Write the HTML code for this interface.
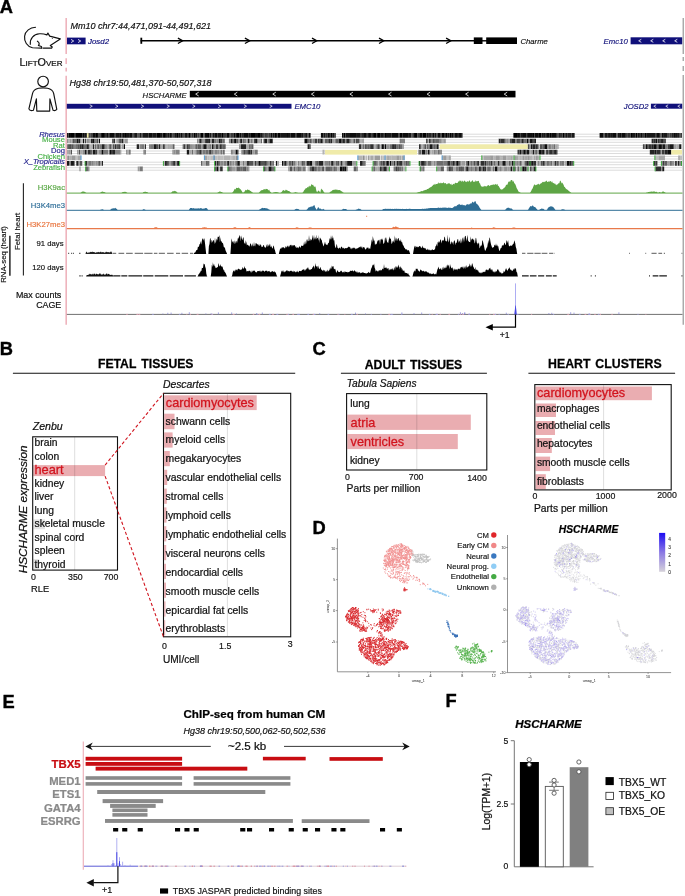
<!DOCTYPE html>
<html><head><meta charset="utf-8"><style>
html,body{margin:0;padding:0;background:#fff;width:685px;height:896px;overflow:hidden}
svg{display:block;will-change:transform}
text{font-family:"Liberation Sans",sans-serif}
</style></head><body>
<svg width="685" height="896" viewBox="0 0 685 896">
<text x="-0.2" y="12.9" font-size="18.3" fill="#000" stroke="#000" stroke-width="0.38" font-weight="bold">A</text>
<g fill="none" stroke="#111" stroke-width="1.15" stroke-linecap="round" stroke-linejoin="round"><path d="M35.5 27.3 C30 27.4 25.2 31 24.6 36.3 C24 41.5 27 46.5 32.5 47.8 L41.6 48.1"/><path d="M30.3 44.3 C29.8 38.5 33.5 34.2 39.5 33.8 C42.5 33.6 45 34.2 46.9 34.9 L47.9 33.1 L49.7 36.1 L60.3 38.9 L50.3 45.5 L52.3 47 L51.6 48.1 L43.3 48.1"/><path d="M37.4 41.2 C39.5 42.5 39.6 44.3 38.4 45.5 L41.4 46.5 L41.9 48.1"/></g>
<circle cx="52.3" cy="38.5" r="0.5" fill="#222"/>
<text x="19.6" y="65.6" fill="#111" font-size="10.8" stroke="#111" stroke-width="0.23">L<tspan font-size="8.0">IFT</tspan>O<tspan font-size="8.0">VER</tspan></text>
<g fill="none" stroke="#111" stroke-width="1.15" stroke-linejoin="round"><circle cx="43.1" cy="81.5" r="5.3"/><path d="M36.4 98.9 L36.8 111.1 L49.7 111.1 L49.9 98.9 L53.1 110.3 Q55.3 111.1 56.8 109.4 L53.7 93.6 Q52.8 89.4 47.5 88.3 Q43 87.5 38.6 88.3 Q33.4 89.4 32.5 93.6 L28.9 108.8 Q29.6 111.2 33.4 110.3 Z"/></g>
<path d="M66.2 18 V54 M66.2 58.2 V64 M66.2 67.7 V71.4 M66.2 75.8 V324.7" stroke="#eeb4bd" stroke-width="1.6" fill="none"/>
<path d="M683.2 18 V54 M683.2 57 V61 M683.2 66 V71 M683.2 75 V324.7" stroke="#8e8e8e" stroke-width="1.1" fill="none"/>
<text x="70.4" y="28.7" font-size="9.0" fill="#111" stroke="#111" stroke-width="0.19" font-style="italic">Mm10 chr7:44,471,091-44,491,621</text>
<rect x="67.00" y="37.60" width="18.60" height="6.70" fill="#10107a" />
<path d="M71.0 39.4 L73.7 41 L71.0 42.6" stroke="#fff" stroke-width="0.8" fill="none"/>
<path d="M78.0 39.4 L80.7 41 L78.0 42.6" stroke="#fff" stroke-width="0.8" fill="none"/>
<text x="88.0" y="43.6" font-size="7.9" fill="#10107a" stroke="#10107a" stroke-width="0.17" font-style="italic">Josd2</text>
<line x1="140.60" y1="40.80" x2="474.00" y2="40.80" stroke="#000" stroke-width="1.4" />
<line x1="141.30" y1="37.70" x2="141.30" y2="43.80" stroke="#000" stroke-width="1.8" />
<path d="M177.9 38.1 L182.7 40.8 L177.9 43.5" stroke="#000" stroke-width="1.3" fill="none"/>
<path d="M244.9 38.1 L249.8 40.8 L244.9 43.5" stroke="#000" stroke-width="1.3" fill="none"/>
<path d="M312.0 38.1 L316.8 40.8 L312.0 43.5" stroke="#000" stroke-width="1.3" fill="none"/>
<path d="M379.0 38.1 L383.8 40.8 L379.0 43.5" stroke="#000" stroke-width="1.3" fill="none"/>
<path d="M446.1 38.1 L450.9 40.8 L446.1 43.5" stroke="#000" stroke-width="1.3" fill="none"/>
<rect x="473.80" y="37.40" width="8.70" height="6.60" fill="#000" />
<line x1="482.00" y1="40.80" x2="487.00" y2="40.80" stroke="#000" stroke-width="1.4" />
<rect x="486.20" y="37.40" width="30.80" height="6.60" fill="#000" />
<text x="520.5" y="43.7" font-size="7.7" fill="#111" stroke="#111" stroke-width="0.16" font-style="italic">Charme</text>
<text x="603.6" y="43.8" font-size="7.8" fill="#10107a" stroke="#10107a" stroke-width="0.16" font-style="italic">Emc10</text>
<rect x="630.60" y="37.30" width="51.60" height="7.00" fill="#10107a" />
<path d="M641.3 39.3 L638.7 40.8 L641.3 42.3" stroke="#fff" stroke-width="0.8" fill="none"/>
<path d="M653.3 39.3 L650.7 40.8 L653.3 42.3" stroke="#fff" stroke-width="0.8" fill="none"/>
<path d="M665.3 39.3 L662.7 40.8 L665.3 42.3" stroke="#fff" stroke-width="0.8" fill="none"/>
<path d="M677.3 39.3 L674.7 40.8 L677.3 42.3" stroke="#fff" stroke-width="0.8" fill="none"/>
<text x="69.4" y="86.1" font-size="9.0" fill="#111" stroke="#111" stroke-width="0.19" font-style="italic">Hg38 chr19:50,481,370-50,507,318</text>
<text x="142.6" y="98.0" font-size="7.7" fill="#111" stroke="#111" stroke-width="0.16" font-style="italic">HSCHARME</text>
<rect x="189.80" y="90.80" width="325.70" height="6.60" fill="#000" />
<path d="M198.7 92.2 L195.7 94.1 L198.7 96" stroke="#fff" stroke-width="0.8" fill="none"/>
<path d="M237.3 92.2 L234.3 94.1 L237.3 96" stroke="#fff" stroke-width="0.8" fill="none"/>
<path d="M275.8 92.2 L272.8 94.1 L275.8 96" stroke="#fff" stroke-width="0.8" fill="none"/>
<path d="M314.4 92.2 L311.4 94.1 L314.4 96" stroke="#fff" stroke-width="0.8" fill="none"/>
<path d="M352.9 92.2 L349.9 94.1 L352.9 96" stroke="#fff" stroke-width="0.8" fill="none"/>
<path d="M391.5 92.2 L388.5 94.1 L391.5 96" stroke="#fff" stroke-width="0.8" fill="none"/>
<path d="M430.1 92.2 L427.1 94.1 L430.1 96" stroke="#fff" stroke-width="0.8" fill="none"/>
<path d="M468.6 92.2 L465.6 94.1 L468.6 96" stroke="#fff" stroke-width="0.8" fill="none"/>
<path d="M507.2 92.2 L504.2 94.1 L507.2 96" stroke="#fff" stroke-width="0.8" fill="none"/>
<rect x="66.80" y="103.80" width="224.70" height="4.90" fill="#10107a" />
<path d="M89.7 104.7 L92.3 106.2 L89.7 107.7" stroke="#fff" stroke-width="0.7" fill="none"/>
<path d="M115.4 104.7 L118.0 106.2 L115.4 107.7" stroke="#fff" stroke-width="0.7" fill="none"/>
<path d="M141.1 104.7 L143.7 106.2 L141.1 107.7" stroke="#fff" stroke-width="0.7" fill="none"/>
<path d="M166.8 104.7 L169.4 106.2 L166.8 107.7" stroke="#fff" stroke-width="0.7" fill="none"/>
<path d="M192.5 104.7 L195.1 106.2 L192.5 107.7" stroke="#fff" stroke-width="0.7" fill="none"/>
<path d="M218.2 104.7 L220.8 106.2 L218.2 107.7" stroke="#fff" stroke-width="0.7" fill="none"/>
<path d="M243.9 104.7 L246.5 106.2 L243.9 107.7" stroke="#fff" stroke-width="0.7" fill="none"/>
<path d="M269.6 104.7 L272.2 106.2 L269.6 107.7" stroke="#fff" stroke-width="0.7" fill="none"/>
<text x="294.4" y="108.7" font-size="7.8" fill="#10107a" stroke="#10107a" stroke-width="0.16" font-style="italic">EMC10</text>
<text x="623.8" y="109.4" font-size="7.7" fill="#10107a" stroke="#10107a" stroke-width="0.16" font-style="italic">JOSD2</text>
<rect x="650.90" y="103.70" width="31.30" height="5.00" fill="#10107a" />
<path d="M656.2 104.8 L653.8 106.2 L656.2 107.6" stroke="#fff" stroke-width="0.7" fill="none"/>
<path d="M668.2 104.8 L665.8 106.2 L668.2 107.6" stroke="#fff" stroke-width="0.7" fill="none"/>
<path d="M680.2 104.8 L677.8 106.2 L680.2 107.6" stroke="#fff" stroke-width="0.7" fill="none"/>
<text x="64.9" y="136.8" font-size="7.6" fill="#23238c" stroke="#23238c" stroke-width="0.16" text-anchor="end" font-style="italic">Rhesus</text>
<text x="64.9" y="142.3" font-size="7.6" fill="#47b047" stroke="#47b047" stroke-width="0.16" text-anchor="end">Mouse</text>
<text x="64.9" y="147.7" font-size="7.6" fill="#47b047" stroke="#47b047" stroke-width="0.16" text-anchor="end">Rat</text>
<text x="64.9" y="153.2" font-size="7.6" fill="#23238c" stroke="#23238c" stroke-width="0.16" text-anchor="end">Dog</text>
<text x="64.9" y="158.6" font-size="7.6" fill="#47b047" stroke="#47b047" stroke-width="0.16" text-anchor="end">Chicken</text>
<text x="64.9" y="163.9" font-size="7.6" fill="#23238c" stroke="#23238c" stroke-width="0.16" text-anchor="end" font-style="italic">X_Tropicalis</text>
<text x="64.9" y="169.6" font-size="7.6" fill="#47b047" stroke="#47b047" stroke-width="0.16" text-anchor="end">Zebrafish</text>
<path d="M67 134.2H682M67 136.7H682M67 139.8H682M67 142.3H682M67 145.4H682M67 147.9H682M67 151.0H682M67 153.5H682M451 156.5H682M451 159.0H682M67 162.2H682M67 164.7H682M67 167.7H682M67 170.2H682" stroke="#c4c4c4" stroke-width="0.6" fill="none"/>
<path d="M68.5 135.4h1.5M71.0 135.4h1.0M72.0 135.4h2.0M76.0 135.4h2.0M78.0 135.4h0.8M78.8 135.4h1.5M80.3 135.4h2.0M89.6 135.4h0.8M95.2 135.4h0.8M96.0 135.4h1.0M102.0 135.4h2.0M108.5 135.4h1.2M114.4 135.4h1.0M124.9 135.4h2.0M156.8 135.4h2.0M158.8 135.4h1.2M164.0 135.4h1.0M166.2 135.4h1.0M176.2 135.4h2.0M182.6 135.4h1.0M186.1 135.4h1.2M188.8 135.4h1.5M193.5 135.4h1.5M200.8 135.4h2.5M208.0 135.4h1.5M221.3 135.4h2.0M236.1 135.4h0.8M236.9 135.4h2.5M242.2 135.4h1.0M250.2 135.4h2.5M252.7 135.4h1.2M253.9 135.4h1.0M254.9 135.4h1.0M257.1 135.4h1.5M258.6 135.4h1.5M262.3 135.4h1.2M266.3 135.4h1.0M274.8 135.4h1.2M277.6 135.4h2.5M330.7 135.4h1.5M343.5 135.4h2.0M360.4 135.4h1.0M362.2 135.4h0.8M363.0 135.4h0.8M366.3 135.4h1.0M370.1 135.4h1.5M374.0 135.4h1.0M375.0 135.4h1.5M378.0 135.4h1.5M379.5 135.4h1.2M384.4 135.4h2.5M399.5 135.4h1.2M400.7 135.4h2.0M408.0 135.4h0.8M415.0 135.4h2.5M422.5 135.4h1.5M424.0 135.4h2.5M441.5 135.4h1.2M442.7 135.4h1.5M445.2 135.4h2.0M449.7 135.4h1.5M513.4 135.4h1.2M514.6 135.4h2.5M517.1 135.4h0.8M519.1 135.4h1.2M532.1 135.4h1.2M533.3 135.4h1.2M538.2 135.4h0.8M539.0 135.4h2.5M543.0 135.4h0.8M545.3 135.4h1.5M549.3 135.4h2.5M556.3 135.4h1.2M562.4 135.4h2.0M574.6 135.4h0.1M607.3 135.4h0.8M609.1 135.4h1.0M625.1 135.4h0.8M630.4 135.4h2.5M635.4 135.4h2.0M639.9 135.4h0.8M642.7 135.4h1.0M644.5 135.4h1.5M655.7 135.4h1.0M659.2 135.4h1.2M663.1 135.4h0.8M680.5 135.4h0.8" stroke="#000000" stroke-width="4.7" fill="none"/>
<path d="M70.0 135.4h1.0M82.3 135.4h2.5M86.8 135.4h1.2M88.0 135.4h0.8M92.7 135.4h2.5M97.0 135.4h1.5M99.5 135.4h1.0M107.0 135.4h1.5M109.7 135.4h2.0M111.7 135.4h1.2M112.9 135.4h1.5M119.9 135.4h1.5M122.2 135.4h1.2M123.4 135.4h1.5M129.9 135.4h1.0M130.9 135.4h1.5M133.6 135.4h1.2M148.7 135.4h0.8M149.5 135.4h2.5M152.0 135.4h0.8M162.5 135.4h1.5M169.7 135.4h1.0M170.7 135.4h1.2M173.7 135.4h1.0M180.6 135.4h2.0M195.0 135.4h0.8M204.8 135.4h1.2M206.0 135.4h2.0M214.8 135.4h2.5M223.3 135.4h1.5M226.3 135.4h2.0M228.3 135.4h0.8M230.6 135.4h1.2M233.3 135.4h2.0M239.4 135.4h2.0M243.2 135.4h1.5M244.7 135.4h1.0M245.7 135.4h2.5M270.3 135.4h0.8M271.1 135.4h1.5M287.0 135.4h1.0M290.8 135.4h2.5M293.3 135.4h2.0M296.8 135.4h1.5M298.3 135.4h0.8M299.1 135.4h2.0M308.4 135.4h1.5M309.9 135.4h0.7M320.9 135.4h1.5M322.4 135.4h1.2M325.6 135.4h1.2M327.6 135.4h1.5M329.1 135.4h0.8M335.7 135.4h0.3M342.0 135.4h1.5M350.0 135.4h2.0M352.0 135.4h2.5M354.5 135.4h1.2M355.7 135.4h1.2M361.4 135.4h0.8M363.8 135.4h2.5M368.1 135.4h2.0M371.6 135.4h1.2M383.2 135.4h1.2M391.8 135.4h2.5M394.3 135.4h1.2M395.5 135.4h1.5M397.0 135.4h1.5M402.7 135.4h2.5M405.2 135.4h2.0M407.2 135.4h0.8M413.8 135.4h1.2M419.8 135.4h1.5M421.3 135.4h1.2M428.0 135.4h0.8M432.8 135.4h0.8M433.6 135.4h1.0M437.8 135.4h2.5M444.2 135.4h1.0M451.2 135.4h2.5M454.7 135.4h2.0M456.7 135.4h1.2M458.9 135.4h1.0M459.9 135.4h2.0M517.9 135.4h1.2M523.0 135.4h0.8M523.8 135.4h2.5M527.1 135.4h2.5M529.6 135.4h2.5M534.5 135.4h1.2M535.7 135.4h2.5M546.8 135.4h1.0M547.8 135.4h1.5M551.8 135.4h2.5M554.3 135.4h1.2M555.5 135.4h0.8M558.7 135.4h1.2M564.4 135.4h0.8M567.7 135.4h1.2M599.6 135.4h2.0M601.6 135.4h2.0M608.1 135.4h1.0M612.1 135.4h0.8M612.9 135.4h1.5M614.4 135.4h2.0M619.1 135.4h2.0M621.9 135.4h2.0M623.9 135.4h1.2M640.7 135.4h2.0M643.7 135.4h0.8M646.0 135.4h0.8M656.7 135.4h2.5M661.6 135.4h1.5M667.6 135.4h0.8M673.9 135.4h2.0M677.9 135.4h1.0M681.3 135.4h0.7M82.9 141.0h1.2M92.9 141.0h1.5M98.8 141.0h1.2M220.6 141.0h1.2M234.9 141.0h1.2M260.8 141.0h0.8M304.5 141.0h2.5M340.0 141.0h1.5M344.2 141.0h1.0M356.2 141.0h0.8M426.3 141.0h0.8M510.2 141.0h1.2M518.7 141.0h0.8M526.6 141.0h2.0M532.3 141.0h1.0M534.3 141.0h1.6M652.1 141.0h1.2M655.8 141.0h1.5M70.5 146.7h0.8M88.3 146.7h1.0M110.3 146.7h1.2M124.0 146.7h1.0M174.4 146.7h0.1M188.7 146.7h1.0M221.4 146.7h1.0M378.2 146.7h0.8M381.4 146.7h2.5M384.9 146.7h1.2M426.8 146.7h0.8M544.7 146.7h1.5M546.2 146.7h1.0M645.9 146.7h1.2M653.8 146.7h2.5M658.3 146.7h1.2M659.5 146.7h1.5M90.5 152.2h1.2M101.6 152.2h2.0M109.5 152.2h1.5M235.4 152.2h2.0M523.8 152.2h2.0M538.6 152.2h2.5M555.1 152.2h1.2M557.1 152.2h0.3M667.9 152.2h2.5M670.4 152.2h0.9M76.4 163.4h1.5M217.1 163.4h1.2M258.3 163.4h2.5M264.3 163.4h1.5M282.0 163.4h1.0M292.2 163.4h1.0M309.9 163.4h2.5M386.2 163.4h1.2M387.4 163.4h1.5M389.7 163.4h1.5M396.9 163.4h1.0M424.9 163.4h0.8M452.4 163.4h1.5M456.2 163.4h2.5M566.8 163.4h2.5M675.8 163.4h1.0M217.0 168.9h1.5M305.2 168.9h0.3M339.8 168.9h2.5M344.8 168.9h1.5M373.5 168.9h1.2M460.9 168.9h0.8M484.4 168.9h1.5M494.9 168.9h1.5M496.4 168.9h1.2M522.7 168.9h2.0" stroke="#0c0c0c" stroke-width="4.7" fill="none"/>
<path d="M67.0 135.4h1.5M84.8 135.4h2.0M88.8 135.4h0.8M91.2 135.4h1.5M98.5 135.4h1.0M100.5 135.4h1.5M104.0 135.4h1.0M115.4 135.4h2.0M117.4 135.4h2.5M121.4 135.4h0.8M126.9 135.4h1.0M127.9 135.4h2.0M134.8 135.4h2.5M139.5 135.4h2.0M142.7 135.4h1.5M144.2 135.4h2.5M146.7 135.4h1.2M147.9 135.4h0.8M152.8 135.4h1.5M154.3 135.4h2.5M160.0 135.4h2.5M165.0 135.4h1.2M167.2 135.4h2.5M172.7 135.4h1.0M174.7 135.4h1.5M178.2 135.4h1.2M179.4 135.4h1.2M184.6 135.4h1.5M187.3 135.4h1.5M190.3 135.4h1.2M195.8 135.4h1.0M196.8 135.4h0.8M199.6 135.4h1.2M209.5 135.4h1.0M210.5 135.4h0.8M212.3 135.4h1.5M213.8 135.4h1.0M217.3 135.4h2.0M219.3 135.4h2.0M235.3 135.4h0.8M241.4 135.4h0.8M248.2 135.4h2.0M255.9 135.4h1.2M260.1 135.4h1.0M261.1 135.4h1.2M263.5 135.4h0.8M272.6 135.4h1.2M273.8 135.4h1.0M276.0 135.4h0.8M276.8 135.4h0.8M280.1 135.4h2.0M282.1 135.4h1.2M283.3 135.4h1.0M284.3 135.4h1.2M285.5 135.4h1.5M288.0 135.4h0.8M288.8 135.4h2.0M295.3 135.4h1.5M301.1 135.4h0.8M301.9 135.4h1.2M305.1 135.4h2.5M323.6 135.4h2.0M326.8 135.4h0.8M329.9 135.4h0.8M332.2 135.4h2.0M345.5 135.4h2.5M348.0 135.4h2.0M356.9 135.4h2.5M359.4 135.4h1.0M367.3 135.4h0.8M372.8 135.4h1.2M376.5 135.4h1.5M380.7 135.4h2.5M386.9 135.4h1.2M388.1 135.4h2.5M390.6 135.4h1.2M398.5 135.4h1.0M408.8 135.4h2.5M412.3 135.4h1.5M419.0 135.4h0.8M426.5 135.4h1.5M431.3 135.4h1.5M434.6 135.4h2.0M440.3 135.4h1.2M447.2 135.4h2.5M453.7 135.4h1.0M457.9 135.4h1.0M520.3 135.4h1.2M521.5 135.4h1.5M526.3 135.4h0.8M541.5 135.4h1.5M543.8 135.4h1.5M565.2 135.4h2.5M571.4 135.4h2.0M573.4 135.4h1.2M604.6 135.4h1.2M605.8 135.4h1.5M610.1 135.4h2.0M617.6 135.4h1.5M621.1 135.4h0.8M632.9 135.4h2.5M637.4 135.4h2.5M646.8 135.4h1.2M648.0 135.4h1.5M649.5 135.4h2.5M652.0 135.4h1.2M653.2 135.4h2.5M663.9 135.4h2.5M666.4 135.4h1.2M668.4 135.4h1.0M675.9 135.4h2.0M678.9 135.4h0.8M76.4 141.0h2.0M127.2 141.0h0.3M218.6 141.0h2.0M233.9 141.0h1.0M243.3 141.0h1.2M256.0 141.0h1.0M264.8 141.0h2.5M269.5 141.0h2.5M320.7 141.0h2.0M338.5 141.0h1.5M429.1 141.0h1.0M529.8 141.0h2.5M658.1 141.0h1.5M660.4 141.0h1.5M663.4 141.0h1.2M69.7 146.7h0.8M108.7 146.7h0.8M113.0 146.7h0.8M145.0 146.7h0.9M153.5 146.7h2.0M155.5 146.7h1.2M195.9 146.7h0.8M197.9 146.7h0.8M203.2 146.7h1.5M204.7 146.7h2.0M209.5 146.7h1.2M211.7 146.7h2.0M365.2 146.7h1.0M369.7 146.7h1.0M393.1 146.7h1.0M429.8 146.7h2.5M437.0 146.7h1.6M530.9 146.7h1.2M656.3 146.7h1.2M662.5 146.7h2.5M670.0 146.7h2.5M672.5 146.7h0.8M679.1 146.7h0.8M679.9 146.7h1.2M79.2 152.2h1.0M84.7 152.2h1.5M92.9 152.2h2.5M186.8 152.2h2.5M237.4 152.2h0.8M238.8 152.2h0.2M421.9 152.2h1.0M422.9 152.2h2.5M426.4 152.2h0.8M427.8 152.2h1.2M519.5 152.2h1.5M527.0 152.2h2.0M532.5 152.2h2.0M542.1 152.2h2.0M654.8 152.2h1.5M67.0 163.4h2.0M70.5 163.4h2.5M80.3 163.4h1.5M98.6 163.4h1.2M177.1 163.4h2.0M215.1 163.4h1.2M227.1 163.4h0.8M237.2 163.4h2.0M270.1 163.4h1.5M273.4 163.4h0.4M275.9 163.4h1.2M347.1 163.4h2.5M349.6 163.4h2.5M393.7 163.4h1.2M423.1 163.4h1.0M467.3 163.4h2.0M503.0 163.4h2.5M512.0 163.4h1.0M531.2 163.4h2.0M675.0 163.4h0.8M263.6 168.9h1.2M268.6 168.9h2.5M342.3 168.9h2.5M443.1 168.9h0.6M493.3 168.9h1.0M511.0 168.9h1.2M517.8 168.9h0.8M662.2 168.9h2.0" stroke="#181818" stroke-width="4.7" fill="none"/>
<path d="M132.4 135.4h1.2M138.3 135.4h1.2M141.5 135.4h1.2M183.6 135.4h1.0M267.3 135.4h1.0M428.8 135.4h2.5M568.9 135.4h2.5M671.9 135.4h2.0M78.4 141.0h2.0M85.1 141.0h1.0M90.9 141.0h2.0M97.2 141.0h0.8M119.3 141.0h1.5M122.0 141.0h1.5M199.2 141.0h2.5M208.1 141.0h2.0M211.6 141.0h2.5M230.9 141.0h1.0M231.9 141.0h0.8M240.1 141.0h1.2M241.3 141.0h0.8M247.5 141.0h1.5M253.8 141.0h1.0M263.6 141.0h1.2M307.0 141.0h0.8M319.5 141.0h1.2M330.5 141.0h1.5M342.7 141.0h1.5M346.2 141.0h2.5M348.7 141.0h1.0M399.8 141.0h0.8M498.8 141.0h1.5M504.6 141.0h0.8M507.6 141.0h0.8M511.4 141.0h2.5M513.9 141.0h1.5M517.2 141.0h1.5M519.5 141.0h1.0M521.3 141.0h1.2M522.5 141.0h0.8M533.3 141.0h1.0M659.6 141.0h0.8M661.9 141.0h1.5M81.3 146.7h2.5M86.3 146.7h2.0M92.6 146.7h1.5M102.0 146.7h1.2M103.2 146.7h1.5M118.7 146.7h1.2M136.7 146.7h2.5M158.5 146.7h2.0M241.0 146.7h2.5M243.5 146.7h2.5M307.6 146.7h2.0M392.1 146.7h1.0M398.6 146.7h1.2M532.9 146.7h2.5M543.7 146.7h1.0M651.8 146.7h2.0M661.0 146.7h1.5M95.4 152.2h1.5M113.0 152.2h2.0M248.1 152.2h2.5M257.1 152.2h0.4M418.8 152.2h0.8M523.0 152.2h0.8M546.9 152.2h1.0M552.4 152.2h1.2M556.3 152.2h0.8M649.8 152.2h2.5M652.3 152.2h2.5M664.9 152.2h1.0M665.9 152.2h2.0M73.0 163.4h1.5M101.8 163.4h1.2M164.9 163.4h2.0M220.6 163.4h0.8M224.5 163.4h1.0M227.9 163.4h1.5M239.2 163.4h1.0M284.2 163.4h2.5M302.1 163.4h0.8M306.4 163.4h2.5M308.9 163.4h1.0M318.6 163.4h2.5M321.1 163.4h2.0M331.1 163.4h2.5M356.6 163.4h0.2M360.0 163.4h2.0M363.5 163.4h1.2M419.0 163.4h1.5M421.1 163.4h2.0M471.3 163.4h1.0M497.5 163.4h2.0M526.2 163.4h2.5M547.3 163.4h0.8M569.3 163.4h0.8M570.1 163.4h1.2M678.0 163.4h1.5M680.7 163.4h1.3M297.5 168.9h1.2M318.5 168.9h1.0M383.3 168.9h1.5M384.8 168.9h2.0M396.1 168.9h1.5M466.2 168.9h2.5M478.9 168.9h2.0M482.4 168.9h2.0M524.7 168.9h2.0M530.1 168.9h0.8M533.4 168.9h2.5" stroke="#242424" stroke-width="4.7" fill="none"/>
<path d="M74.0 135.4h2.0M105.0 135.4h2.0M171.9 135.4h0.8M191.5 135.4h2.0M334.2 135.4h1.5M436.6 135.4h1.2M557.5 135.4h1.2M559.9 135.4h2.5M603.6 135.4h1.0M627.9 135.4h2.5M114.0 141.0h1.0M205.1 141.0h2.0M207.1 141.0h1.0M254.8 141.0h1.2M272.0 141.0h0.8M329.0 141.0h1.5M341.5 141.0h1.2M500.3 141.0h2.0M502.3 141.0h0.8M503.1 141.0h1.5M523.3 141.0h0.8M653.3 141.0h2.5M664.6 141.0h1.2M68.2 146.7h1.5M76.3 146.7h1.0M79.8 146.7h1.5M96.7 146.7h0.8M115.0 146.7h1.2M117.2 146.7h1.5M219.4 146.7h0.8M220.2 146.7h1.2M250.5 146.7h0.8M309.6 146.7h1.0M358.9 146.7h2.5M370.7 146.7h2.5M394.1 146.7h2.5M419.0 146.7h1.0M527.7 146.7h1.2M535.4 146.7h2.5M642.9 146.7h1.0M648.3 146.7h2.0M650.3 146.7h1.5M673.3 146.7h0.8M88.0 152.2h2.5M196.5 152.2h1.2M199.2 152.2h2.5M224.5 152.2h0.3M243.4 152.2h1.5M250.6 152.2h1.5M429.0 152.2h0.8M535.3 152.2h1.5M541.1 152.2h1.0M549.1 152.2h2.5M551.6 152.2h0.8M553.6 152.2h1.5M656.3 152.2h0.8M657.1 152.2h1.2M658.3 152.2h2.5M85.0 163.4h2.0M173.1 163.4h2.5M246.5 163.4h2.5M272.4 163.4h1.0M340.4 163.4h2.0M384.2 163.4h1.0M399.1 163.4h1.0M400.1 163.4h2.5M407.6 163.4h1.0M424.1 163.4h0.8M433.8 163.4h0.8M447.2 163.4h1.2M448.4 163.4h2.0M477.1 163.4h1.2M478.3 163.4h1.0M480.5 163.4h2.5M483.0 163.4h1.0M485.0 163.4h1.2M490.7 163.4h1.5M494.3 163.4h1.2M505.5 163.4h0.8M528.7 163.4h2.5M533.2 163.4h1.0M534.2 163.4h2.0M542.8 163.4h2.0M554.5 163.4h1.5M557.2 163.4h1.5M653.6 163.4h2.0M667.6 163.4h0.8M220.1 168.9h2.5M222.6 168.9h0.1M227.8 168.9h1.0M230.8 168.9h0.8M271.1 168.9h0.8M312.0 168.9h2.0M323.0 168.9h0.8M380.0 168.9h1.0M420.0 168.9h0.8M423.3 168.9h1.0M465.4 168.9h0.8M521.9 168.9h0.8M655.8 168.9h1.5M657.3 168.9h1.2M658.5 168.9h2.5" stroke="#303030" stroke-width="4.7" fill="none"/>
<path d="M90.4 135.4h0.8M137.3 135.4h1.0M197.6 135.4h2.0M203.3 135.4h1.5M211.3 135.4h1.0M224.8 135.4h1.5M229.1 135.4h1.5M231.8 135.4h1.5M264.3 135.4h2.0M268.3 135.4h2.0M303.1 135.4h2.0M307.6 135.4h0.8M411.3 135.4h1.0M417.5 135.4h1.5M616.4 135.4h1.2M625.9 135.4h2.0M660.4 135.4h1.2M669.4 135.4h2.5M679.7 135.4h0.8M72.4 141.0h1.5M268.3 141.0h1.2M314.5 141.0h2.5M318.0 141.0h1.5M516.4 141.0h0.8M156.7 146.7h1.2M163.0 146.7h1.0M183.7 146.7h1.5M186.7 146.7h2.0M215.7 146.7h2.5M432.3 146.7h1.0M532.1 146.7h0.8M542.5 146.7h1.2M647.1 146.7h1.2M667.5 146.7h2.5M111.0 152.2h2.0M126.5 152.2h0.8M128.8 152.2h0.8M209.1 152.2h2.5M517.5 152.2h2.0M545.9 152.2h1.0M661.6 152.2h2.5M218.3 163.4h1.5M255.0 163.4h1.0M382.7 163.4h1.5M442.3 163.4h1.2M474.1 163.4h1.0M571.3 163.4h1.5M655.6 163.4h1.5M662.5 163.4h2.0M85.6 168.9h1.2M315.2 168.9h1.5M333.6 168.9h1.2M382.5 168.9h0.8M448.4 168.9h2.5" stroke="#3c3c3c" stroke-width="4.7" fill="none"/>
<path d="M461.9 135.4h0.8" stroke="#484848" stroke-width="4.7" fill="none"/>
<path d="M95.4 141.0h1.0M221.8 141.0h0.8M309.8 141.0h2.0M327.2 141.0h0.8M350.3 141.0h1.2M353.7 141.0h1.5M357.0 141.0h2.0M363.5 141.0h0.5M430.1 141.0h1.2M432.8 141.0h2.0M440.5 141.0h1.0M71.3 146.7h2.5M77.3 146.7h2.5M94.7 146.7h1.2M182.7 146.7h1.0M366.2 146.7h1.5M373.2 146.7h1.0M379.0 146.7h0.8M424.7 146.7h1.5M540.0 146.7h1.0M541.0 146.7h1.5M657.5 146.7h0.8M70.6 152.2h1.4M82.7 152.2h0.8M86.2 152.2h1.0M100.4 152.2h1.2M221.1 152.2h0.8M440.4 152.2h1.2M664.1 152.2h0.8M77.9 163.4h0.8M166.9 163.4h2.0M179.1 163.4h0.5M207.1 163.4h0.8M230.2 163.4h1.2M249.0 163.4h2.0M251.0 163.4h2.0M260.8 163.4h1.5M262.3 163.4h2.0M298.3 163.4h0.8M316.1 163.4h2.5M337.2 163.4h2.0M362.0 163.4h1.5M376.7 163.4h1.0M380.2 163.4h2.5M397.9 163.4h1.2M405.6 163.4h0.8M406.4 163.4h1.2M408.6 163.4h1.0M453.9 163.4h1.5M540.8 163.4h2.0M560.2 163.4h1.0M657.1 163.4h0.4M245.0 168.9h1.5M289.5 168.9h2.5M381.0 168.9h1.5M397.6 168.9h1.5M458.4 168.9h2.5M471.2 168.9h0.8M513.0 168.9h2.0" stroke="#545454" stroke-width="4.7" fill="none"/>
<path d="M94.4 141.0h1.0M96.4 141.0h0.8M112.0 141.0h2.0M202.5 141.0h1.0M236.1 141.0h2.5M249.0 141.0h0.8M322.7 141.0h0.8M324.7 141.0h2.5M328.0 141.0h1.0M336.0 141.0h2.5M434.8 141.0h1.0M97.5 146.7h2.0M104.7 146.7h1.0M116.2 146.7h1.0M140.2 146.7h0.8M164.0 146.7h1.5M172.4 146.7h2.0M198.7 146.7h2.5M222.4 146.7h1.2M223.6 146.7h1.5M251.3 146.7h2.1M367.7 146.7h2.0M420.0 146.7h1.0M423.5 146.7h1.2M428.6 146.7h1.2M433.3 146.7h2.5M108.7 152.2h0.8M246.1 152.2h2.0M419.6 152.2h1.5M525.8 152.2h1.2M88.6 163.4h1.2M201.0 163.4h1.5M205.9 163.4h1.2M265.8 163.4h2.0M288.7 163.4h2.5M336.0 163.4h1.2M374.0 163.4h1.2M375.2 163.4h1.5M450.4 163.4h2.0M455.4 163.4h0.8M458.7 163.4h2.0M466.1 163.4h1.2M488.7 163.4h2.0M501.5 163.4h1.5M508.8 163.4h2.0M519.7 163.4h2.0M525.0 163.4h1.2M563.2 163.4h0.8M572.8 163.4h0.9M664.5 163.4h2.5M142.2 168.9h0.6M214.5 168.9h2.5M236.3 168.9h2.0M238.3 168.9h2.5M242.8 168.9h1.0M243.8 168.9h1.2M267.6 168.9h1.0M294.0 168.9h1.5M310.0 168.9h2.0M321.5 168.9h1.5M325.9 168.9h2.5M328.4 168.9h2.5M353.7 168.9h2.5M440.6 168.9h2.5M450.9 168.9h2.5M461.7 168.9h2.5M474.5 168.9h1.2M475.7 168.9h1.2M500.1 168.9h0.8M518.6 168.9h0.8" stroke="#606060" stroke-width="4.7" fill="none"/>
<path d="M73.9 141.0h2.5M118.3 141.0h1.0M120.8 141.0h1.2M222.6 141.0h2.2M232.7 141.0h1.2M307.8 141.0h2.0M352.5 141.0h1.2M427.1 141.0h1.2M435.8 141.0h2.0M437.8 141.0h1.5M515.4 141.0h1.0M520.5 141.0h0.8M524.1 141.0h2.5M657.3 141.0h0.8M83.8 146.7h2.5M109.5 146.7h0.8M141.0 146.7h0.8M206.7 146.7h0.8M225.1 146.7h0.7M248.5 146.7h2.0M362.4 146.7h2.0M376.2 146.7h2.0M389.6 146.7h2.5M396.6 146.7h2.0M399.8 146.7h2.5M427.6 146.7h1.0M435.8 146.7h1.2M553.9 146.7h1.2M77.4 152.2h0.8M119.0 152.2h0.8M129.6 152.2h1.0M191.8 152.2h1.5M197.7 152.2h1.5M205.8 152.2h2.5M222.5 152.2h2.0M242.2 152.2h1.2M244.9 152.2h1.2M437.8 152.2h2.0M521.0 152.2h2.0M544.1 152.2h1.0M97.8 163.4h0.8M163.3 163.4h0.8M171.1 163.4h2.0M207.9 163.4h1.5M223.7 163.4h0.8M225.5 163.4h0.8M291.2 163.4h1.0M302.9 163.4h2.5M328.3 163.4h2.0M404.1 163.4h1.5M427.7 163.4h2.5M430.2 163.4h0.8M436.8 163.4h1.5M438.3 163.4h2.5M440.8 163.4h1.5M484.0 163.4h1.0M486.2 163.4h2.5M492.2 163.4h1.5M513.0 163.4h2.0M548.1 163.4h1.2M550.8 163.4h1.5M661.3 163.4h1.2M669.9 163.4h2.0M86.8 168.9h2.0M228.8 168.9h2.0M240.8 168.9h2.0M271.9 168.9h2.5M274.4 168.9h0.5M314.0 168.9h1.2M317.5 168.9h1.0M319.5 168.9h1.2M330.9 168.9h1.5M346.3 168.9h1.3M399.1 168.9h2.5M437.4 168.9h1.2M446.8 168.9h1.0M487.1 168.9h2.0M489.1 168.9h1.0M530.9 168.9h1.0M655.0 168.9h0.8" stroke="#6c6c6c" stroke-width="4.7" fill="none"/>
<path d="M204.3 141.0h0.8M214.1 141.0h2.5M245.1 141.0h1.2M250.4 141.0h2.0M345.2 141.0h1.0M403.1 141.0h1.8M431.3 141.0h1.5M439.3 141.0h1.2M505.4 141.0h1.2M528.6 141.0h1.2M67.0 146.7h1.2M99.5 146.7h2.5M141.8 146.7h1.2M143.0 146.7h1.0M151.0 146.7h2.5M194.9 146.7h1.0M196.7 146.7h1.2M218.2 146.7h1.2M548.4 146.7h2.5M557.6 146.7h0.8M643.9 146.7h2.0M665.0 146.7h2.5M83.5 152.2h1.2M103.6 152.2h2.0M105.6 152.2h2.5M144.2 152.2h1.7M172.5 152.2h1.0M202.5 152.2h0.8M203.3 152.2h2.5M208.3 152.2h0.8M211.6 152.2h2.0M254.6 152.2h2.5M547.9 152.2h1.2M74.5 163.4h0.5M78.7 163.4h1.0M87.8 163.4h0.8M89.8 163.4h1.5M221.4 163.4h1.5M235.2 163.4h2.0M243.0 163.4h1.5M283.0 163.4h1.2M293.2 163.4h2.5M314.9 163.4h1.2M327.1 163.4h1.2M333.6 163.4h1.2M342.4 163.4h1.2M345.1 163.4h2.0M373.0 163.4h1.0M385.2 163.4h1.0M391.2 163.4h2.5M395.7 163.4h1.2M409.6 163.4h0.4M443.5 163.4h1.5M445.0 163.4h1.2M446.2 163.4h1.0M473.1 163.4h1.0M475.1 163.4h2.0M499.5 163.4h1.2M518.7 163.4h1.0M549.3 163.4h1.5M561.2 163.4h2.0M679.5 163.4h1.2M139.7 168.9h2.5M248.5 168.9h0.8M264.8 168.9h2.0M298.7 168.9h2.5M302.7 168.9h2.5M332.4 168.9h1.2M334.8 168.9h2.5M356.2 168.9h1.6M377.7 168.9h0.8M393.6 168.9h2.5M401.6 168.9h1.5M455.9 168.9h2.5M480.9 168.9h1.5M490.1 168.9h1.2M509.8 168.9h1.2M515.0 168.9h1.0" stroke="#787878" stroke-width="4.7" fill="none"/>
<path d="M88.9 141.0h0.8M201.7 141.0h0.8M216.6 141.0h2.0M228.9 141.0h2.0M252.4 141.0h0.8M257.0 141.0h1.0M313.0 141.0h1.5M334.5 141.0h1.5M400.6 141.0h2.5M506.6 141.0h1.0M651.3 141.0h0.8M73.8 146.7h2.5M113.8 146.7h1.2M149.0 146.7h2.0M166.5 146.7h1.0M168.3 146.7h0.8M185.2 146.7h1.5M189.7 146.7h1.2M213.7 146.7h2.0M383.9 146.7h1.0M422.5 146.7h1.0M547.2 146.7h1.2M69.0 152.2h0.8M115.0 152.2h1.5M116.5 152.2h2.5M119.8 152.2h0.8M143.4 152.2h0.8M175.5 152.2h2.5M178.0 152.2h1.6M195.3 152.2h1.2M201.7 152.2h0.8M214.6 152.2h2.5M230.9 152.2h2.0M425.4 152.2h1.0M433.8 152.2h2.0M441.6 152.2h0.1M69.0 163.4h1.5M91.3 163.4h2.5M216.3 163.4h0.8M231.4 163.4h1.2M256.0 163.4h1.5M257.5 163.4h0.8M301.1 163.4h1.0M324.6 163.4h2.5M394.9 163.4h0.8M431.0 163.4h0.8M435.8 163.4h1.0M472.3 163.4h0.8M516.2 163.4h2.5M537.8 163.4h1.5M553.3 163.4h1.2M556.0 163.4h1.2M564.6 163.4h1.0M218.5 168.9h1.0M246.5 168.9h2.0M316.7 168.9h0.8M320.7 168.9h0.8M386.8 168.9h0.8M439.8 168.9h0.8M503.6 168.9h1.2M535.9 168.9h0.0" stroke="#848484" stroke-width="4.7" fill="none"/>
<path d="M67.0 141.0h1.2M86.9 141.0h2.0M197.0 141.0h1.2M203.5 141.0h0.8M210.1 141.0h1.5M359.0 141.0h1.0M442.5 141.0h0.8M509.2 141.0h1.0M105.7 146.7h2.0M119.9 146.7h1.5M190.9 146.7h2.0M201.2 146.7h2.0M207.5 146.7h2.0M361.4 146.7h1.0M364.4 146.7h0.8M386.1 146.7h1.0M387.1 146.7h2.5M402.3 146.7h1.5M528.9 146.7h2.0M537.9 146.7h1.5M551.9 146.7h2.0M87.2 152.2h0.8M91.7 152.2h1.2M98.4 152.2h2.0M173.5 152.2h2.0M213.6 152.2h1.0M217.1 152.2h2.5M529.0 152.2h1.5M68.0 157.8h1.0M80.3 157.8h0.8M235.6 157.8h2.4M362.7 157.8h2.0M387.2 157.8h0.8M391.5 157.8h1.2M448.8 157.8h1.0M490.2 157.8h0.8M507.5 157.8h0.8M509.5 157.8h0.8M664.3 157.8h0.7M87.0 163.4h0.8M95.8 163.4h2.0M175.6 163.4h1.5M203.5 163.4h1.2M219.8 163.4h0.8M222.9 163.4h0.8M226.3 163.4h0.8M232.6 163.4h2.0M240.8 163.4h0.8M267.8 163.4h1.5M269.3 163.4h0.8M271.6 163.4h0.8M330.3 163.4h0.8M378.7 163.4h1.5M425.7 163.4h2.0M460.7 163.4h0.8M469.3 163.4h2.0M500.7 163.4h0.8M510.8 163.4h1.2M515.0 163.4h1.2M671.9 163.4h2.5M79.4 168.9h1.2M295.5 168.9h2.0M301.2 168.9h1.5M324.4 168.9h1.5M372.0 168.9h1.5M405.6 168.9h0.3M420.8 168.9h2.5M436.6 168.9h0.8M438.6 168.9h1.2M468.7 168.9h2.5M472.0 168.9h2.5M476.9 168.9h2.0M504.8 168.9h2.5M512.2 168.9h0.8M516.6 168.9h1.2M661.0 168.9h1.2" stroke="#909090" stroke-width="4.7" fill="none"/>
<path d="M69.4 141.0h2.0M80.4 141.0h1.0M117.1 141.0h1.2M124.7 141.0h2.5M198.2 141.0h1.0M238.6 141.0h1.5M242.1 141.0h1.2M267.3 141.0h1.0M317.0 141.0h1.0M332.0 141.0h2.5M351.5 141.0h1.0M355.2 141.0h1.0M443.3 141.0h2.5M89.3 146.7h0.8M95.9 146.7h0.8M122.0 146.7h2.0M192.9 146.7h2.0M239.0 146.7h2.0M380.4 146.7h1.0M550.9 146.7h1.0M674.1 146.7h2.5M120.6 152.2h0.7M219.6 152.2h1.5M252.1 152.2h2.5M418.0 152.2h0.8M421.1 152.2h0.8M435.8 152.2h2.0M530.5 152.2h2.0M536.8 152.2h1.2M660.8 152.2h0.8M70.0 157.8h0.8M72.0 157.8h0.8M72.8 157.8h2.5M213.8 157.8h1.2M218.5 157.8h1.2M367.9 157.8h1.5M374.6 157.8h2.0M376.6 157.8h2.5M379.1 157.8h1.0M396.2 157.8h1.0M397.2 157.8h2.0M404.5 157.8h0.4M444.0 157.8h2.5M491.0 157.8h2.5M496.0 157.8h1.0M497.0 157.8h2.0M500.5 157.8h1.2M502.3 157.8h1.0M503.3 157.8h1.0M504.3 157.8h2.0M514.8 157.8h1.2M520.5 157.8h0.8M522.3 157.8h2.0M527.3 157.8h2.5M531.3 157.8h0.8M535.9 157.8h2.0M679.2 157.8h0.8M93.8 163.4h2.0M99.8 163.4h2.0M168.9 163.4h1.2M170.1 163.4h1.0M202.5 163.4h1.0M229.4 163.4h0.8M253.0 163.4h2.0M286.7 163.4h2.0M305.4 163.4h1.0M323.1 163.4h1.5M334.8 163.4h1.2M339.2 163.4h1.2M352.1 163.4h2.5M354.6 163.4h2.0M364.7 163.4h1.3M388.9 163.4h0.8M402.6 163.4h1.5M434.6 163.4h1.2M461.5 163.4h2.0M463.5 163.4h2.0M495.5 163.4h1.2M496.7 163.4h0.8M506.3 163.4h2.5M521.7 163.4h0.8M523.5 163.4h1.5M539.3 163.4h1.5M544.8 163.4h2.5M565.6 163.4h1.2M668.4 163.4h1.5M137.7 168.9h2.0M231.6 168.9h1.5M233.1 168.9h2.0M266.8 168.9h0.8M292.0 168.9h2.0M378.5 168.9h1.5M387.6 168.9h1.2M388.8 168.9h0.7M497.6 168.9h2.5M500.9 168.9h1.2M507.3 168.9h2.5M526.7 168.9h2.0M531.9 168.9h1.5" stroke="#9c9c9c" stroke-width="4.7" fill="none"/>
<path d="M68.2 141.0h1.2M71.4 141.0h1.0M89.7 141.0h1.2M98.0 141.0h0.8M123.5 141.0h1.2M246.3 141.0h1.2M258.0 141.0h0.8M258.8 141.0h2.0M311.8 141.0h1.2M323.5 141.0h1.2M361.2 141.0h1.5M362.7 141.0h0.8M428.3 141.0h0.8M441.5 141.0h1.0M508.4 141.0h0.8M107.7 146.7h1.0M111.5 146.7h1.5M160.5 146.7h2.5M169.1 146.7h2.5M171.6 146.7h0.8M246.0 146.7h2.5M374.2 146.7h2.0M421.0 146.7h1.5M555.1 146.7h2.5M676.6 146.7h2.5M681.1 146.7h0.9M67.0 152.2h2.0M69.8 152.2h0.8M78.2 152.2h1.0M80.2 152.2h2.5M96.9 152.2h1.5M127.3 152.2h1.5M189.3 152.2h2.5M232.9 152.2h2.5M241.0 152.2h1.2M431.8 152.2h2.0M534.5 152.2h0.8M545.1 152.2h0.8M67.0 157.8h1.0M75.3 157.8h1.0M77.8 157.8h2.5M204.3 157.8h1.2M205.5 157.8h2.0M209.5 157.8h1.0M213.0 157.8h0.8M217.5 157.8h1.0M370.9 157.8h1.5M372.4 157.8h1.2M388.0 157.8h1.0M399.2 157.8h2.0M402.0 157.8h2.5M442.0 157.8h0.8M442.8 157.8h1.2M446.5 157.8h0.8M481.7 157.8h1.2M483.7 157.8h1.5M485.2 157.8h2.5M487.7 157.8h2.5M499.0 157.8h1.5M508.3 157.8h1.2M510.3 157.8h2.5M513.8 157.8h1.0M516.0 157.8h2.5M519.5 157.8h1.0M524.3 157.8h1.0M525.3 157.8h1.0M526.3 157.8h1.0M533.6 157.8h1.5M658.3 157.8h1.2M659.5 157.8h0.8M660.3 157.8h1.5M661.8 157.8h2.5M81.8 163.4h0.7M164.1 163.4h0.8M204.7 163.4h1.2M242.2 163.4h0.8M244.5 163.4h2.0M277.1 163.4h1.9M299.1 163.4h2.0M343.6 163.4h1.5M431.8 163.4h2.0M536.8 163.4h1.0M552.3 163.4h1.0M676.8 163.4h1.2M88.8 168.9h0.9M235.1 168.9h1.2M288.0 168.9h1.5M308.8 168.9h1.2M337.3 168.9h2.5M374.7 168.9h1.5M376.2 168.9h1.5M453.4 168.9h2.5M464.2 168.9h1.2M485.9 168.9h1.2M491.3 168.9h2.0M502.1 168.9h1.5" stroke="#a8a8a8" stroke-width="4.7" fill="none"/>
<path d="M81.4 141.0h1.5M84.1 141.0h1.0M86.1 141.0h0.8M115.6 141.0h1.5M360.0 141.0h1.2M498.0 141.0h0.8M90.1 146.7h2.5M139.2 146.7h1.0M144.0 146.7h1.0M165.5 146.7h1.0M167.5 146.7h0.8M210.7 146.7h1.0M193.3 152.2h2.0M322.5 152.2h2.0M429.8 152.2h2.0M69.0 157.8h1.0M70.8 157.8h1.2M76.3 157.8h1.5M223.4 157.8h2.0M225.4 157.8h1.2M226.6 157.8h2.5M229.1 157.8h1.0M232.1 157.8h0.8M232.9 157.8h1.2M234.1 157.8h1.5M357.8 157.8h1.2M359.0 157.8h2.5M361.5 157.8h1.2M366.1 157.8h1.2M369.4 157.8h1.5M373.6 157.8h1.0M380.7 157.8h1.5M389.0 157.8h2.5M392.7 157.8h2.5M395.2 157.8h1.0M447.3 157.8h1.5M449.8 157.8h1.2M482.9 157.8h0.8M493.5 157.8h2.5M506.3 157.8h1.2M512.8 157.8h1.0M518.5 157.8h1.0M521.3 157.8h1.0M529.8 157.8h1.5M535.1 157.8h0.8M537.9 157.8h2.1M654.8 157.8h2.0M678.0 157.8h1.2M295.7 163.4h2.0M312.4 163.4h2.5M377.7 163.4h1.0M522.5 163.4h1.0M558.7 163.4h1.5M307.6 168.9h1.2M403.1 168.9h2.5M519.4 168.9h2.5M528.7 168.9h0.8" stroke="#b4b4b4" stroke-width="4.7" fill="none"/>
<path d="M207.5 157.8h2.0M210.5 157.8h2.5M215.0 157.8h2.5M219.7 157.8h2.5M222.2 157.8h1.2M230.1 157.8h2.0M365.3 157.8h0.8M382.2 157.8h2.5M384.7 157.8h2.5M401.2 157.8h0.8M532.1 157.8h1.5M656.8 157.8h1.5M680.0 157.8h1.2M681.2 157.8h0.8" stroke="#c0c0c0" stroke-width="4.7" fill="none"/>
<rect x="87.00" y="133.10" width="1.60" height="4.70" fill="#f0ebaa" />
<rect x="439.60" y="144.30" width="88.10" height="4.70" fill="#f0ebaa" />
<rect x="325.00" y="149.90" width="92.00" height="4.70" fill="#f0ebaa" />
<rect x="671.30" y="149.90" width="10.70" height="4.70" fill="#f0ebaa" />
<rect x="80.60" y="155.40" width="0.90" height="4.70" fill="#4a9ad8" />
<rect x="203.90" y="155.40" width="0.90" height="4.70" fill="#4a9ad8" />
<rect x="213.60" y="155.40" width="0.90" height="4.70" fill="#4a9ad8" />
<rect x="237.60" y="155.40" width="0.90" height="4.70" fill="#4a9ad8" />
<rect x="357.40" y="155.40" width="0.90" height="4.70" fill="#4a9ad8" />
<rect x="384.60" y="155.40" width="0.90" height="4.70" fill="#4a9ad8" />
<rect x="403.60" y="155.40" width="0.90" height="4.70" fill="#4a9ad8" />
<rect x="441.60" y="155.40" width="0.90" height="4.70" fill="#4a9ad8" />
<rect x="481.30" y="155.40" width="0.90" height="4.70" fill="#3cb43c" />
<rect x="513.60" y="155.40" width="0.90" height="4.70" fill="#3cb43c" />
<rect x="539.60" y="155.40" width="0.90" height="4.70" fill="#3cb43c" />
<rect x="654.40" y="155.40" width="0.90" height="4.70" fill="#3cb43c" />
<rect x="84.60" y="161.10" width="0.90" height="4.70" fill="#3cb43c" />
<rect x="162.90" y="161.10" width="0.90" height="4.70" fill="#3cb43c" />
<rect x="179.20" y="161.10" width="0.90" height="4.70" fill="#3cb43c" />
<rect x="214.10" y="161.10" width="0.90" height="4.70" fill="#3cb43c" />
<rect x="356.40" y="161.10" width="0.90" height="4.70" fill="#3cb43c" />
<rect x="372.60" y="161.10" width="0.90" height="4.70" fill="#3cb43c" />
<rect x="409.60" y="161.10" width="0.90" height="4.70" fill="#3cb43c" />
<rect x="418.60" y="161.10" width="0.90" height="4.70" fill="#3cb43c" />
<rect x="513.60" y="161.10" width="0.90" height="4.70" fill="#3cb43c" />
<rect x="529.60" y="161.10" width="0.90" height="4.70" fill="#3cb43c" />
<rect x="573.30" y="161.10" width="0.90" height="4.70" fill="#3cb43c" />
<rect x="653.20" y="161.10" width="0.90" height="4.70" fill="#3cb43c" />
<rect x="660.90" y="161.10" width="0.90" height="4.70" fill="#3cb43c" />
<rect x="681.10" y="161.10" width="0.90" height="4.70" fill="#3cb43c" />
<rect x="85.20" y="166.60" width="0.90" height="4.70" fill="#3cb43c" />
<rect x="214.10" y="166.60" width="0.90" height="4.70" fill="#3cb43c" />
<rect x="227.40" y="166.60" width="0.90" height="4.70" fill="#3cb43c" />
<rect x="263.20" y="166.60" width="0.90" height="4.70" fill="#3cb43c" />
<rect x="274.50" y="166.60" width="0.90" height="4.70" fill="#3cb43c" />
<rect x="371.60" y="166.60" width="0.90" height="4.70" fill="#3cb43c" />
<rect x="389.10" y="166.60" width="0.90" height="4.70" fill="#3cb43c" />
<rect x="405.50" y="166.60" width="0.90" height="4.70" fill="#3cb43c" />
<rect x="419.60" y="166.60" width="0.90" height="4.70" fill="#3cb43c" />
<rect x="436.20" y="166.60" width="0.90" height="4.70" fill="#3cb43c" />
<rect x="513.60" y="166.60" width="0.90" height="4.70" fill="#3cb43c" />
<rect x="520.60" y="166.60" width="0.90" height="4.70" fill="#3cb43c" />
<rect x="527.60" y="166.60" width="0.90" height="4.70" fill="#3cb43c" />
<rect x="535.50" y="166.60" width="0.90" height="4.70" fill="#3cb43c" />
<rect x="654.60" y="166.60" width="0.90" height="4.70" fill="#3cb43c" />
<text x="65.0" y="190.0" font-size="7.7" fill="#5aa845" stroke="#5aa845" stroke-width="0.16" text-anchor="end">H3K9ac</text>
<text x="65.0" y="207.8" font-size="7.7" fill="#2f6e98" stroke="#2f6e98" stroke-width="0.16" text-anchor="end">H3K4me3</text>
<text x="65.0" y="226.8" font-size="7.7" fill="#e8733c" stroke="#e8733c" stroke-width="0.16" text-anchor="end">H3K27me3</text>
<text x="63.5" y="246.3" font-size="7.7" fill="#111" stroke="#111" stroke-width="0.16" text-anchor="end">91 days</text>
<text x="63.5" y="270.4" font-size="7.7" fill="#111" stroke="#111" stroke-width="0.16" text-anchor="end">120 days</text>
<text x="61.3" y="298.1" font-size="8.9" fill="#111" stroke="#111" stroke-width="0.19" text-anchor="end">Max counts</text>
<text x="61.3" y="308.3" font-size="8.9" fill="#111" stroke="#111" stroke-width="0.19" text-anchor="end">CAGE</text>
<line x1="23.40" y1="183.30" x2="23.40" y2="275.50" stroke="#222" stroke-width="1.1" />
<line x1="9.90" y1="235.80" x2="9.90" y2="275.80" stroke="#000" stroke-width="1.3" />
<text transform="translate(20.2,250) rotate(-90)" font-size="7.8" fill="#111" stroke="#111" stroke-width="0.16">Fetal heart</text>
<text transform="translate(5.6,282.8) rotate(-90)" font-size="7.8" fill="#111" stroke="#111" stroke-width="0.16">RNA-seq (heart)</text>
<path d="M80.3 193.1L80.3 193.1L81.1 192.4L81.9 191.8L82.7 191.6L83.5 191.4L84.3 191.7L85.1 192.0L85.9 192.8L86.7 193.1L87.5 193.1L88.3 193.1L89.1 193.1L89.9 193.1L90.7 193.1L91.5 193.1L92.3 193.1L93.1 193.1L93.9 193.1L94.7 193.1L95.5 193.1L96.3 193.1L97.1 193.1L97.9 193.1L98.7 193.1L99.5 193.1L100.3 192.7L101.1 191.9L101.9 191.7L102.7 191.4L103.5 192.0L104.3 191.9L105.1 192.6L105.9 193.1L106.7 193.1L107.5 193.1L108.3 193.1L109.1 193.1L109.9 193.1L110.7 193.1L111.5 193.1L112.3 193.1L113.1 193.1L113.9 193.1L114.7 193.1L115.5 193.1L116.3 193.1L117.1 193.1L117.9 193.1L118.7 193.1L119.5 193.1L120.3 193.1L121.1 193.1L121.9 192.7L122.7 192.0L123.5 192.0L124.3 191.8L125.1 191.9L125.9 191.7L126.7 192.5L127.5 193.1L128.3 193.1L129.1 193.1L129.9 193.1L130.7 193.1L131.5 193.1L132.3 193.1L133.1 193.1L133.9 193.1L134.7 193.1L135.5 193.1L136.3 193.1L137.1 193.1L137.9 193.1L138.7 193.1L139.5 193.1L140.3 193.1L141.1 193.1L141.9 193.1L142.7 192.9L143.5 192.1L144.3 192.0L145.1 191.6L145.9 191.9L146.7 192.1L147.5 192.3L148.3 193.0L149.1 193.1L149.9 193.1L150.7 193.1L151.5 193.1L152.3 193.1L153.1 193.1L153.9 193.1L154.7 193.1L155.5 193.1L156.3 193.1L157.1 193.1L157.9 193.1L158.7 193.1L159.5 193.1L160.3 193.1L161.1 193.1L161.9 193.1L162.7 193.1L163.5 193.1L164.3 193.1L165.1 193.1L165.9 193.1L166.7 193.1L167.5 193.1L168.3 193.1L169.1 193.1L169.9 193.1L170.7 193.1L171.5 192.5L172.3 191.5L173.1 191.1L173.9 191.4L174.7 190.8L175.5 191.3L176.3 191.6L177.1 192.5L177.9 193.1L178.7 193.1L179.5 193.1L180.3 193.1L181.1 193.1L181.9 193.1L182.7 193.1L183.5 193.1L184.3 193.1L185.1 193.1L185.9 193.1L186.7 193.1L187.5 193.1L188.3 193.1L189.1 193.1L189.9 193.1L190.7 193.1L191.5 193.1L192.3 193.1L193.1 193.1L193.9 193.1L194.7 193.1L195.5 193.1L196.3 193.1L197.1 193.1L197.9 193.1L198.7 193.1L199.5 193.1L200.3 193.1L201.1 193.1L201.9 193.1L202.7 193.1L203.5 193.1L204.3 193.1L205.1 193.1L205.9 193.1L206.7 193.1L207.5 193.1L208.3 193.1L209.1 193.1L209.9 193.1L210.7 193.1L211.5 193.1L212.3 193.1L213.1 193.1L213.9 193.1L214.7 193.1L215.5 193.1L216.3 193.1L217.1 193.1L217.9 192.5L218.7 191.9L219.5 191.5L220.3 191.4L221.1 191.9L221.9 192.0L222.7 192.7L223.5 193.1L224.3 193.1L225.1 193.1L225.9 193.1L226.7 193.1L227.5 193.1L228.3 193.1L229.1 193.1L229.9 193.1L230.7 193.1L231.5 193.1L232.3 192.8L233.1 191.8L233.9 190.4L234.7 188.8L235.5 189.4L236.3 187.8L237.1 188.1L237.9 188.1L238.7 187.4L239.5 188.4L240.3 189.0L241.1 190.0L241.9 191.2L242.7 192.8L243.5 192.5L244.3 191.9L245.1 190.4L245.9 189.8L246.7 190.5L247.5 189.3L248.3 189.9L249.1 189.8L249.9 190.7L250.7 191.1L251.5 191.7L252.3 192.3L253.1 193.1L253.9 193.1L254.7 193.1L255.5 193.1L256.3 193.1L257.1 193.1L257.9 193.1L258.7 192.9L259.5 192.1L260.3 191.2L261.1 190.3L261.9 190.2L262.7 189.9L263.5 189.5L264.3 189.0L265.1 189.8L265.9 188.8L266.7 188.9L267.5 189.0L268.3 190.4L269.1 189.5L269.9 191.4L270.7 192.1L271.5 193.1L272.3 193.1L273.1 192.7L273.9 192.2L274.7 192.3L275.5 192.0L276.3 192.1L277.1 192.3L277.9 192.3L278.7 192.7L279.5 193.1L280.3 193.1L281.1 192.5L281.9 191.7L282.7 190.5L283.5 190.0L284.3 190.7L285.1 190.7L285.9 189.6L286.7 190.3L287.5 190.6L288.3 190.9L289.1 191.1L289.9 191.7L290.7 192.5L291.5 193.1L292.3 193.1L293.1 193.1L293.9 192.7L294.7 192.4L295.5 192.0L296.3 192.4L297.1 192.4L297.9 192.9L298.7 193.1L299.5 193.1L300.3 193.1L301.1 193.1L301.9 193.1L302.7 192.8L303.5 191.5L304.3 190.1L305.1 189.3L305.9 187.9L306.7 188.3L307.5 187.1L308.3 187.5L309.1 185.4L309.9 186.7L310.7 186.0L311.5 184.1L312.3 184.9L313.1 184.8L313.9 186.6L314.7 186.7L315.5 186.4L316.3 190.6L317.1 192.4L317.9 191.1L318.7 190.5L319.5 191.6L320.3 192.9L321.1 188.6L321.9 189.4L322.7 190.1L323.5 191.5L324.3 192.7L325.1 193.1L325.9 193.1L326.7 193.1L327.5 193.1L328.3 193.1L329.1 193.0L329.9 192.3L330.7 191.6L331.5 191.3L332.3 190.3L333.1 189.9L333.9 189.8L334.7 189.7L335.5 189.4L336.3 189.8L337.1 189.5L337.9 190.2L338.7 190.0L339.5 189.9L340.3 190.2L341.1 191.2L341.9 191.3L342.7 192.2L343.5 192.8L344.3 193.1L345.1 193.1L345.9 193.1L346.7 193.1L347.5 193.1L348.3 193.1L349.1 193.1L349.9 193.1L350.7 193.1L351.5 193.1L352.3 193.1L353.1 193.1L353.9 193.1L354.7 193.1L355.5 193.1L356.3 193.1L357.1 193.1L357.9 193.1L358.7 193.1L359.5 193.1L360.3 193.1L361.1 193.1L361.9 193.1L362.7 193.1L363.5 193.1L364.3 193.1L365.1 193.1L365.9 193.1L366.7 193.1L367.5 193.1L368.3 193.1L369.1 193.1L369.9 193.1L370.7 193.1L371.5 193.1L372.3 193.1L373.1 193.1L373.9 193.1L374.7 193.1L375.5 193.1L376.3 193.1L377.1 193.1L377.9 193.1L378.7 193.1L379.5 193.1L380.3 193.1L381.1 193.1L381.9 193.1L382.7 193.1L383.5 193.1L384.3 193.1L385.1 193.1L385.9 193.1L386.7 193.1L387.5 193.1L388.3 193.1L389.1 193.1L389.9 193.1L390.7 193.1L391.5 193.1L392.3 193.1L393.1 193.1L393.9 193.1L394.7 193.1L395.5 193.1L396.3 193.1L397.1 193.1L397.9 193.1L398.7 193.1L399.5 193.1L400.3 193.1L401.1 193.1L401.9 193.1L402.7 193.1L403.5 193.1L404.3 193.1L405.1 193.1L405.9 193.1L406.7 193.1L407.5 193.1L408.3 193.1L409.1 193.1L409.9 193.1L410.7 193.1L411.5 193.1L412.3 193.1L413.1 193.1L413.9 193.1L414.7 193.1L415.5 193.1L416.3 193.1L417.1 193.1L417.9 193.1L418.7 193.1L419.5 193.1L420.3 193.1L421.1 193.1L421.9 193.1L422.7 193.1L423.5 193.1L424.3 193.1L425.1 193.1L425.9 193.1L426.7 193.1L427.5 193.1L428.3 193.1L429.1 193.1L429.9 193.1L430.7 193.1L431.5 193.1L432.3 193.1L433.1 193.1L433.9 193.1L434.7 193.1L435.5 193.1L436.3 193.1L437.1 193.1L437.9 193.1L438.7 193.1L439.5 193.1L440.3 193.1L441.1 193.1L441.9 193.1L442.7 193.1L443.5 193.1L444.3 193.1L445.1 193.1L445.9 193.1L446.7 193.1L447.5 193.1L448.3 193.1L449.1 193.1L449.9 193.1L450.7 193.1L451.5 193.1L452.3 193.1L453.1 193.1L453.9 193.1L454.7 193.1L455.5 193.1L456.3 193.1L457.1 193.1L457.9 193.1L458.7 193.1L459.5 193.1L460.3 193.1L461.1 193.1L461.9 193.1L462.7 193.1L463.5 193.1L464.3 193.1L465.1 193.1L465.9 193.1L466.7 193.1L467.5 193.1L468.3 193.1L469.1 193.1L469.9 193.1L470.7 193.1L471.5 193.1L472.3 193.1L473.1 193.1L473.9 193.1L474.7 193.1L475.5 193.1L476.3 193.1L477.1 193.1L477.9 193.1L478.7 193.1L479.5 193.1L480.3 193.1L481.1 193.1L481.9 193.1L482.7 193.1L483.5 193.1L484.3 193.1L485.1 193.1L485.9 193.1L486.7 193.1L487.5 193.1L488.3 193.1L489.1 193.1L489.9 193.1L490.7 193.1L491.5 193.1L492.3 193.1L493.1 193.1L493.9 193.1L494.7 193.1L495.5 193.1L496.3 193.1L497.1 193.1L497.9 193.1L498.7 193.1L499.5 193.1L500.3 193.1L501.1 193.1L501.9 193.1L502.7 193.1L503.5 193.1L504.3 193.1L505.1 193.1L505.9 193.1L506.7 193.1L507.5 193.1L508.3 193.1L509.1 193.1L509.9 193.1L510.7 193.1L511.5 193.1L512.3 193.1L513.1 193.1L513.9 193.1L514.7 193.1L515.5 193.1L516.3 193.1L517.1 193.1L517.9 193.1L518.7 193.1L519.5 193.1L520.3 193.1L521.1 193.1L521.9 193.1L522.7 193.1L523.5 193.1L524.3 193.1L525.1 193.1L525.9 193.1L526.7 193.1L527.5 193.1L528.3 193.1L529.1 193.1L529.9 193.1L530.7 193.1L531.5 193.1L532.3 193.1L533.1 193.1L533.9 193.1L534.7 193.1L535.5 193.1L536.3 193.1L537.1 193.1L537.9 193.1L538.7 193.1L539.5 193.1L540.3 193.1L541.1 193.1L541.9 193.1L542.7 193.1L543.5 193.1L544.3 193.1L545.1 193.1L545.9 193.1L546.7 193.1L547.5 193.1L548.3 193.1L549.1 193.1L549.9 193.1L550.7 193.1L551.5 193.1L552.3 193.1L553.1 193.1L553.9 193.1L554.7 193.1L555.5 193.1L556.3 193.1L557.1 193.1L557.9 193.1L558.7 193.1L559.5 193.1L560.3 193.1L561.1 193.1L561.9 193.1L562.7 193.1L563.5 193.1L564.3 193.1L565.1 193.1L565.9 193.1L566.7 193.1L567.5 193.1L568.3 193.1L569.1 193.1L569.9 193.1L570.7 193.1L571.5 193.1L572.3 193.1L573.1 193.1L573.9 193.1L574.7 193.1L575.5 193.1L576.3 193.1L577.1 193.1L577.9 193.1L578.7 193.1L579.5 193.1L580.3 193.1L581.1 193.1L581.9 193.1L582.7 193.1L583.5 193.1L584.3 193.1L585.1 193.1L585.9 193.1L586.7 193.1L587.5 193.1L588.3 193.1L589.1 193.1L589.9 193.1L590.7 193.1L591.5 193.1L592.3 193.1L593.1 193.1L593.9 193.1L594.7 193.1L595.5 193.1L596.3 193.1L597.1 193.1L597.9 193.1L598.7 193.1L599.5 193.1L600.3 193.1L601.1 193.1L601.9 193.1L602.7 193.1L603.5 193.1L604.3 193.1L605.1 193.1L605.9 193.1L606.7 193.1L607.5 193.1L608.3 193.1L609.1 193.1L609.9 193.1L610.7 193.1L611.5 193.1L612.3 193.1L613.1 193.1L613.9 193.1L614.7 193.1L615.5 193.1L616.3 193.1L617.1 193.1L617.9 193.1L618.7 193.1L619.5 193.1L620.3 193.1L621.1 193.1L621.9 193.1L622.7 193.1L623.5 193.1L624.3 193.1L625.1 193.1L625.9 193.1L626.7 193.1L627.5 193.1L628.3 193.1L629.1 193.1L629.9 193.1L630.7 193.1L631.5 193.1L632.3 193.1L633.1 193.1L633.9 193.1L634.7 193.1L635.5 193.1L636.3 193.1L637.1 193.1L637.9 193.1L638.7 193.1L639.5 193.1L640.3 193.1L641.1 193.1L641.9 193.1L642.7 193.1L643.5 193.1L644.3 193.1L645.1 193.1L645.9 192.9L646.7 192.6L647.5 192.4L648.3 192.0L649.1 191.9L649.9 191.7L650.7 191.7L651.5 191.5L652.3 191.7L653.1 191.5L653.9 191.5L654.7 191.5L655.5 191.9L656.3 191.7L657.1 191.9L657.9 193.0L658.7 192.6L659.5 192.0L660.3 192.3L661.1 192.9L661.9 191.9L662.7 191.5L663.5 191.6L664.3 192.1L665.1 192.5L665.9 193.0L666.0 193.1Z" fill="#5ea545"/>
<path d="M415.8 193.1L415.8 193.1L416.4 192.9L417.0 192.7L417.6 192.5L418.2 192.3L418.8 192.1L419.4 192.0L420.0 191.7L420.6 191.5L421.2 191.3L421.8 191.1L422.4 191.2L423.0 190.9L423.6 190.6L424.2 190.3L424.8 190.3L425.4 189.9L426.0 189.7L426.6 189.8L427.2 189.1L427.8 188.9L428.4 188.7L429.0 188.3L429.6 187.7L430.2 187.5L430.8 187.1L431.4 186.9L432.0 185.9L432.6 185.7L433.2 184.9L433.8 184.5L434.4 184.8L435.0 183.4L435.6 184.8L436.2 183.9L436.8 183.9L437.4 183.5L438.0 183.9L438.6 182.2L439.2 182.9L439.8 183.6L440.4 182.5L441.0 183.7L441.6 182.8L442.2 183.3L442.8 183.0L443.4 182.3L444.0 182.7L444.6 183.5L445.2 182.9L445.8 183.3L446.4 183.9L447.0 184.4L447.6 183.6L448.2 183.8L448.8 183.1L449.4 183.2L450.0 183.9L450.6 184.4L451.2 183.5L451.8 185.2L452.4 185.1L453.0 184.1L453.6 183.8L454.2 184.4L454.8 183.2L455.4 182.5L456.0 183.3L456.6 182.9L457.2 183.1L457.8 182.8L458.4 181.0L459.0 182.1L459.6 180.6L460.2 180.4L460.8 181.1L461.4 181.9L462.0 180.2L462.6 181.3L463.2 181.5L463.8 181.7L464.4 180.2L465.0 181.3L465.6 181.8L466.2 181.4L466.8 182.2L467.4 181.0L468.0 181.4L468.6 181.8L469.2 180.6L469.8 180.5L470.4 182.4L471.0 181.2L471.6 181.8L472.2 180.3L472.8 180.6L473.4 181.9L474.0 181.8L474.6 182.1L475.2 180.1L475.8 181.8L476.4 181.0L477.0 181.4L477.6 181.0L478.2 181.1L478.8 180.7L479.4 183.3L480.0 183.2L480.6 185.2L481.2 186.0L481.8 186.8L482.4 186.8L483.0 186.4L483.6 186.4L484.2 186.4L484.8 185.8L485.4 186.0L486.0 186.7L486.6 186.3L487.2 185.9L487.8 185.2L488.4 185.1L489.0 185.6L489.6 186.3L490.2 185.0L490.8 185.4L491.4 185.1L492.0 184.8L492.6 184.8L493.2 184.9L493.8 184.1L494.4 184.8L495.0 184.7L495.6 183.8L496.2 184.8L496.8 184.5L497.4 183.8L498.0 186.0L498.6 185.7L499.2 186.9L499.8 188.1L500.4 189.1L501.0 189.6L501.6 189.5L502.2 189.6L502.8 188.9L503.4 188.4L504.0 187.9L504.6 187.4L505.2 186.9L505.8 185.6L506.4 184.6L507.0 185.1L507.6 184.2L508.2 182.3L508.8 181.6L509.4 181.2L510.0 182.2L510.6 180.6L511.2 180.0L511.8 179.9L512.4 180.6L513.0 182.2L513.6 180.5L514.2 183.2L514.8 183.6L515.4 184.4L516.0 186.1L516.6 188.1L517.2 189.1L517.8 190.0L518.4 191.4L519.0 191.7L519.6 192.2L520.2 192.6L520.8 193.0L520.9 193.1Z" fill="#5ea545"/>
<path d="M530.0 193.1L530.0 193.1L530.6 192.0L531.2 190.9L531.8 189.6L532.4 188.7L533.0 187.6L533.6 185.8L534.2 184.7L534.8 184.3L535.4 185.4L536.0 184.8L536.6 184.9L537.2 184.3L537.8 184.4L538.4 183.5L539.0 184.4L539.6 184.8L540.2 183.3L540.8 184.1L541.4 182.9L542.0 182.8L542.6 181.7L543.2 182.2L543.8 181.8L544.4 182.3L545.0 181.3L545.6 181.8L546.2 180.5L546.8 181.1L547.4 182.1L548.0 181.9L548.6 181.6L549.2 180.8L549.8 182.2L550.4 181.0L551.0 181.1L551.6 182.5L552.2 181.2L552.8 182.9L553.4 183.3L554.0 182.8L554.6 184.1L555.2 183.4L555.8 184.7L556.4 185.3L557.0 184.0L557.6 184.8L558.2 183.0L558.8 183.8L559.4 183.1L560.0 180.8L560.6 180.8L561.2 182.3L561.8 183.4L562.4 182.6L563.0 184.1L563.6 184.8L564.2 186.7L564.8 186.9L565.4 188.1L566.0 188.8L566.6 189.2L567.2 189.5L567.8 190.1L568.4 190.6L569.0 191.2L569.6 191.5L570.2 192.1L570.8 192.6L571.4 192.9L572.0 193.1Z" fill="#5ea545"/>
<line x1="66.80" y1="193.10" x2="682.50" y2="193.10" stroke="#5ea545" stroke-width="1.0" />
<path d="M100.0 210.3L100.0 210.3L100.8 209.6L101.6 209.4L102.4 209.3L103.2 209.6L104.0 210.3L104.8 210.3L105.6 210.3L106.4 210.3L107.2 210.3L108.0 210.3L108.8 210.3L109.6 210.3L110.4 209.8L111.2 209.1L112.0 208.6L112.8 208.5L113.6 208.2L114.4 208.4L115.2 207.8L116.0 208.4L116.8 209.1L117.6 210.1L118.4 210.3L119.2 210.3L120.0 210.3L120.8 210.3L121.6 210.3L122.4 210.3L123.2 210.3L124.0 210.3L124.8 210.3L125.6 210.3L126.4 210.3L127.2 210.3L128.0 210.3L128.8 210.3L129.6 210.3L130.4 210.3L131.2 210.3L132.0 210.3L132.8 210.3L133.6 210.3L134.4 210.3L135.2 210.3L136.0 210.3L136.8 210.3L137.6 210.3L138.4 210.3L139.2 210.3L140.0 210.3L140.8 210.3L141.6 210.3L142.4 210.0L143.2 209.3L144.0 209.3L144.8 209.5L145.6 210.0L146.4 210.3L147.2 210.3L148.0 210.3L148.8 210.3L149.6 210.3L150.4 210.3L151.2 210.3L152.0 210.3L152.8 210.3L153.6 210.3L154.4 210.3L155.2 210.3L156.0 210.3L156.8 210.3L157.6 210.3L158.4 210.3L159.2 210.3L160.0 210.3L160.8 210.3L161.6 210.3L162.4 210.3L163.2 210.3L164.0 210.3L164.8 210.3L165.6 210.3L166.4 210.3L167.2 210.3L168.0 210.3L168.8 210.3L169.6 210.3L170.4 210.3L171.2 210.3L172.0 210.3L172.8 210.3L173.6 210.3L174.4 210.3L175.2 210.3L176.0 210.3L176.8 210.3L177.6 210.3L178.4 210.3L179.2 210.3L180.0 210.3L180.8 210.3L181.6 210.3L182.4 210.3L183.2 210.3L184.0 210.3L184.8 210.3L185.6 210.3L186.4 210.3L187.2 210.3L188.0 210.3L188.8 210.3L189.6 210.3L190.4 210.3L191.2 210.3L192.0 210.3L192.8 210.3L193.6 210.3L194.4 210.3L195.2 210.3L196.0 210.3L196.8 210.3L197.6 210.3L198.4 210.3L199.2 210.3L200.0 210.3L200.8 210.3L201.6 210.3L202.4 210.3L203.2 210.3L204.0 210.3L204.8 210.3L205.6 210.3L206.4 210.3L207.2 210.3L208.0 210.3L208.8 210.3L209.6 210.3L210.4 210.3L211.2 210.3L212.0 210.3L212.8 210.3L213.6 210.3L214.4 210.3L215.2 210.3L216.0 210.3L216.8 210.3L217.6 210.3L218.4 210.3L219.2 210.3L220.0 210.3L220.8 210.3L221.6 210.3L222.4 210.3L223.2 210.3L224.0 210.3L224.8 210.3L225.6 210.3L226.4 210.3L227.2 210.3L228.0 210.3L228.8 210.3L229.6 210.3L230.4 210.3L231.2 210.3L232.0 210.3L232.8 210.3L233.6 210.3L234.4 210.3L235.2 210.3L236.0 210.3L236.8 210.3L237.6 210.3L238.4 210.3L239.2 210.3L240.0 210.3L240.8 210.3L241.6 210.3L242.4 210.3L243.2 210.3L244.0 210.3L244.8 210.3L245.6 210.3L246.4 210.3L247.2 210.3L248.0 210.3L248.8 210.3L249.6 210.3L250.4 210.3L251.2 210.3L252.0 210.3L252.8 210.3L253.6 210.3L254.4 210.3L255.2 210.3L256.0 210.3L256.8 210.3L257.6 210.3L258.4 210.2L259.2 209.7L260.0 209.3L260.8 208.7L261.6 208.3L262.4 207.8L263.2 208.3L264.0 208.1L264.8 208.1L265.6 208.3L266.4 208.3L267.2 208.5L268.0 208.8L268.8 209.5L269.6 209.8L270.4 210.3L271.2 210.3L272.0 210.3L272.8 210.3L273.6 210.3L274.4 210.3L275.2 210.3L276.0 210.3L276.8 210.3L277.6 210.3L278.4 210.3L279.2 210.3L280.0 210.3L280.8 210.3L281.6 210.3L282.4 210.3L283.2 210.3L284.0 210.3L284.8 210.3L285.6 210.3L286.4 210.3L287.2 210.3L288.0 210.3L288.8 210.3L289.6 210.3L290.4 210.3L291.2 210.3L292.0 210.3L292.8 210.3L293.6 210.3L294.4 210.0L295.2 209.2L296.0 208.9L296.8 208.7L297.6 208.9L298.4 208.9L299.2 209.8L300.0 210.3L300.8 210.3L301.6 210.3L302.4 210.3L303.2 210.3L304.0 210.3L304.8 210.3L305.6 210.3L306.4 209.9L307.2 209.2L308.0 208.2L308.8 207.2L309.6 207.2L310.4 206.7L311.2 206.8L312.0 206.3L312.8 206.4L313.6 205.6L314.4 205.1L315.2 207.5L316.0 208.8L316.8 210.0L317.6 208.1L318.4 207.0L319.2 208.5L320.0 208.7L320.8 208.5L321.6 209.4L322.4 209.5L323.2 208.8L324.0 209.5L324.8 210.1L325.6 210.3L326.4 210.3L327.2 210.3L328.0 210.3L328.8 210.3L329.6 210.3L330.4 210.3L331.2 210.3L332.0 210.3L332.8 210.3L333.6 210.3L334.4 210.3L335.2 210.3L336.0 210.3L336.8 210.3L337.6 210.3L338.4 210.3L339.2 210.3L340.0 210.3L340.8 210.3L341.6 209.9L342.4 209.4L343.2 208.8L344.0 208.9L344.8 209.1L345.6 209.0L346.4 209.2L347.2 209.9L348.0 210.3L348.8 210.3L349.6 210.3L350.4 210.3L351.2 210.3L352.0 210.3L352.8 210.3L353.6 210.3L354.4 210.3L355.2 210.3L356.0 209.8L356.8 209.4L357.6 209.2L358.4 208.6L359.2 208.9L360.0 208.8L360.8 209.5L361.6 209.9L362.4 210.3L363.2 210.3L364.0 210.3L364.8 210.3L365.6 210.3L366.4 210.3L367.2 210.3L368.0 210.3L368.8 210.3L369.6 210.3L370.4 210.3L371.2 210.3L372.0 210.3L372.8 210.3L373.6 210.3L374.4 210.3L375.2 210.3L376.0 210.3L376.8 210.3L377.6 210.3L378.4 210.3L379.2 210.3L380.0 210.3L380.8 210.3L381.6 210.3L382.4 210.3L383.2 210.3L384.0 210.3L384.8 210.3L385.6 210.3L386.4 210.3L387.2 210.3L388.0 210.3L388.8 210.3L389.6 210.3L390.4 210.3L391.2 210.3L392.0 210.3L392.8 210.3L393.6 210.3L394.4 210.3L395.2 210.3L396.0 210.3L396.8 210.3L397.6 210.3L398.4 210.3L399.2 210.3L400.0 210.3L400.8 210.3L401.6 210.3L402.4 210.3L403.2 210.2L404.0 209.7L404.8 209.7L405.6 209.7L406.4 209.9L407.2 210.3L408.0 210.3L408.8 210.3L409.6 210.3L410.4 210.3L411.2 210.3L412.0 210.3L412.8 210.3L413.6 210.3L414.4 210.3L415.2 210.3L416.0 210.3L416.8 210.3L417.6 210.3L418.4 210.3L419.2 210.3L420.0 210.3L420.8 210.3L421.6 210.3L422.4 210.3L423.2 210.0L424.0 209.7L424.8 209.6L425.6 209.2L426.4 209.4L427.2 209.4L428.0 209.5L428.8 209.7L429.6 210.1L430.4 210.3L431.2 210.3L432.0 210.3L432.8 210.3L433.6 210.3L434.4 210.3L435.2 210.3L436.0 210.3L436.8 210.3L437.6 210.3L438.4 210.3L439.2 210.3L440.0 210.3L440.8 210.3L441.6 210.3L442.4 210.3L443.2 210.3L444.0 210.3L444.8 210.3L445.6 210.3L446.4 210.3L447.2 210.3L448.0 210.3L448.8 210.3L449.6 210.3L450.4 210.3L451.2 210.3L452.0 210.3L452.8 210.3L453.6 210.3L454.4 210.3L455.2 210.3L456.0 210.3L456.8 210.3L457.6 210.3L458.4 210.3L459.2 210.3L460.0 210.3L460.8 210.3L461.6 210.3L462.4 210.3L463.2 210.3L464.0 210.3L464.8 210.3L465.6 210.3L466.4 210.3L467.2 210.3L468.0 210.3L468.8 210.3L469.6 210.3L470.4 210.3L471.2 210.3L472.0 210.3L472.8 210.3L473.6 210.3L474.4 210.3L475.2 210.3L476.0 210.3L476.8 210.3L477.6 210.3L478.4 210.3L479.2 210.3L480.0 210.3L480.8 210.3L481.6 210.3L482.4 210.3L483.2 210.3L484.0 210.3L484.8 210.3L485.6 210.3L486.4 210.3L487.2 210.3L488.0 210.3L488.8 210.3L489.6 210.3L490.4 210.3L491.2 210.3L492.0 210.3L492.8 210.3L493.6 210.3L494.4 210.3L495.2 210.3L496.0 210.3L496.8 210.3L497.6 210.3L498.4 210.3L499.2 210.3L500.0 210.3L500.8 210.3L501.6 210.3L502.4 210.3L503.2 210.3L504.0 210.3L504.8 210.1L505.6 209.5L506.4 208.6L507.2 207.8L508.0 207.9L508.8 207.5L509.6 208.2L510.4 208.5L511.2 208.3L512.0 209.0L512.8 209.7L513.6 210.3L514.4 210.3L515.2 210.3L516.0 210.3L516.8 210.3L517.6 210.3L518.4 210.3L519.2 210.3L520.0 210.3L520.8 210.3L521.6 210.3L522.4 210.3L523.2 210.3L524.0 210.3L524.8 210.3L525.6 210.3L526.4 210.3L527.2 210.3L528.0 209.9L528.8 208.6L529.6 207.3L530.4 206.0L531.2 206.6L532.0 206.1L532.8 205.3L533.6 206.6L534.4 207.0L535.2 207.0L536.0 208.3L536.8 208.9L537.6 210.1L538.4 210.3L539.2 210.0L540.0 209.3L540.8 208.9L541.6 208.6L542.4 208.7L543.2 208.7L544.0 209.3L544.8 210.2L545.6 210.3L546.4 210.3L547.2 209.4L548.0 207.7L548.8 207.3L549.6 206.8L550.4 206.4L551.2 206.1L552.0 206.9L552.8 206.6L553.6 207.5L554.4 208.4L555.2 209.8L556.0 210.3L556.8 210.3L557.6 210.3L558.4 210.3L559.2 210.3L560.0 210.3L560.8 210.1L561.6 209.6L562.4 209.3L563.2 209.3L564.0 209.5L564.8 209.8L565.5 210.3Z" fill="#2e6d94"/>
<path d="M188.7 210.3L188.7 210.3L189.5 209.0L190.3 207.9L191.1 208.1L191.9 208.1L192.7 208.5L193.5 208.1L194.3 208.4L195.1 208.6L195.9 208.6L196.7 208.6L197.5 208.5L198.3 208.2L199.1 208.5L199.9 208.6L200.7 208.1L201.5 208.3L202.3 208.7L203.1 208.7L203.9 208.6L204.7 208.4L205.5 208.0L206.3 207.9L207.1 208.4L207.9 209.7L208.4 210.3Z" fill="#2e6d94"/>
<path d="M382.0 210.3L382.0 210.3L382.6 209.4L383.2 208.9L383.8 208.9L384.4 209.0L385.0 208.8L385.6 208.7L386.2 208.7L386.8 209.0L387.4 208.8L388.0 208.9L388.6 208.8L389.2 208.9L389.8 208.7L390.4 208.7L391.0 209.0L391.6 208.9L392.2 208.7L392.8 208.9L393.4 208.9L394.0 208.9L394.6 208.8L395.2 208.7L395.8 208.9L396.4 208.7L397.0 208.8L397.6 209.0L398.2 208.8L398.8 208.9L399.4 209.0L400.0 208.7L400.6 209.1L401.2 208.9L401.8 208.9L402.4 208.8L403.0 208.9L403.6 209.0L404.2 209.0L404.8 209.0L405.4 208.9L406.0 209.0L406.6 208.8L407.2 209.0L407.8 209.0L408.4 209.0L409.0 208.8L409.6 208.8L410.2 208.8L410.8 208.9L411.4 209.0L412.0 209.1L412.6 208.9L413.2 209.0L413.8 209.1L414.4 209.1L415.0 209.1L415.6 208.9L416.2 208.9L416.8 209.1L417.4 208.9L418.0 209.0L418.6 208.9L419.2 208.9L419.8 209.0L420.4 208.9L421.0 209.0L421.6 209.1L422.2 208.8L422.8 208.8L423.4 208.9L424.0 208.8L424.6 208.7L425.2 208.8L425.8 208.7L426.4 208.6L427.0 208.5L427.6 208.4L428.2 208.5L428.8 208.1L429.4 208.2L430.0 208.1L430.6 208.1L431.2 208.1L431.8 208.1L432.4 208.0L433.0 208.1L433.6 208.0L434.2 207.9L434.8 207.9L435.4 208.0L436.0 208.1L436.6 208.1L437.2 207.9L437.8 207.8L438.4 207.6L439.0 207.7L439.6 207.9L440.2 207.5L440.8 207.9L441.4 207.7L442.0 208.1L442.6 207.6L443.2 207.7L443.8 207.5L444.4 207.6L445.0 207.7L445.6 207.6L446.2 207.7L446.8 207.7L447.4 208.0L448.0 207.8L448.6 207.6L449.2 208.0L449.8 207.5L450.4 207.8L451.0 207.9L451.6 208.1L452.2 207.9L452.8 207.8L453.4 207.2L454.0 206.7L454.6 206.3L455.2 206.3L455.8 206.2L456.4 206.2L457.0 205.2L457.6 205.0L458.2 204.5L458.8 204.6L459.4 203.8L460.0 204.9L460.6 204.8L461.2 205.0L461.8 204.6L462.4 204.4L463.0 205.5L463.6 205.0L464.2 204.9L464.8 205.6L465.4 205.7L466.0 204.9L466.6 204.4L467.2 204.3L467.8 204.3L468.4 204.6L469.0 204.5L469.6 204.3L470.2 203.3L470.8 203.8L471.4 203.5L472.0 202.5L472.6 201.4L473.2 202.6L473.8 202.5L474.4 202.0L475.0 200.8L475.6 201.6L476.2 203.2L476.8 204.0L477.4 204.2L478.0 205.0L478.6 205.8L479.2 206.7L479.8 208.0L480.4 208.7L481.0 209.5L481.5 210.3Z" fill="#2e6d94"/>
<line x1="66.80" y1="210.30" x2="682.50" y2="210.30" stroke="#2e6d94" stroke-width="1.0" />
<path d="M152.9 228.7L152.9 228.7L153.7 228.0L154.5 227.6L155.3 227.2L156.1 227.3L156.9 227.3L157.7 227.9L158.5 228.4L159.3 228.7L160.1 228.7L160.9 228.7L161.7 228.7L162.5 228.7L163.3 228.7L164.1 228.7L164.9 228.7L165.7 228.7L166.5 228.7L167.3 228.7L168.1 228.7L168.9 228.7L169.7 228.7L170.5 228.7L171.3 228.7L172.1 228.7L172.9 228.7L173.7 228.7L174.5 228.7L175.3 228.7L176.1 228.7L176.9 228.7L177.7 228.7L178.5 228.7L179.3 228.7L180.1 228.7L180.9 228.7L181.7 228.7L182.5 228.7L183.3 228.7L184.1 228.7L184.9 228.7L185.7 228.7L186.5 228.7L187.3 228.7L188.1 228.7L188.9 228.7L189.7 228.7L190.5 228.7L191.3 228.7L192.1 228.7L192.9 228.7L193.7 228.7L194.5 228.7L195.3 228.7L196.1 228.7L196.9 228.7L197.7 228.7L198.5 228.7L199.3 228.7L200.1 228.7L200.9 228.7L201.7 228.0L202.5 227.5L203.3 227.4L204.1 227.2L204.9 227.2L205.7 227.4L206.5 227.6L207.3 228.1L208.1 228.7L208.9 228.7L209.7 228.7L210.5 228.7L211.3 228.7L212.1 228.7L212.9 228.7L213.7 228.7L214.5 228.7L215.3 228.7L216.1 228.7L216.9 228.7L217.7 228.7L218.5 228.7L219.3 228.7L220.1 228.7L220.9 228.7L221.7 228.7L222.5 228.7L223.3 228.7L224.1 228.7L224.9 228.7L225.7 228.7L226.5 228.7L227.3 228.7L228.1 228.7L228.9 228.7L229.7 228.7L230.5 228.7L231.3 228.7L232.1 228.7L232.9 228.2L233.7 227.4L234.5 227.2L235.3 227.3L236.1 227.6L236.9 228.4L237.7 228.7L238.5 228.7L239.3 228.7L240.1 228.7L240.9 228.7L241.7 228.7L242.5 228.7L243.3 228.7L244.1 228.7L244.9 228.7L245.7 228.7L246.5 228.7L247.3 228.6L248.1 227.7L248.9 227.4L249.7 227.0L250.5 227.7L251.3 228.0L252.1 228.6L252.9 228.7L253.7 228.7L254.5 228.7L255.3 228.7L256.1 228.7L256.9 228.7L257.7 228.7L258.5 228.7L259.3 228.7L260.1 228.7L260.9 228.7L261.7 228.7L262.5 228.7L263.3 228.7L264.1 228.7L264.9 228.7L265.7 228.7L266.5 228.7L267.3 228.7L268.1 228.7L268.9 228.7L269.7 228.7L270.5 228.7L271.3 228.7L272.1 228.7L272.9 228.7L273.7 228.7L274.5 228.7L275.3 228.7L276.1 228.7L276.9 228.7L277.7 228.7L278.5 228.7L279.3 228.7L280.1 228.7L280.9 228.7L281.7 228.7L282.5 228.7L283.3 228.7L284.1 228.7L284.9 228.7L285.7 228.7L286.5 228.7L287.3 228.7L288.1 228.7L288.9 228.7L289.7 228.7L290.5 228.7L291.3 228.7L292.1 228.7L292.9 228.7L293.7 228.7L294.5 228.7L295.3 228.1L296.1 227.6L296.9 227.3L297.7 227.4L298.5 227.7L299.3 228.6L300.1 228.7L300.9 228.7L301.7 228.7L302.5 228.7L303.3 228.7L304.1 228.7L304.9 228.7L305.7 228.7L306.5 228.7L307.3 228.7L308.1 228.3L308.9 227.5L309.7 227.5L310.5 227.6L311.3 227.5L312.1 228.3L312.9 228.7L313.7 228.7L314.5 228.7L315.3 228.7L316.1 228.7L316.9 228.7L317.7 228.7L318.5 228.7L319.3 228.7L320.1 228.7L320.9 228.7L321.7 228.7L322.5 228.7L323.3 228.7L324.1 228.7L324.9 228.7L325.7 228.7L326.5 228.7L327.3 228.7L328.1 228.7L328.9 228.7L329.7 228.7L330.5 228.7L331.3 228.7L332.1 228.7L332.9 228.7L333.7 228.7L334.5 228.7L335.3 228.7L336.1 228.7L336.9 228.7L337.7 228.7L338.5 228.7L339.3 228.7L340.1 228.7L340.9 228.7L341.7 228.7L342.5 228.7L343.3 228.7L344.1 228.7L344.9 228.7L345.7 228.7L346.5 228.7L347.3 228.7L348.1 228.7L348.9 228.7L349.7 228.7L350.5 228.7L351.3 228.7L352.1 228.7L352.9 228.7L353.7 228.7L354.5 228.7L355.3 228.7L356.1 228.7L356.9 228.7L357.7 228.7L358.5 228.7L359.3 228.7L360.1 228.7L360.9 228.7L361.7 228.7L362.5 228.7L363.3 228.7L364.1 228.7L364.9 228.7L365.7 228.7L366.5 228.7L367.3 228.7L368.1 228.7L368.9 228.7L369.7 228.7L370.5 228.7L371.3 228.7L372.1 228.7L372.9 228.7L373.7 228.7L374.5 228.7L375.3 228.7L376.1 228.7L376.9 228.7L377.7 228.7L378.5 228.7L379.3 228.7L380.1 228.7L380.9 228.7L381.7 228.7L382.5 228.7L383.3 228.7L384.1 228.7L384.9 228.7L385.7 228.7L386.5 228.7L387.3 228.7L388.1 228.7L388.9 228.7L389.7 228.7L390.5 228.7L391.3 228.5L392.1 227.9L392.9 227.1L393.7 226.7L394.5 227.2L395.3 226.5L396.1 226.6L396.9 227.1L397.7 227.3L398.5 227.6L399.3 228.2L400.1 228.7L400.9 228.7L401.7 228.7L402.5 228.7L403.3 228.7L404.1 228.7L404.9 228.7L405.7 228.7L406.5 228.7L407.3 228.7L408.1 228.7L408.9 228.7L409.7 228.7L410.5 228.7L411.3 228.7L412.1 228.7L412.9 228.7L413.7 228.7L414.5 228.7L415.3 228.7L416.1 228.7L416.9 228.7L417.7 228.7L418.5 228.7L419.3 228.7L420.1 228.7L420.9 228.7L421.7 228.7L422.5 228.7L423.3 228.7L424.1 228.7L424.9 228.7L425.7 228.7L426.5 228.7L427.3 228.7L428.1 228.7L428.9 228.7L429.7 228.7L430.5 228.7L431.3 228.7L432.1 228.7L432.9 228.7L433.7 228.7L434.5 228.7L435.3 228.7L436.1 228.7L436.9 228.7L437.7 228.7L438.5 228.7L439.3 228.7L440.1 228.7L440.9 228.7L441.7 228.7L442.5 228.7L443.3 228.7L444.1 228.7L444.9 228.7L445.7 228.7L446.5 228.7L447.3 228.7L448.1 228.7L448.9 228.7L449.7 228.7L450.5 228.7L451.3 228.7L452.1 228.7L452.9 228.7L453.7 228.7L454.5 228.7L455.3 228.7L456.1 228.7L456.9 228.7L457.7 228.7L458.5 228.7L459.3 228.7L460.1 228.7L460.9 228.7L461.7 228.7L462.5 228.7L463.3 228.7L464.1 228.7L464.9 228.7L465.7 228.7L466.5 228.7L467.3 228.7L468.1 228.7L468.9 228.7L469.7 228.7L470.5 228.4L471.3 227.6L472.1 227.7L472.9 228.3L473.7 228.7L474.5 228.7L475.3 228.7L476.1 228.7L476.9 228.7L477.7 228.7L478.5 228.7L479.3 228.7L480.1 228.7L480.9 228.7L481.7 228.7L482.5 228.7L483.3 228.7L484.1 228.7L484.9 228.7L485.7 228.7L486.5 228.7L487.3 228.7L488.1 228.7L488.9 228.7L489.7 228.7L490.5 228.7L491.3 228.7L492.1 228.2L492.9 227.5L493.7 227.2L494.5 227.4L495.3 227.7L496.1 228.4L496.9 228.7L497.7 228.7L498.5 228.7L499.3 228.7L500.1 228.7L500.9 228.7L501.7 228.7L502.5 228.7L503.3 228.7L504.1 228.7L504.9 228.7L505.7 228.7L506.5 228.7L507.3 228.7L508.1 228.7L508.9 228.7L509.7 228.7L510.5 228.7L511.3 228.7L512.1 228.1L512.9 227.5L513.7 227.6L514.5 227.5L515.3 227.7L516.1 228.3L516.5 228.7Z" fill="#e8794a"/>
<line x1="66.80" y1="228.70" x2="682.50" y2="228.70" stroke="#e8794a" stroke-width="1.3" />
<rect x="366.00" y="215.80" width="1.20" height="0.90" fill="#e8794a" />
<path d="M193.5 253.9L193.5 253.9L194.1 253.2L194.6 252.6L195.2 252.6L195.7 251.5L196.3 250.3L196.8 249.9L197.4 249.7L197.9 246.7L198.5 247.0L199.0 246.3L199.6 244.0L200.1 244.0L200.7 240.9L201.2 244.7L201.8 241.0L202.3 239.0L202.9 238.2L203.4 240.8L204.0 238.1L204.5 239.3L205.1 243.9L205.6 248.7L206.2 253.9L206.7 253.9L207.3 253.9L207.8 253.9L208.4 253.9L208.9 245.9L209.5 244.1L210.0 238.2L210.6 238.6L211.1 243.3L211.7 239.8L212.2 240.7L212.8 242.5L213.3 240.1L213.9 240.3L214.4 244.6L215.0 237.3L215.5 243.5L216.1 241.6L216.6 238.6L217.2 240.6L217.7 236.8L218.3 236.8L218.8 237.0L219.4 235.0L219.9 242.4L220.5 236.9L221.0 241.8L221.6 241.0L222.1 243.3L222.7 242.5L223.2 243.9L223.8 247.1L224.3 247.5L224.9 247.6L225.4 250.0L226.0 251.6L226.5 252.5L227.1 253.9L227.6 253.9L228.2 253.9L228.7 253.9L229.3 253.9L229.8 253.9L230.4 253.9L230.9 247.3L231.5 238.3L232.0 240.5L232.6 242.6L233.1 240.7L233.7 242.8L234.2 244.2L234.8 240.0L235.3 243.9L235.9 240.7L236.4 240.9L237.0 243.2L237.5 240.3L238.1 236.9L238.6 239.1L239.2 236.5L239.7 234.9L240.3 236.7L240.8 241.4L241.4 235.3L241.9 238.8L242.5 240.2L243.0 237.5L243.6 237.5L244.1 242.9L244.7 243.8L245.2 240.1L245.8 244.5L246.3 241.2L246.9 245.6L247.4 244.4L248.0 244.9L248.5 245.7L249.1 245.4L249.6 247.1L250.2 243.4L250.7 243.4L251.3 244.9L251.8 246.8L252.4 243.0L252.9 246.4L253.5 245.9L254.0 241.7L254.6 245.7L255.1 246.4L255.7 243.0L256.2 243.6L256.8 243.4L257.3 244.2L257.9 244.6L258.4 245.7L259.0 243.6L259.5 246.0L260.1 245.6L260.6 243.9L261.2 245.5L261.7 247.3L262.3 246.4L262.8 247.0L263.4 245.1L263.9 245.0L264.5 247.6L265.0 246.7L265.6 247.9L266.1 247.1L266.7 244.3L267.2 247.2L267.8 243.9L268.3 245.1L268.9 246.5L269.4 245.0L270.0 243.6L270.5 246.5L271.1 247.5L271.6 245.6L272.2 248.3L272.7 248.4L273.3 246.1L273.8 245.6L274.4 249.1L274.9 250.0L275.5 252.6L276.0 253.9L276.6 253.9L277.1 253.9L277.7 253.9L278.2 253.9L278.8 253.9L279.3 252.1L279.9 249.5L280.4 248.0L281.0 249.2L281.5 247.5L282.1 247.7L282.6 247.2L283.2 247.4L283.7 246.9L284.3 248.6L284.8 248.1L285.4 245.7L285.9 248.4L286.5 246.6L287.0 247.0L287.6 245.8L288.1 245.6L288.7 247.4L289.2 244.9L289.8 247.0L290.3 244.7L290.9 244.9L291.4 244.8L292.0 246.8L292.5 245.2L293.1 245.1L293.6 245.7L294.2 245.0L294.7 245.3L295.3 246.2L295.8 247.3L296.4 248.2L296.9 246.2L297.5 248.3L298.0 246.8L298.6 248.5L299.1 247.1L299.7 245.9L300.2 247.8L300.8 247.3L301.3 245.3L301.9 246.1L302.4 246.0L303.0 245.4L303.5 245.4L304.1 241.2L304.6 244.5L305.2 244.3L305.7 242.0L306.3 238.9L306.8 243.9L307.4 238.7L307.9 241.2L308.5 241.0L309.0 234.9L309.6 240.6L310.1 241.0L310.7 238.5L311.2 240.5L311.8 239.3L312.3 237.9L312.9 234.7L313.4 240.7L314.0 234.4L314.5 239.8L315.1 237.1L315.6 239.8L316.2 234.4L316.7 239.4L317.3 237.8L317.8 238.1L318.4 240.7L318.9 235.1L319.5 243.1L320.0 237.4L320.6 238.6L321.1 239.5L321.7 240.0L322.2 242.5L322.8 243.9L323.3 246.5L323.9 245.2L324.4 243.7L325.0 241.5L325.5 243.7L326.1 244.8L326.6 244.6L327.2 245.3L327.7 244.2L328.3 242.7L328.8 243.3L329.4 239.6L329.9 237.9L330.5 239.7L331.0 234.9L331.6 239.7L332.1 235.2L332.7 238.8L333.2 237.2L333.8 240.8L334.3 240.1L334.9 246.0L335.4 247.6L336.0 248.1L336.5 243.8L337.1 245.4L337.6 248.0L338.2 248.3L338.7 248.8L339.3 247.8L339.8 247.6L340.4 248.9L340.9 247.3L341.5 246.6L342.0 247.1L342.6 248.2L343.1 248.6L343.7 247.4L344.2 248.8L344.8 248.4L345.3 248.0L345.9 248.3L346.4 248.3L347.0 248.0L347.5 247.7L348.1 247.3L348.6 246.6L349.2 247.1L349.7 246.7L350.3 249.2L350.8 246.9L351.4 249.4L351.9 247.8L352.5 248.8L353.0 247.3L353.6 248.1L354.1 248.5L354.7 247.6L355.2 248.2L355.8 249.4L356.3 248.0L356.9 249.2L357.4 247.9L358.0 248.3L358.5 247.5L359.1 247.4L359.6 246.8L360.2 247.6L360.7 246.0L361.3 247.9L361.8 246.1L362.4 248.9L362.9 246.6L363.5 247.5L364.0 247.1L364.6 247.7L365.1 249.3L365.7 249.6L366.2 248.9L366.8 247.6L367.3 247.9L367.9 247.2L368.4 247.8L369.0 249.4L369.5 247.7L370.1 249.3L370.6 246.6L371.2 243.3L371.7 239.3L372.3 242.4L372.8 235.9L373.4 239.1L373.9 240.9L374.5 240.2L375.0 245.2L375.6 244.0L376.1 243.5L376.7 244.5L377.2 241.8L377.8 240.6L378.3 239.7L378.9 240.9L379.4 239.3L380.0 244.8L380.5 240.0L381.1 238.6L381.6 239.4L382.2 240.0L382.7 238.3L383.3 244.1L383.8 243.5L384.4 242.5L384.9 238.2L385.5 237.3L386.0 241.7L386.6 236.9L387.1 242.7L387.7 241.9L388.2 243.2L388.8 239.8L389.3 236.2L389.9 239.1L390.4 238.3L391.0 239.2L391.5 243.9L392.1 243.2L392.6 241.5L393.2 240.2L393.7 241.7L394.3 242.7L394.8 235.3L395.4 241.2L395.9 237.3L396.5 238.7L397.0 241.6L397.6 238.9L398.1 238.4L398.7 237.7L399.2 241.6L399.8 240.1L400.3 241.5L400.9 239.0L401.4 242.4L402.0 241.4L402.5 243.7L403.1 245.5L403.6 245.6L404.2 247.7L404.7 247.7L405.3 248.9L405.8 249.6L406.4 249.4L406.9 249.3L407.5 250.4L408.0 250.5L408.6 250.1L409.1 250.7L409.7 252.5L410.2 253.9L410.8 253.9L411.3 253.9L411.9 253.9L412.4 253.9L413.0 253.9L413.5 251.1L414.1 247.8L414.6 245.6L415.2 248.1L415.7 245.7L416.3 246.6L416.8 247.2L417.4 246.5L417.9 247.6L418.5 247.0L419.0 246.6L419.6 246.0L420.1 246.1L420.7 247.0L421.2 248.2L421.8 247.4L422.3 245.6L422.9 247.4L423.4 248.1L424.0 247.6L424.5 248.6L425.1 248.1L425.6 248.4L426.2 250.1L426.7 249.7L427.3 248.6L427.8 250.0L428.4 250.3L428.9 248.9L429.5 249.9L430.0 250.6L430.6 250.3L431.1 249.5L431.7 250.6L432.2 249.3L432.8 249.7L433.3 249.9L433.9 250.1L434.4 249.6L435.0 249.2L435.5 246.3L436.1 245.9L436.6 243.6L437.2 246.4L437.7 242.3L438.3 241.2L438.8 242.9L439.4 242.3L439.9 240.9L440.5 239.3L441.0 240.0L441.6 243.6L442.1 240.9L442.7 240.0L443.2 240.6L443.8 240.5L444.3 237.3L444.9 236.4L445.4 240.8L446.0 241.2L446.5 241.4L447.1 241.0L447.6 234.5L448.2 242.6L448.7 241.2L449.3 236.6L449.8 240.3L450.4 243.7L450.9 244.6L451.5 241.0L452.0 242.3L452.6 242.4L453.1 245.1L453.7 241.4L454.2 241.0L454.8 240.1L455.3 245.2L455.9 242.4L456.4 243.2L457.0 241.3L457.5 239.3L458.1 238.9L458.6 243.0L459.2 240.2L459.7 241.5L460.3 243.5L460.8 238.3L461.4 243.4L461.9 239.2L462.5 237.3L463.0 243.1L463.6 236.7L464.1 242.0L464.7 237.1L465.2 235.7L465.8 236.2L466.3 241.4L466.9 238.0L467.4 234.8L468.0 240.6L468.5 241.1L469.1 242.1L469.6 241.9L470.2 242.2L470.7 236.2L471.3 240.8L471.8 238.7L472.4 239.2L472.9 238.1L473.5 240.5L474.0 239.0L474.6 243.6L475.1 242.4L475.7 237.8L476.2 238.3L476.8 242.8L477.3 243.1L477.9 244.7L478.4 243.3L479.0 242.3L479.5 248.5L480.1 247.3L480.6 245.8L481.2 245.3L481.7 246.0L482.3 240.4L482.8 240.6L483.4 243.6L483.9 245.6L484.5 248.5L485.0 250.8L485.6 250.4L486.1 249.1L486.7 247.6L487.2 247.2L487.8 243.6L488.3 239.7L488.9 243.8L489.4 237.3L490.0 238.6L490.5 241.9L491.1 244.7L491.6 245.9L492.2 248.0L492.7 247.6L493.3 247.0L493.8 247.4L494.4 245.0L494.9 244.8L495.5 246.1L496.0 243.3L496.6 246.2L497.1 244.5L497.7 246.6L498.2 246.1L498.8 249.1L499.3 251.1L499.9 250.5L500.4 248.8L501.0 247.8L501.5 247.9L502.1 244.7L502.6 245.8L503.2 245.5L503.7 245.1L504.3 242.6L504.8 243.2L505.4 245.1L505.9 244.4L506.5 240.5L507.0 240.4L507.6 243.3L508.1 240.1L508.7 245.1L509.2 246.6L509.8 246.0L510.3 246.0L510.9 245.0L511.4 246.0L512.0 245.4L512.5 245.1L513.1 243.4L513.6 244.3L514.2 240.2L514.7 241.4L515.3 243.6L515.8 247.1L516.4 248.7L516.9 252.3L517.2 253.9Z" fill="#000"/>
<path d="M197.5 276.5L197.5 276.5L198.1 275.4L198.6 274.2L199.2 273.7L199.7 272.7L200.3 272.3L200.8 270.7L201.4 271.0L201.9 267.8L202.5 268.1L203.0 268.0L203.6 263.4L204.1 264.1L204.7 264.3L205.2 266.8L205.8 268.6L206.3 273.4L206.9 276.1L207.4 276.5L208.0 276.5L208.5 276.5L209.1 276.5L209.6 276.5L210.2 276.5L210.7 276.5L211.3 272.2L211.8 264.7L212.4 267.1L212.9 262.3L213.5 266.1L214.0 263.8L214.6 266.2L215.1 266.2L215.7 268.3L216.2 267.4L216.8 268.0L217.3 266.8L217.9 267.4L218.4 263.0L219.0 264.7L219.5 266.6L220.1 266.1L220.6 263.9L221.2 266.9L221.7 266.1L222.3 266.4L222.8 267.6L223.4 270.7L223.9 268.9L224.5 271.8L225.0 272.2L225.6 273.1L226.1 274.3L226.7 275.8L227.2 276.5L227.8 276.5L228.3 276.5L228.9 276.5L229.4 276.5L230.0 276.5L230.5 276.5L231.1 276.5L231.6 276.5L232.2 275.3L232.7 272.5L233.3 270.9L233.8 270.6L234.4 270.6L234.9 272.1L235.5 269.7L236.0 269.4L236.6 269.8L237.1 270.7L237.7 269.2L238.2 268.5L238.8 269.1L239.3 269.1L239.9 269.7L240.4 269.8L241.0 269.8L241.5 269.5L242.1 269.0L242.6 267.1L243.2 268.3L243.7 269.3L244.3 266.1L244.8 267.7L245.4 268.7L245.9 268.0L246.5 271.4L247.0 271.2L247.6 271.0L248.1 271.6L248.7 270.8L249.2 271.1L249.8 270.4L250.3 271.0L250.9 272.4L251.4 272.4L252.0 270.1L252.5 272.1L253.1 270.7L253.6 270.8L254.2 270.5L254.7 270.7L255.3 271.8L255.8 272.3L256.4 272.4L256.9 272.0L257.5 271.1L258.0 271.0L258.6 271.1L259.1 271.5L259.7 270.4L260.2 271.9L260.8 270.4L261.3 270.9L261.9 272.1L262.4 270.3L263.0 270.9L263.5 270.5L264.1 271.2L264.6 271.9L265.2 270.4L265.7 271.0L266.3 271.0L266.8 270.2L267.4 272.0L267.9 270.7L268.5 271.6L269.0 270.8L269.6 271.2L270.1 272.5L270.7 271.7L271.2 272.1L271.8 271.2L272.3 271.1L272.9 271.4L273.4 271.9L274.0 271.4L274.5 271.2L275.1 272.8L275.6 271.7L276.2 273.9L276.7 275.4L277.3 276.5L277.8 276.5L278.4 276.5L278.9 276.5L279.5 276.5L280.0 276.5L280.6 274.5L281.1 272.5L281.7 270.6L282.2 271.9L282.8 270.3L283.3 272.4L283.9 270.1L284.4 272.5L285.0 271.7L285.5 271.5L286.1 271.1L286.6 270.0L287.2 271.5L287.7 269.9L288.3 271.4L288.8 270.7L289.4 271.5L289.9 271.3L290.5 270.7L291.0 270.7L291.6 270.8L292.1 271.7L292.7 271.4L293.2 270.6L293.8 272.3L294.3 271.5L294.9 271.1L295.4 272.2L296.0 272.3L296.5 272.1L297.1 270.6L297.6 271.7L298.2 272.5L298.7 271.8L299.3 270.7L299.8 271.1L300.4 271.0L300.9 271.3L301.5 271.1L302.0 270.0L302.6 269.8L303.1 269.7L303.7 269.2L304.2 269.2L304.8 270.9L305.3 269.1L305.9 270.7L306.4 268.2L307.0 269.0L307.5 267.8L308.1 267.3L308.6 269.1L309.2 270.2L309.7 269.2L310.3 269.4L310.8 269.8L311.4 269.0L311.9 269.0L312.5 267.3L313.0 267.2L313.6 265.5L314.1 266.6L314.7 269.0L315.2 263.0L315.8 266.1L316.3 266.5L316.9 266.6L317.4 265.9L318.0 268.9L318.5 265.3L319.1 268.9L319.6 269.1L320.2 267.1L320.7 267.8L321.3 270.3L321.8 269.2L322.4 271.0L322.9 270.5L323.5 269.6L324.0 271.8L324.6 269.9L325.1 270.5L325.7 271.9L326.2 271.7L326.8 270.7L327.3 269.6L327.9 271.7L328.4 271.1L329.0 270.6L329.5 270.0L330.1 267.4L330.6 269.8L331.2 265.3L331.7 269.2L332.3 266.2L332.8 266.4L333.4 266.1L333.9 269.1L334.5 269.3L335.0 268.5L335.6 269.9L336.1 272.7L336.7 272.3L337.2 270.3L337.8 270.7L338.3 272.1L338.9 271.8L339.4 271.9L340.0 272.2L340.5 270.8L341.1 271.0L341.6 270.5L342.2 272.7L342.7 271.7L343.3 272.5L343.8 271.4L344.4 272.7L344.9 270.7L345.5 271.9L346.0 272.0L346.6 272.1L347.1 271.8L347.7 272.5L348.2 272.2L348.8 272.1L349.3 271.7L349.9 271.5L350.4 270.5L351.0 270.9L351.5 271.1L352.1 270.4L352.6 270.4L353.2 271.3L353.7 271.4L354.3 270.4L354.8 270.3L355.4 272.1L355.9 270.9L356.5 272.8L357.0 271.0L357.6 272.8L358.1 272.4L358.7 272.4L359.2 272.2L359.8 272.3L360.3 273.4L360.9 272.6L361.4 272.7L362.0 273.1L362.5 272.3L363.1 272.2L363.6 272.8L364.2 273.1L364.7 273.1L365.3 273.2L365.8 273.3L366.4 273.4L366.9 273.3L367.5 273.1L368.0 272.7L368.6 271.7L369.1 272.5L369.7 273.1L370.2 272.7L370.8 269.9L371.3 268.3L371.9 267.2L372.4 265.5L373.0 264.5L373.5 265.4L374.1 263.5L374.6 267.6L375.2 269.1L375.7 271.6L376.3 271.0L376.8 270.0L377.4 271.3L377.9 271.4L378.5 271.2L379.0 269.7L379.6 270.5L380.1 271.0L380.7 269.6L381.2 270.5L381.8 270.0L382.3 268.9L382.9 268.4L383.4 269.6L384.0 264.1L384.5 268.0L385.1 267.9L385.6 267.2L386.2 268.7L386.7 267.1L387.3 268.9L387.8 268.2L388.4 268.1L388.9 270.5L389.5 270.0L390.0 268.5L390.6 270.1L391.1 268.5L391.7 269.8L392.2 268.0L392.8 269.5L393.3 270.4L393.9 268.5L394.4 267.0L395.0 270.3L395.5 266.7L396.1 266.1L396.6 267.6L397.2 267.8L397.7 266.9L398.3 264.6L398.8 266.4L399.4 267.1L399.9 269.5L400.5 266.1L401.0 267.4L401.6 268.1L402.1 270.9L402.7 268.6L403.2 271.1L403.8 270.5L404.3 270.6L404.9 272.9L405.4 272.5L406.0 273.2L406.5 272.9L407.1 273.1L407.6 273.9L408.2 273.3L408.7 274.7L409.3 275.2L409.8 276.1L410.4 276.5L410.9 276.5L411.5 276.5L412.0 276.5L412.6 276.2L413.1 273.9L413.7 271.7L414.2 271.6L414.8 270.2L415.3 271.8L415.9 268.6L416.4 268.8L417.0 269.1L417.5 268.6L418.1 271.1L418.6 270.3L419.2 271.4L419.7 271.7L420.3 269.7L420.8 269.6L421.4 270.4L421.9 270.5L422.5 271.2L423.0 271.3L423.6 270.6L424.1 271.7L424.7 271.4L425.2 271.2L425.8 271.5L426.3 271.6L426.9 271.6L427.4 272.7L428.0 272.1L428.5 272.7L429.1 273.0L429.6 273.7L430.2 273.4L430.7 273.4L431.3 273.8L431.8 274.2L432.4 273.9L432.9 273.4L433.5 273.3L434.0 273.9L434.6 274.5L435.1 273.6L435.7 274.2L436.2 274.6L436.8 272.1L437.3 269.7L437.9 268.5L438.4 266.6L439.0 268.6L439.5 269.6L440.1 268.7L440.6 267.9L441.2 270.2L441.7 269.2L442.3 267.1L442.8 270.0L443.4 268.4L443.9 266.4L444.5 268.7L445.0 267.2L445.6 268.6L446.1 265.1L446.7 268.2L447.2 266.1L447.8 264.5L448.3 265.0L448.9 266.2L449.4 269.3L450.0 263.9L450.5 265.9L451.1 267.5L451.6 268.5L452.2 267.3L452.7 268.0L453.3 271.2L453.8 268.6L454.4 269.9L454.9 268.2L455.5 270.0L456.0 269.3L456.6 269.2L457.1 270.5L457.7 269.1L458.2 268.4L458.8 269.0L459.3 268.4L459.9 269.4L460.4 267.8L461.0 267.1L461.5 267.5L462.1 266.3L462.6 268.0L463.2 266.3L463.7 269.2L464.3 265.9L464.8 268.7L465.4 265.4L465.9 269.2L466.5 264.8L467.0 267.9L467.6 266.8L468.1 267.1L468.7 266.0L469.2 265.9L469.8 263.2L470.3 267.3L470.9 264.6L471.4 267.1L472.0 263.3L472.5 263.7L473.1 266.4L473.6 267.1L474.2 269.0L474.7 269.3L475.3 267.1L475.8 270.3L476.4 270.1L476.9 269.0L477.5 270.7L478.0 269.9L478.6 271.7L479.1 272.8L479.7 272.2L480.2 273.6L480.8 272.2L481.3 273.6L481.9 271.9L482.4 273.1L483.0 271.6L483.5 272.0L484.1 272.2L484.6 271.4L485.2 271.9L485.7 269.9L486.3 269.6L486.8 269.8L487.4 269.8L487.9 270.6L488.5 270.1L489.0 268.6L489.6 268.4L490.1 267.5L490.7 269.6L491.2 270.6L491.8 269.1L492.3 269.5L492.9 271.7L493.4 271.2L494.0 272.6L494.5 272.3L495.1 270.5L495.6 272.5L496.2 271.1L496.7 271.7L497.3 268.9L497.8 269.7L498.4 269.6L498.9 271.2L499.5 271.4L500.0 273.1L500.6 272.3L501.1 272.4L501.7 273.7L502.2 273.4L502.8 272.9L503.3 272.8L503.9 270.4L504.4 272.3L505.0 270.9L505.5 269.4L506.1 268.1L506.6 269.5L507.2 270.3L507.7 270.9L508.3 268.1L508.8 269.5L509.4 267.0L509.9 268.6L510.5 270.0L511.0 269.5L511.6 270.5L512.1 271.0L512.7 270.8L513.2 268.4L513.8 270.2L514.3 267.8L514.9 269.9L515.4 267.8L516.0 269.0L516.5 272.0L517.1 272.6L517.6 275.4L517.9 276.5Z" fill="#000"/>
<path d="M68 253.3h1.2M71 253.3h1.2M73 253.3h1M79 253.3h1.5" stroke="#666" stroke-width="1.2"/>
<path d="M85.5 253.9L85.5 253.9L86.1 251.7L86.7 251.8L87.3 252.9L87.9 252.4L88.5 252.7L89.1 252.0L89.7 252.8L90.3 251.8L90.9 252.1L91.5 252.1L92.1 251.7L92.7 251.8L93.3 251.9L93.9 252.1L94.5 252.2L95.1 252.2L95.7 252.9L96.3 252.6L96.9 252.0L97.5 252.3L98.1 252.3L98.7 251.7L99.3 252.4L99.9 251.9L100.5 251.8L101.1 251.7L101.7 252.5L102.3 252.0L102.9 252.2L103.5 252.0L104.1 252.7L104.7 252.6L105.3 252.5L105.9 251.7L106.5 251.7L107.1 252.3L107.7 252.0L108.3 252.2L108.9 252.1L109.5 252.5L110.1 252.3L110.7 251.5L111.3 251.6L111.9 252.6L112.2 253.9Z" fill="#222"/>
<path d="M112.5 253.3h3.7M118.5 253.3h5.7M126.1 253.3h6.6M134.7 253.3h8.4M144.3 253.3h8.2M153.9 253.3h3.5M158.8 253.3h6.1M167.1 253.3h6.5M176.0 253.3h4.1M181.7 253.3h6.4M190.0 253.3h3.0M522.0 253.3h3.4M527.2 253.3h6.2M534.4 253.3h6.3M541.7 253.3h5.7M549.1 253.3h4.2M554.3 253.3h0.4M651.5 253.3h5.1M658.4 253.3h3.7M663.8 253.3h1.2M629.1 253.3h0.9M645.3 253.3h0.9M681.5 253.3h0.9" stroke="#7a7a7a" stroke-width="1.3"/>
<path d="M86.1 276.5L86.1 276.5L86.7 274.9L87.3 275.0L87.9 274.9L88.5 275.1L89.1 273.5L89.7 274.5L90.3 273.8L90.9 274.4L91.5 274.3L92.1 274.7L92.7 273.5L93.3 274.8L93.9 273.5L94.5 273.8L95.1 273.7L95.7 275.0L96.3 273.4L96.9 274.0L97.5 274.2L98.1 274.2L98.7 274.4L99.3 273.5L99.9 273.5L100.5 273.5L101.1 274.9L101.7 274.2L102.3 273.9L102.9 274.9L103.5 273.6L104.1 273.9L104.7 275.0L105.3 274.7L105.9 274.0L106.5 273.6L107.1 273.4L107.7 274.7L108.3 273.7L108.9 274.1L109.5 274.5L110.1 274.8L110.7 275.0L111.3 275.1L111.9 274.4L112.5 275.0L113.1 275.7L113.2 276.5Z" fill="#111"/>
<path d="M79.4 275.9h1.2M81.6 275.9h1M113.2 275.9h7.2M121.3 275.9h6.0M128.4 275.9h13.8M143.2 275.9h10.2M154.7 275.9h13.6M169.7 275.9h13.3M184.5 275.9h11.4M522.0 275.9h6.7M529.9 275.9h6.6M538.1 275.9h6.1M545.9 275.9h5.9M552.8 275.9h3.9M652.7 275.9h5.7M659.3 275.9h7.6M590.7 275.9h0.9M594.9 275.9h0.9M649.0 275.9h0.9M681.5 275.9h0.9" stroke="#1a1a1a" stroke-width="1.3"/>
<line x1="66.80" y1="314.40" x2="682.50" y2="314.40" stroke="#707070" stroke-width="1.0" />
<path d="M388.3 314.4h1.8M436.4 314.4h1.6M494.3 314.4h1.3M461.9 314.4h2.0M431.7 314.4h1.0M136.4 314.4h1.9M232.7 314.4h1.9M599.6 314.4h1.4M292.4 314.4h1.6M286.4 314.4h1.4M337.4 314.4h1.3M459.8 314.4h1.2M312.7 314.4h1.4M189.9 314.4h1.0M344.5 314.4h0.8M138.6 314.4h1.7M356.5 314.4h1.4M489.2 314.4h1.1M196.7 314.4h0.9M439.7 314.4h1.1M588.8 314.4h1.8M258.5 314.4h1.8M531.1 314.4h1.0M252.8 314.4h1.4M468.5 314.4h1.1M645.5 314.4h0.8M493.1 314.4h1.0M594.3 314.4h1.4M211.4 314.4h1.7M448.4 314.4h1.7M197.4 314.4h1.1M567.3 314.4h1.8M126.3 314.4h1.4M272.1 314.4h1.9M186.4 314.4h0.9M611.4 314.4h1.3M584.6 314.4h1.7" stroke="#dca0b0" stroke-width="1.0"/>
<path d="M370.8 314.4h1.0M307.4 314.4h1.7M390.4 314.4h1.6M578.9 314.4h1.7M436.5 314.4h1.3M507.7 314.4h1.2M637.5 314.4h1.0M256.7 314.4h1.0M588.3 314.4h1.9M457.9 314.4h1.0M313.8 314.4h1.6M338.6 314.4h0.9M435.6 314.4h1.4M211.8 314.4h0.9M428.9 314.4h1.4M268.9 314.4h1.8M276.4 314.4h1.9M517.1 314.4h1.4M297.2 314.4h1.3M553.1 314.4h1.1M401.2 314.4h1.1M350.9 314.4h1.9M287.9 314.4h1.2M380.4 314.4h1.0M178.9 314.4h1.4M498.6 314.4h1.1M327.6 314.4h1.6M152.2 314.4h1.5M298.2 314.4h1.6M468.5 314.4h1.3M392.2 314.4h0.9M494.8 314.4h1.4M597.9 314.4h1.5" stroke="#a0a0dc" stroke-width="1.0"/>
<path d="M618.9 314.4v-2.1M189.3 314.4v-2.2M231.7 314.4v-2.0M464.7 314.4v-1.9M319.7 314.4v-1.2M236.4 314.4v-1.0M205.9 314.4v-1.0M551.8 314.4v-1.6M570.7 314.4v-2.2M365.5 314.4v-1.0M589.2 314.4v-1.0M401.9 314.4v-2.0M211.1 314.4v-1.2M469.2 314.4v-0.9M574.0 314.4v-1.8M421.7 314.4v-1.9M218.4 314.4v-2.0M414.0 314.4v-1.3M548.9 314.4v-1.4M171.1 314.4v-1.8M167.8 314.4v-1.6M256.7 314.4v-1.4M355.5 314.4v-1.8M462.5 314.4v-1.3M262.3 314.4v-1.9M181.9 314.4v-1.6M506.3 314.4v-1.7M162.9 314.4v-0.9M464.8 314.4v-1.9M460.4 314.4v-2.2" stroke="#8080d8" stroke-width="0.7"/>
<path d="M515.5 314.4 V283.4" stroke="#a4a4f2" stroke-width="0.9"/>
<path d="M514.3 314.4 L515.3 305.4 L515.8 305.4 L516.8 314.4Z" fill="#4646e0"/>
<path d="M515.5 314.4 V327.2 H491.5" stroke="#000" stroke-width="1.2" fill="none"/>
<path d="M485.5 327.2 L492.8 323.9 L492.8 330.6 Z" fill="#000"/>
<text x="499.7" y="337.9" font-size="8.6" fill="#111" stroke="#111" stroke-width="0.18">+1</text>
<text x="-0.2" y="354.9" font-size="18.3" fill="#000" stroke="#000" stroke-width="0.38" font-weight="bold">B</text>
<text x="98.0" y="368.1" font-size="12.2" fill="#000" stroke="#000" stroke-width="0.26" font-weight="bold" word-spacing="1.8">FETAL TISSUES</text>
<line x1="12.90" y1="373.30" x2="295.20" y2="373.30" stroke="#111" stroke-width="1.1" />
<text x="32.7" y="429.8" font-size="10.6" fill="#111" stroke="#111" stroke-width="0.22" font-style="italic">Zenbu</text>
<rect x="33.20" y="465.10" width="71.90" height="11.00" fill="#eaadb1" />
<rect x="33.20" y="519.30" width="11.80" height="10.00" fill="#e4e4e4" />
<rect x="33.20" y="559.00" width="6.00" height="10.50" fill="#e4e4e4" />
<text x="34.5" y="446.4" font-size="10.3" fill="#111" stroke="#111" stroke-width="0.22">brain</text>
<text x="34.5" y="460.2" font-size="10.3" fill="#111" stroke="#111" stroke-width="0.22">colon</text>
<text x="34.5" y="486.6" font-size="10.3" fill="#111" stroke="#111" stroke-width="0.22">kidney</text>
<text x="34.5" y="500.1" font-size="10.3" fill="#111" stroke="#111" stroke-width="0.22">liver</text>
<text x="34.5" y="513.5" font-size="10.3" fill="#111" stroke="#111" stroke-width="0.22">lung</text>
<text x="34.5" y="527.0" font-size="10.3" fill="#111" stroke="#111" stroke-width="0.22">skeletal muscle</text>
<text x="34.5" y="540.9" font-size="10.3" fill="#111" stroke="#111" stroke-width="0.22">spinal cord</text>
<text x="34.5" y="554.2" font-size="10.3" fill="#111" stroke="#111" stroke-width="0.22">spleen</text>
<text x="34.5" y="567.8" font-size="10.3" fill="#111" stroke="#111" stroke-width="0.22">thyroid</text>
<text x="34.5" y="474.2" font-size="12.8" fill="#d2141e" stroke="#d2141e" stroke-width="0.27">heart</text>
<line x1="74.70" y1="437.00" x2="74.70" y2="570.00" stroke="rgba(0,0,0,0.17)" stroke-width="0.8" />
<rect x="32.7" y="436.8" width="84.8" height="133.3" fill="none" stroke="#111" stroke-width="1.1"/>
<text x="33.4" y="579.9" font-size="8.8" fill="#111" stroke="#111" stroke-width="0.18" text-anchor="middle">0</text>
<text x="75.4" y="579.9" font-size="8.8" fill="#111" stroke="#111" stroke-width="0.18" text-anchor="middle">350</text>
<text x="111.0" y="579.9" font-size="8.8" fill="#111" stroke="#111" stroke-width="0.18" text-anchor="middle">700</text>
<text x="31.0" y="591.6" font-size="9.3" fill="#111" stroke="#111" stroke-width="0.20">RLE</text>
<text transform="translate(26.9,573.3) rotate(-90)" font-size="11.8" font-style="italic" fill="#111" stroke="#111" stroke-width="0.25">HSCHARME expression</text>
<text x="162.9" y="387.6" font-size="10.4" fill="#111" stroke="#111" stroke-width="0.22" font-style="italic">Descartes</text>
<rect x="164.20" y="395.30" width="92.50" height="14.80" fill="#eaadb1" />
<rect x="164.20" y="413.70" width="10.30" height="15.50" fill="#eaadb1" />
<rect x="164.20" y="432.40" width="8.40" height="15.20" fill="#eaadb1" />
<rect x="164.20" y="451.00" width="5.60" height="15.20" fill="#eaadb1" />
<rect x="164.20" y="469.80" width="3.00" height="15.20" fill="#eaadb1" />
<rect x="164.20" y="488.60" width="2.60" height="15.20" fill="#eaadb1" />
<rect x="164.20" y="507.40" width="2.30" height="15.20" fill="#eaadb1" />
<rect x="164.20" y="526.20" width="2.10" height="15.20" fill="#eaadb1" />
<rect x="164.20" y="545.00" width="2.00" height="15.20" fill="#eaadb1" />
<rect x="164.20" y="563.80" width="1.80" height="15.20" fill="#eaadb1" />
<rect x="164.20" y="582.60" width="1.80" height="15.20" fill="#eaadb1" />
<rect x="164.20" y="601.40" width="1.30" height="15.20" fill="#eaadb1" />
<rect x="164.20" y="620.20" width="1.00" height="15.20" fill="#eaadb1" />
<text x="165.6" y="424.5" font-size="10.4" fill="#111" stroke="#111" stroke-width="0.22">schwann cells</text>
<text x="165.6" y="443.4" font-size="10.4" fill="#111" stroke="#111" stroke-width="0.22">myeloid cells</text>
<text x="165.6" y="462.3" font-size="10.4" fill="#111" stroke="#111" stroke-width="0.22">megakaryocytes</text>
<text x="165.6" y="481.2" font-size="10.4" fill="#111" stroke="#111" stroke-width="0.22">vascular endothelial cells</text>
<text x="165.6" y="500.1" font-size="10.4" fill="#111" stroke="#111" stroke-width="0.22">stromal cells</text>
<text x="165.6" y="519.0" font-size="10.4" fill="#111" stroke="#111" stroke-width="0.22">lymphoid cells</text>
<text x="165.6" y="537.9" font-size="10.4" fill="#111" stroke="#111" stroke-width="0.22">lymphatic endothelial cells</text>
<text x="165.6" y="556.8" font-size="10.4" fill="#111" stroke="#111" stroke-width="0.22">visceral neurons cells</text>
<text x="165.6" y="575.7" font-size="10.4" fill="#111" stroke="#111" stroke-width="0.22">endocardial cells</text>
<text x="165.6" y="594.6" font-size="10.4" fill="#111" stroke="#111" stroke-width="0.22">smooth muscle cells</text>
<text x="165.6" y="613.5" font-size="10.4" fill="#111" stroke="#111" stroke-width="0.22">epicardial fat cells</text>
<text x="165.6" y="632.4" font-size="10.4" fill="#111" stroke="#111" stroke-width="0.22">erythroblasts</text>
<line x1="227.40" y1="394.00" x2="227.40" y2="636.00" stroke="rgba(0,0,0,0.17)" stroke-width="0.8" />
<text x="165.8" y="406.5" font-size="12.7" fill="#d2141e" stroke="#d2141e" stroke-width="0.27">cardiomyocytes</text>
<rect x="163.5" y="393.3" width="127.2" height="243.5" fill="none" stroke="#111" stroke-width="1.1"/>
<text x="164.5" y="648.5" font-size="8.8" fill="#111" stroke="#111" stroke-width="0.18" text-anchor="middle">0</text>
<text x="225.2" y="648.5" font-size="8.8" fill="#111" stroke="#111" stroke-width="0.18" text-anchor="middle">1.5</text>
<text x="290.2" y="647.4" font-size="8.8" fill="#111" stroke="#111" stroke-width="0.18" text-anchor="middle">3</text>
<text x="162.9" y="662.8" font-size="10.1" fill="#111" stroke="#111" stroke-width="0.21">UMI/cell</text>
<path d="M105.1 465.1 L163.5 393.3 M105.1 476.1 L163.5 636.8" stroke="#d0141e" stroke-width="1.1" stroke-dasharray="3.2,2.2" fill="none"/>
<text x="312.4" y="354.7" font-size="18.3" fill="#000" stroke="#000" stroke-width="0.38" font-weight="bold">C</text>
<text x="364.8" y="368.5" font-size="12.2" fill="#000" stroke="#000" stroke-width="0.26" font-weight="bold" word-spacing="1.5">ADULT TISSUES</text>
<line x1="340.90" y1="373.30" x2="486.90" y2="373.30" stroke="#111" stroke-width="1.1" />
<text x="346.7" y="386.9" font-size="10.2" fill="#111" stroke="#111" stroke-width="0.21" font-style="italic">Tabula Sapiens</text>
<rect x="347.30" y="414.60" width="123.50" height="15.30" fill="#eaadb1" />
<rect x="347.30" y="434.00" width="110.50" height="15.10" fill="#eaadb1" />
<line x1="416.80" y1="394.00" x2="416.80" y2="469.50" stroke="rgba(0,0,0,0.17)" stroke-width="0.8" />
<text x="350.2" y="406.5" font-size="10.3" fill="#111" stroke="#111" stroke-width="0.22">lung</text>
<text x="350.6" y="427.3" font-size="12.7" fill="#d2141e" stroke="#d2141e" stroke-width="0.27">atria</text>
<text x="350.6" y="445.6" font-size="12.7" fill="#d2141e" stroke="#d2141e" stroke-width="0.27">ventricles</text>
<text x="349.9" y="464.0" font-size="10.3" fill="#111" stroke="#111" stroke-width="0.22">kidney</text>
<rect x="346.6" y="393.6" width="140.2" height="76.4" fill="none" stroke="#111" stroke-width="1.1"/>
<text x="347.4" y="479.9" font-size="8.8" fill="#111" stroke="#111" stroke-width="0.18" text-anchor="middle">0</text>
<text x="416.1" y="479.9" font-size="8.8" fill="#111" stroke="#111" stroke-width="0.18" text-anchor="middle">700</text>
<text x="486.8" y="480.6" font-size="8.8" fill="#111" stroke="#111" stroke-width="0.18" text-anchor="end">1400</text>
<text x="346.6" y="492.3" font-size="10.3" fill="#111" stroke="#111" stroke-width="0.22">Parts per million</text>
<text x="548.1" y="368.4" font-size="12.3" fill="#000" stroke="#000" stroke-width="0.26" font-weight="bold" word-spacing="1.5">HEART CLUSTERS</text>
<line x1="528.40" y1="373.30" x2="675.10" y2="373.30" stroke="#111" stroke-width="1.1" />
<rect x="535.50" y="386.50" width="116.40" height="13.70" fill="#eaadb1" />
<rect x="535.50" y="403.50" width="20.50" height="13.50" fill="#eaadb1" />
<rect x="535.50" y="421.00" width="19.50" height="14.00" fill="#eaadb1" />
<rect x="535.50" y="438.00" width="16.30" height="15.00" fill="#eaadb1" />
<rect x="535.50" y="456.60" width="14.60" height="14.50" fill="#eaadb1" />
<rect x="535.50" y="474.20" width="10.30" height="15.00" fill="#eaadb1" />
<line x1="603.60" y1="385.00" x2="603.60" y2="489.50" stroke="rgba(0,0,0,0.17)" stroke-width="0.8" />
<text x="537.0" y="396.8" font-size="12.7" fill="#d2141e" stroke="#d2141e" stroke-width="0.27">cardiomyocytes</text>
<text x="536.9" y="411.6" font-size="10.3" fill="#111" stroke="#111" stroke-width="0.22">macrophages</text>
<text x="536.9" y="429.2" font-size="10.3" fill="#111" stroke="#111" stroke-width="0.22">endothelial cells</text>
<text x="536.9" y="446.5" font-size="10.3" fill="#111" stroke="#111" stroke-width="0.22">hepatocytes</text>
<text x="536.9" y="465.8" font-size="10.3" fill="#111" stroke="#111" stroke-width="0.22">smooth muscle cells</text>
<text x="536.9" y="484.6" font-size="10.3" fill="#111" stroke="#111" stroke-width="0.22">fibroblasts</text>
<rect x="534.8" y="384.6" width="136.4" height="105.3" fill="none" stroke="#111" stroke-width="1.1"/>
<text x="535.0" y="499.0" font-size="8.8" fill="#111" stroke="#111" stroke-width="0.18" text-anchor="middle">0</text>
<text x="605.5" y="499.0" font-size="8.8" fill="#111" stroke="#111" stroke-width="0.18" text-anchor="middle">1000</text>
<text x="667.0" y="497.6" font-size="8.8" fill="#111" stroke="#111" stroke-width="0.18" text-anchor="middle">2000</text>
<text x="534.0" y="512.3" font-size="10.3" fill="#111" stroke="#111" stroke-width="0.22">Parts per million</text>
<text x="312.6" y="534.1" font-size="18.3" fill="#000" stroke="#000" stroke-width="0.38" font-weight="bold">D</text>
<path d="M389.6 565.2h1M393.8 567.5h1M401.8 546.2h1M390.3 552.9h1M408.4 562.5h1M402.2 549.6h1M402.1 578.0h1M398.6 573.0h1M403.2 546.1h1M405.9 567.0h1M404.7 578.4h1M404.6 580.1h1M394.6 575.3h1M386.5 552.2h1M401.8 555.5h1M398.1 558.9h1M393.2 566.8h1M400.5 579.4h1M403.5 580.4h1M403.2 550.1h1M404.5 552.0h1M408.2 566.3h1M395.0 549.6h1M391.4 574.0h1M401.4 545.4h1M404.7 556.7h1M391.9 546.6h1M401.0 544.8h1M388.4 559.8h1M401.3 549.8h1M396.6 564.2h1M402.4 567.2h1M399.7 568.2h1M395.7 572.1h1M389.6 555.5h1M399.4 544.1h1M395.2 566.6h1M382.8 568.0h1M402.0 546.0h1M401.8 562.1h1M403.5 557.6h1M404.3 572.8h1M403.4 581.7h1M390.1 561.7h1M400.8 556.3h1M393.6 556.0h1M393.8 567.2h1M391.6 558.5h1M400.0 572.7h1M391.9 552.4h1M407.4 553.1h1M388.1 560.8h1M404.0 547.6h1M392.3 556.8h1M408.3 561.0h1M409.0 550.3h1M392.7 569.3h1M389.2 548.4h1M398.8 551.2h1M407.5 576.8h1M387.9 554.6h1M407.5 569.0h1M407.4 557.3h1M386.3 555.2h1M407.0 554.3h1M393.0 560.1h1M395.3 559.8h1M411.2 552.4h1M405.5 576.7h1M403.0 564.2h1M391.2 557.1h1M400.6 555.0h1M387.6 555.5h1M402.9 564.4h1M401.4 557.1h1M390.1 577.7h1M397.1 574.6h1M393.2 551.4h1M398.9 575.9h1M387.6 575.0h1M401.9 577.8h1M390.6 564.5h1M395.4 562.3h1M384.9 563.5h1M392.1 556.1h1M393.2 569.2h1M400.6 557.9h1M388.2 556.6h1M386.1 565.6h1M404.6 558.7h1M393.9 567.5h1M406.7 558.7h1M407.3 568.3h1M395.7 558.3h1M397.7 571.4h1M395.4 571.1h1M396.6 553.3h1M399.0 571.1h1M384.4 560.4h1M395.5 578.4h1M390.4 562.0h1M402.9 578.7h1M407.0 570.0h1M405.2 565.9h1M385.4 566.9h1M409.8 550.7h1M403.3 576.7h1M406.2 563.8h1M404.6 547.8h1M405.6 580.6h1M384.1 556.4h1M399.9 576.4h1M389.8 550.7h1M390.0 568.0h1M405.8 559.2h1M393.7 559.3h1M393.2 560.2h1M384.8 563.4h1M405.6 550.0h1M403.8 573.5h1M403.3 564.1h1M397.3 569.1h1M410.3 549.5h1M385.2 573.2h1M396.1 572.1h1M388.0 554.2h1M388.4 566.8h1M392.1 552.8h1M403.8 581.4h1M391.5 571.5h1M395.1 577.4h1M400.5 554.2h1M397.2 558.8h1M387.6 557.9h1M392.3 574.3h1M397.2 567.3h1M396.9 576.7h1M407.9 565.7h1M397.3 572.1h1M409.0 559.5h1M405.2 581.6h1M396.8 552.7h1M389.5 572.0h1M403.3 581.6h1M408.9 553.2h1M388.1 553.8h1M388.1 571.5h1M409.1 579.2h1M390.2 577.9h1M392.0 560.4h1M405.0 547.0h1M391.3 557.7h1M400.4 570.4h1M395.9 562.8h1M388.8 566.8h1M399.2 548.3h1M390.8 570.0h1M406.4 573.6h1M391.5 570.4h1M402.7 575.5h1M390.5 573.5h1M399.0 548.1h1M397.7 557.5h1M404.7 570.5h1M399.9 550.8h1M402.4 568.6h1M402.7 548.5h1M392.6 572.1h1M400.9 565.6h1M402.5 561.7h1M392.0 550.6h1M384.3 571.9h1M405.8 565.1h1M405.4 557.8h1M390.5 558.8h1M398.0 553.4h1M406.3 557.6h1M392.6 559.6h1M399.1 574.2h1M393.2 577.1h1M385.7 554.3h1M406.6 572.4h1M388.0 551.1h1M395.2 573.0h1M407.7 573.2h1M400.7 549.4h1M394.7 551.3h1M398.7 566.1h1M388.5 553.5h1M407.3 578.9h1M399.5 566.7h1M402.0 582.3h1M403.7 555.5h1M409.1 562.8h1M401.0 572.4h1M402.9 563.1h1M398.6 561.8h1M388.3 564.6h1M383.4 563.4h1M402.4 561.2h1M399.9 581.6h1M407.0 568.3h1M383.8 557.9h1M399.1 580.4h1M392.3 578.1h1M403.9 548.9h1M405.4 557.2h1M407.4 580.5h1M409.2 560.9h1M405.9 562.8h1M387.2 563.3h1M404.1 564.9h1M395.4 569.3h1M391.7 562.0h1M405.9 559.5h1M404.7 558.1h1M393.8 564.6h1M400.9 552.5h1M406.7 549.3h1M396.6 551.3h1M388.8 550.4h1M394.8 550.3h1M387.5 563.0h1M396.2 559.7h1M404.2 545.6h1M394.8 559.3h1M397.1 550.1h1M401.7 557.3h1M405.0 554.5h1M406.9 562.0h1M411.4 555.5h1M390.0 554.1h1M407.7 568.5h1M393.0 547.3h1M403.6 582.0h1M400.7 543.7h1M383.9 569.5h1M410.4 551.5h1M407.4 579.9h1M391.7 567.6h1M391.4 577.3h1M385.8 559.0h1M392.7 570.5h1M411.3 550.5h1M405.4 572.7h1M408.4 565.5h1M395.2 552.7h1M406.6 562.6h1M390.6 550.3h1M404.8 567.6h1M404.4 558.9h1M397.4 549.7h1M396.8 573.6h1M403.4 547.4h1M389.6 577.0h1M402.3 578.4h1M392.6 558.3h1M384.5 559.4h1M400.0 548.0h1M384.7 569.3h1M387.0 569.1h1M400.5 544.1h1M389.1 565.9h1M395.3 574.5h1M401.1 574.8h1M399.0 551.1h1M408.0 548.1h1M384.9 562.0h1M389.2 576.4h1M401.5 569.0h1M406.0 578.1h1M393.0 567.5h1M396.1 548.0h1M408.3 567.1h1M407.7 551.8h1M399.1 562.0h1M405.0 546.7h1M393.0 562.8h1M384.4 565.5h1M405.2 560.3h1M402.5 567.6h1M388.9 557.5h1M395.7 546.9h1M389.0 550.1h1M401.4 580.5h1M399.0 560.2h1M406.4 559.7h1M404.8 555.3h1M398.5 568.9h1M390.8 560.7h1M393.0 573.0h1M405.6 555.0h1M385.4 555.5h1M395.1 546.7h1M387.0 573.8h1M404.1 582.3h1M393.9 550.0h1M392.0 561.9h1M398.7 565.1h1M393.5 577.4h1M391.1 561.9h1M410.0 575.6h1M391.5 553.2h1M386.3 564.6h1M399.0 550.2h1M406.3 562.0h1M395.7 557.0h1M383.8 565.2h1M385.1 555.9h1M389.9 575.4h1M395.3 553.9h1M383.6 560.6h1M401.8 570.3h1M389.9 549.0h1M405.9 574.9h1M398.1 576.5h1M399.5 554.7h1M402.3 579.1h1M403.0 580.4h1M407.7 567.5h1M395.2 564.1h1M387.5 550.8h1M403.6 582.9h1M399.3 559.8h1M393.2 561.6h1M407.3 561.5h1M392.1 564.3h1M395.1 577.3h1M408.1 580.5h1M401.4 544.8h1M400.2 565.4h1M397.5 554.7h1M404.4 579.7h1M385.4 570.1h1M393.8 564.0h1M402.3 551.3h1M411.0 550.8h1M394.2 576.4h1M392.1 554.3h1M392.1 559.1h1M391.0 548.8h1M398.7 573.0h1M408.4 568.6h1M397.3 554.2h1M399.3 545.5h1M403.3 569.2h1M406.0 550.6h1M388.1 576.2h1M394.2 547.8h1M391.0 548.8h1M397.4 571.5h1M393.0 573.2h1M406.7 566.1h1M396.7 564.9h1M396.0 564.8h1M408.3 551.5h1M400.8 580.5h1M408.8 550.7h1M387.5 554.1h1M407.1 582.9h1M403.7 564.4h1M406.2 547.3h1M399.1 561.1h1M386.8 567.4h1M392.3 563.7h1M393.9 556.2h1M393.4 567.4h1M409.2 576.7h1M390.6 548.5h1M397.9 572.6h1M392.9 569.2h1M396.4 562.5h1M398.8 578.2h1M396.0 568.1h1M384.4 560.4h1M408.7 574.4h1M393.7 552.1h1M399.4 578.6h1M395.7 578.0h1M404.5 557.9h1M391.6 563.6h1M394.7 558.4h1M402.6 578.3h1M400.5 549.4h1M389.1 558.3h1M401.4 549.1h1M384.8 556.3h1M399.1 580.1h1M398.9 572.8h1M408.1 576.8h1M403.6 548.4h1M409.7 558.6h1M397.1 578.9h1M391.2 551.1h1M408.0 567.3h1M408.3 550.9h1M390.8 559.0h1M398.2 560.7h1M401.9 569.7h1M395.9 547.4h1M384.8 561.1h1M405.8 582.9h1M397.2 560.3h1M392.6 560.2h1M400.4 578.6h1M388.5 559.1h1M385.0 569.0h1M398.6 566.3h1M396.9 577.6h1M399.1 554.9h1M398.7 551.6h1M386.4 564.7h1M401.6 557.7h1M406.3 579.6h1M409.0 572.8h1M395.7 556.0h1M389.0 576.2h1M388.8 551.0h1M383.4 563.4h1M394.2 577.3h1M395.2 553.1h1M388.4 549.7h1M391.0 560.5h1M393.4 546.3h1M389.7 554.4h1M400.2 549.6h1M404.3 548.9h1M403.5 558.5h1M388.4 561.9h1M395.0 556.8h1M401.2 558.9h1M396.5 545.0h1M407.0 564.6h1M397.9 557.7h1M391.2 565.5h1M403.9 549.0h1M397.7 548.0h1M404.9 551.9h1M405.3 557.8h1M386.3 556.5h1M409.0 555.3h1M399.4 564.7h1M396.6 555.6h1M400.8 563.7h1M406.2 557.1h1M392.2 565.4h1M410.0 556.8h1M405.8 550.7h1M383.3 560.2h1M405.4 552.2h1M397.6 557.4h1M390.6 560.6h1M400.2 553.0h1M386.3 557.1h1M392.8 561.3h1M388.3 553.2h1M389.0 553.6h1M400.6 546.2h1M384.7 555.4h1M389.1 555.9h1M399.4 566.1h1M409.5 556.2h1M395.1 545.2h1M391.4 551.3h1M411.9 555.2h1M396.2 550.0h1M400.4 556.1h1M389.1 549.0h1M405.4 565.6h1M386.0 560.8h1M405.9 549.1h1M396.9 567.4h1M393.0 562.2h1M388.0 559.9h1M391.2 556.0h1M394.4 564.8h1M405.7 555.9h1M404.0 554.0h1M407.5 549.9h1M399.6 557.9h1M388.2 559.2h1M389.4 562.1h1M398.4 566.9h1M408.9 561.3h1M400.0 561.8h1M405.6 555.4h1M405.5 547.2h1M399.6 559.9h1M401.4 547.5h1M387.2 558.8h1M406.9 553.1h1M401.6 550.0h1M391.6 560.6h1M398.8 551.6h1M407.5 553.1h1M407.6 554.5h1M403.4 551.6h1M389.8 554.6h1M407.4 552.0h1M390.0 553.7h1M385.9 551.3h1M400.5 556.9h1M401.2 550.7h1M393.3 548.4h1M400.4 550.1h1M406.2 558.3h1M403.2 561.5h1M398.9 554.0h1M407.2 555.8h1M386.0 566.2h1M400.8 558.8h1M396.4 546.7h1M386.7 555.8h1M397.6 549.6h1M411.2 553.7h1M384.5 560.1h1M392.3 555.1h1M392.2 551.0h1M387.0 558.9h1M405.7 556.6h1M406.5 556.0h1M402.2 545.6h1M403.6 556.1h1M385.1 560.1h1M411.2 553.9h1M404.7 557.3h1M394.9 555.0h1M401.3 544.3h1M392.3 561.6h1M390.9 555.1h1M390.8 552.3h1M402.8 561.7h1M412.2 555.2h1M389.2 551.8h1M400.8 558.5h1M390.4 548.0h1M398.3 549.8h1M410.0 557.4h1M393.4 554.1h1M384.2 561.5h1M405.9 552.5h1M405.1 550.2h1M389.7 549.2h1M389.0 558.4h1M402.6 561.4h1M386.2 562.3h1M397.6 552.8h1M398.3 554.2h1M389.1 553.2h1M402.7 561.1h1M387.2 562.5h1M401.1 566.7h1M391.9 564.5h1M410.6 554.2h1M408.3 553.9h1M392.6 554.4h1M392.7 553.0h1M385.6 565.3h1M390.4 549.0h1M410.5 551.7h1M392.2 548.9h1M399.5 557.3h1M395.1 556.0h1M392.1 564.0h1M390.6 548.6h1M400.0 546.4h1M396.0 545.0h1M410.6 550.1h1M391.8 566.7h1M389.1 566.1h1M392.5 559.8h1M386.3 565.5h1M395.2 552.0h1M403.0 558.1h1M400.6 544.2h1M409.6 552.0h1M388.2 551.6h1M386.5 551.3h1M399.6 553.5h1M393.2 550.7h1M397.8 562.6h1M396.4 562.3h1M397.7 546.5h1M388.2 564.3h1M397.6 552.9h1M398.7 564.2h1M394.4 552.4h1M399.6 555.3h1M398.1 554.6h1M397.4 561.1h1M386.5 564.7h1M388.3 563.0h1M399.5 564.1h1M394.6 546.2h1M406.0 554.6h1M405.7 563.0h1M409.7 557.0h1M385.5 565.3h1M408.3 550.4h1M389.4 561.1h1M384.1 556.1h1M404.5 561.7h1M401.9 562.3h1M388.9 556.7h1M400.9 546.7h1M408.8 554.5h1M398.9 559.9h1M387.2 561.4h1M407.4 564.6h1M391.6 549.3h1M388.0 565.5h1M396.4 553.1h1M398.9 560.6h1M392.7 551.8h1M406.4 562.6h1M401.1 553.5h1M412.2 554.1h1M393.7 558.3h1M394.1 566.7h1M402.8 554.8h1M403.1 558.3h1M401.8 555.7h1M399.0 555.6h1M408.4 548.3h1M407.0 550.9h1M397.8 554.4h1M404.7 548.5h1M391.0 546.8h1M400.1 557.7h1M396.9 557.4h1M391.8 559.7h1M407.8 560.0h1M397.9 544.7h1M407.1 551.4h1M391.9 558.9h1M400.8 555.7h1M409.2 556.3h1M399.9 552.5h1M399.4 552.1h1M409.0 557.8h1M390.3 560.9h1M402.4 545.1h1M405.9 549.2h1M391.7 549.7h1M400.7 547.2h1M396.1 560.7h1M384.8 566.1h1M404.3 558.7h1M392.3 546.6h1M388.5 563.1h1M385.9 561.8h1M395.1 565.0h1M406.2 560.4h1M391.1 552.6h1M396.1 560.0h1M393.9 556.0h1M405.8 563.5h1M394.3 552.3h1M401.7 549.2h1M402.8 555.4h1M388.9 557.5h1M397.5 567.1h1M410.0 557.9h1M388.0 563.8h1M406.2 553.2h1M389.3 559.5h1M389.4 562.1h1M400.5 563.7h1M393.9 551.0h1M394.5 557.3h1M396.3 559.3h1M398.8 550.6h1M406.1 550.4h1M388.9 561.4h1M408.1 559.5h1M389.5 561.2h1M399.0 552.7h1M401.0 554.6h1M402.8 561.9h1M400.4 566.7h1M403.0 557.7h1M407.2 558.8h1M400.8 551.2h1M401.9 546.7h1M399.0 549.9h1M397.4 562.0h1M394.7 556.4h1M387.9 564.5h1M406.3 562.1h1M385.5 563.6h1M397.9 545.0h1M395.9 565.2h1M402.0 551.3h1M407.8 552.3h1M410.4 553.4h1M406.5 546.4h1M399.6 564.6h1M401.0 552.1h1M406.1 563.7h1M400.7 558.9h1M392.8 553.5h1M389.9 562.9h1M406.4 547.7h1M412.8 554.7h1M389.3 562.8h1M395.7 549.0h1M384.4 560.8h1M400.1 551.0h1M408.4 548.4h1M396.6 545.7h1M393.7 565.2h1M398.3 547.3h1M390.2 559.3h1M391.5 565.2h1M384.8 564.8h1M402.0 563.7h1M393.8 545.3h1M388.3 558.9h1M406.9 565.0h1M399.9 565.0h1M404.3 557.2h1M397.1 546.6h1M405.6 565.4h1M389.9 565.2h1M386.8 563.1h1M395.5 558.3h1M395.8 561.8h1M385.7 566.3h1M390.2 563.6h1M397.3 560.7h1M391.9 563.9h1M386.3 565.2h1M401.1 545.1h1M411.7 551.3h1M402.3 564.4h1M408.1 561.0h1M394.7 549.7h1M387.8 556.9h1M389.2 561.7h1M392.8 557.7h1M399.7 558.9h1M387.7 549.9h1M404.0 548.8h1M394.9 567.1h1M401.7 566.6h1M399.1 562.0h1M403.8 548.4h1M398.8 557.8h1M397.1 559.7h1M407.8 547.1h1M404.4 558.9h1M394.4 560.8h1M401.0 553.3h1M396.4 557.3h1M407.1 551.0h1M404.7 558.4h1M405.7 565.1h1M401.6 549.9h1M397.2 546.0h1M390.0 564.0h1M404.7 564.7h1M394.6 555.7h1M404.7 550.9h1M405.5 557.9h1M391.8 562.8h1M385.2 558.0h1M397.6 556.3h1M401.7 552.8h1M412.3 553.6h1M404.4 547.9h1M394.4 560.1h1M393.7 559.5h1M402.2 558.9h1M392.4 559.2h1M402.8 557.9h1M398.0 561.9h1M389.2 561.0h1M385.5 563.6h1M400.7 545.3h1M408.9 551.0h1M387.2 553.4h1M387.7 562.1h1M386.5 564.6h1M390.5 551.5h1M396.6 557.1h1M395.6 566.7h1M393.4 555.2h1M409.3 549.5h1M388.3 564.0h1M392.6 565.4h1M408.1 552.7h1M393.2 546.1h1M409.6 554.4h1M393.4 547.9h1M389.9 564.9h1M387.0 557.1h1M402.1 556.3h1M398.3 553.3h1M388.8 563.6h1M410.4 557.4h1M416.0 577.4h1M413.0 575.5h1M422.1 583.1h1M412.4 579.2h1M423.1 583.3h1M423.8 584.5h1M423.3 583.5h1M419.0 579.5h1M416.4 577.3h1M427.2 584.4h1M422.4 584.2h1M418.8 581.5h1M416.9 580.4h1M419.2 580.7h1M418.7 579.8h1M413.1 578.3h1M416.5 577.6h1M425.0 585.8h1M414.4 577.4h1M416.4 578.9h1M415.3 580.3h1M411.3 576.9h1M419.8 584.7h1M413.5 576.3h1M418.6 579.2h1" stroke="#f09090" stroke-width="0.9"/>
<path d="M416.9 561.2h1M424.1 554.8h1M421.5 555.3h1M422.9 561.7h1M420.1 556.5h1M423.3 560.3h1M418.7 558.6h1M416.7 559.9h1M416.4 562.1h1M418.2 556.0h1M415.6 561.9h1M419.4 558.0h1M426.0 556.2h1M417.7 558.5h1M416.4 557.1h1M415.5 556.2h1M425.7 559.4h1M420.0 558.2h1M423.2 560.2h1M420.3 557.1h1M418.2 554.2h1M419.8 558.0h1M418.6 554.9h1M422.5 556.3h1M426.0 558.8h1M417.1 561.4h1M420.0 554.8h1M416.8 554.5h1M419.7 562.2h1M429.4 559.9h1M414.4 556.2h1M415.4 557.4h1M423.6 554.2h1M420.8 557.8h1M424.1 561.4h1M419.0 559.4h1M416.7 558.1h1M423.6 554.5h1M421.3 558.5h1M415.0 556.2h1M427.2 557.1h1M415.2 556.6h1M421.4 557.6h1M418.2 556.9h1M415.6 558.5h1M422.9 554.8h1M422.7 556.8h1M414.0 560.3h1M418.1 555.0h1M426.4 559.7h1M430.1 559.0h1M424.3 559.9h1M417.3 555.9h1M421.9 559.3h1M418.2 561.7h1M427.6 560.2h1M421.7 560.3h1M415.2 561.3h1M423.4 556.5h1M415.1 559.4h1M420.3 560.3h1M419.7 558.0h1M425.5 559.5h1M420.0 556.6h1M420.4 554.3h1M416.4 561.4h1M427.6 557.4h1M421.6 559.3h1M425.1 556.9h1M427.6 556.8h1M423.4 556.7h1M425.7 557.4h1M422.9 556.9h1M427.3 561.0h1M415.3 560.8h1M416.5 561.0h1M417.1 561.1h1M421.2 558.3h1M413.9 559.9h1M424.8 556.6h1M425.6 562.1h1M425.7 555.2h1M418.8 562.5h1M427.1 560.4h1M426.0 562.2h1M419.7 554.3h1M416.7 559.3h1M416.7 556.2h1M413.3 557.2h1M421.3 559.3h1M416.3 554.7h1M429.2 559.7h1M424.0 561.3h1M417.8 559.7h1M419.2 560.7h1M417.2 556.5h1M416.2 560.5h1M420.2 555.4h1M418.3 559.1h1M418.6 559.3h1M427.5 559.8h1M426.7 556.7h1M421.6 554.2h1M413.1 560.8h1M428.0 560.5h1M421.1 558.9h1M413.7 559.4h1M423.1 561.7h1M423.9 557.2h1M416.0 560.6h1M419.1 560.7h1M426.9 557.4h1M425.9 557.5h1M425.3 560.8h1M417.6 555.9h1M425.4 555.7h1M422.6 559.0h1M418.1 561.7h1M419.8 558.6h1M424.2 557.6h1M425.8 558.9h1M420.9 559.6h1M417.1 554.7h1M421.9 562.1h1M426.1 556.4h1M415.5 562.0h1M422.6 558.9h1M426.4 561.4h1M427.4 556.6h1M422.4 554.1h1M415.1 559.9h1M419.6 562.3h1M423.7 560.3h1M414.4 558.7h1M425.0 562.3h1M428.6 556.4h1M421.0 562.8h1M415.0 560.6h1M417.7 560.4h1M427.2 561.3h1M412.3 560.2h1M426.7 560.3h1M427.9 561.4h1M423.2 561.8h1M421.8 555.0h1M416.9 562.4h1M417.9 558.2h1M428.1 560.2h1M426.5 558.2h1M421.1 554.7h1M412.8 555.2h1M412.1 555.8h1M411.7 550.2h1M415.1 556.9h1M414.2 556.2h1M411.6 553.0h1M412.6 552.0h1M414.0 555.1h1M414.7 554.5h1M412.5 554.3h1M412.0 555.0h1M412.9 555.2h1" stroke="#c0c0c0" stroke-width="0.9"/>
<path d="M437.9 591.9h1M441.7 593.2h1M436.9 591.4h1M435.0 591.8h1M442.7 593.8h1M439.6 593.2h1M437.1 591.2h1M429.0 589.1h1M448.2 596.1h1M434.4 591.9h1M444.4 594.4h1M435.2 591.1h1M433.8 591.7h1M433.6 591.0h1M443.8 594.9h1M438.5 593.2h1M429.9 589.7h1M436.7 591.4h1M441.8 593.3h1M433.9 591.6h1M432.2 590.4h1M435.7 591.4h1M430.7 589.6h1M445.7 595.0h1M438.4 592.9h1M429.2 589.1h1M429.9 589.2h1M440.5 592.8h1M432.9 591.5h1M441.9 594.3h1M439.1 593.0h1M441.8 594.3h1M440.5 593.6h1M443.5 595.0h1M433.2 590.6h1M439.8 593.1h1M427.4 588.9h1M432.6 590.9h1M433.3 590.9h1M440.1 592.8h1M448.2 596.5h1M433.2 590.4h1M442.8 594.0h1M430.1 588.7h1M436.8 592.1h1M444.3 594.4h1M441.9 593.9h1M444.3 594.3h1M445.5 595.8h1M430.2 589.0h1M436.4 592.0h1M436.5 591.6h1M445.9 595.7h1M432.4 591.5h1M435.0 592.3h1M437.5 591.7h1M444.6 595.3h1M438.3 592.1h1M439.3 593.1h1M445.2 595.0h1" stroke="#8cc6ee" stroke-width="0.9"/>
<path d="M361.9 628.3h1M355.2 625.9h1M354.3 615.3h1M354.3 611.9h1M355.8 615.6h1M364.8 631.3h1M362.8 629.7h1M359.9 627.1h1M363.6 629.4h1M355.5 607.5h1M354.9 624.8h1M355.3 624.7h1M356.4 610.2h1M351.7 622.5h1M357.4 625.8h1M347.0 618.1h1M353.1 618.2h1M364.7 631.4h1M358.2 616.3h1M364.2 627.7h1M349.4 618.0h1M349.2 621.7h1M352.9 616.0h1M355.0 607.8h1M355.3 612.8h1M362.6 626.8h1M357.3 611.6h1M359.2 624.5h1M349.1 621.2h1M351.0 608.6h1M354.5 623.6h1M355.3 623.8h1M351.7 614.3h1M347.9 614.3h1M351.1 612.3h1M348.1 616.5h1M351.4 612.6h1M355.7 609.7h1M354.3 611.4h1M351.4 623.3h1M351.9 612.6h1M354.1 617.8h1M350.9 610.7h1M365.5 630.3h1M360.9 629.8h1M357.4 625.1h1M354.5 623.2h1M350.1 611.1h1M349.1 610.8h1M351.7 610.8h1M353.2 625.3h1M345.7 617.7h1M350.5 622.7h1M349.4 620.1h1M348.4 619.8h1M355.2 611.5h1M350.1 616.5h1M351.8 623.5h1M354.1 617.3h1M346.5 618.9h1M351.4 611.8h1M360.9 628.9h1M355.1 613.4h1M360.4 625.1h1M351.7 618.4h1M359.9 629.5h1M362.8 628.2h1M353.4 608.5h1M354.6 609.1h1M356.7 626.1h1M353.7 623.3h1M346.0 615.4h1M355.1 610.7h1M352.7 611.9h1M356.7 626.8h1M347.1 619.1h1M351.3 608.2h1M353.5 622.5h1M360.4 629.8h1M364.8 628.2h1M345.2 616.3h1M355.8 615.3h1M359.0 627.3h1M345.9 616.8h1M356.0 610.9h1M357.5 615.3h1M354.8 621.1h1M355.3 617.1h1M349.5 618.4h1M354.3 620.9h1M352.4 616.5h1M361.7 628.2h1M350.4 613.7h1M356.9 613.0h1M357.8 623.8h1M354.9 616.9h1M353.5 625.0h1M352.0 616.0h1M351.9 607.7h1M356.9 621.2h1M358.2 618.3h1M351.3 624.5h1M350.2 613.1h1M349.3 623.5h1M353.5 618.0h1M349.8 613.0h1M352.5 615.7h1M363.6 630.4h1M351.2 617.0h1M351.4 617.7h1M357.1 628.1h1M352.0 620.5h1M350.8 617.7h1M358.5 621.4h1M353.7 611.5h1M356.0 624.1h1M350.6 612.4h1M346.5 620.5h1M348.2 621.9h1M348.0 611.6h1M363.2 626.6h1M354.7 617.0h1M351.2 613.6h1M359.8 629.4h1M357.8 615.0h1M357.6 613.3h1M352.2 619.1h1M357.6 622.8h1M361.6 627.8h1M346.3 618.1h1M361.1 629.1h1M352.4 623.6h1M361.5 627.5h1M347.7 614.6h1M353.5 609.7h1M365.7 629.2h1M349.1 622.2h1M350.7 609.5h1M354.7 608.8h1M364.2 630.2h1M349.7 618.9h1M352.6 623.1h1M348.6 622.4h1M349.3 610.9h1M357.6 625.4h1M346.2 614.8h1M351.9 620.0h1M354.2 616.1h1M352.3 608.0h1M354.1 612.2h1M354.0 624.2h1M362.6 628.3h1M353.1 615.4h1M352.2 611.4h1M350.9 618.4h1M354.9 608.1h1M355.1 622.8h1M358.2 626.2h1M356.6 620.1h1M347.0 614.9h1M356.9 616.3h1M355.2 616.5h1M357.6 610.5h1M358.7 624.2h1M350.7 622.2h1M352.3 623.4h1M355.1 607.7h1M355.7 615.2h1M356.7 617.0h1M355.2 621.1h1M354.8 624.3h1M353.8 613.7h1M347.3 618.0h1M348.7 611.5h1M348.5 615.5h1M350.8 618.4h1M354.9 607.9h1M347.9 610.5h1M347.8 618.8h1M347.8 614.4h1M346.6 615.8h1M355.1 622.0h1M355.9 624.1h1M349.8 611.5h1M357.9 608.5h1M357.1 617.3h1M354.4 618.0h1M353.1 613.7h1M357.9 611.0h1M352.8 607.7h1M347.8 621.9h1M345.3 617.0h1M358.4 620.9h1M346.9 617.1h1M360.2 628.9h1M349.7 609.6h1M357.2 612.1h1M355.4 626.8h1M357.0 611.7h1M359.3 628.2h1M353.0 610.0h1M351.7 618.2h1M353.0 614.9h1M356.9 620.0h1M347.9 617.9h1M351.8 623.9h1M361.3 627.4h1M353.5 624.9h1M352.0 607.6h1M352.2 609.7h1M350.3 619.1h1M357.2 611.3h1M347.0 613.3h1M347.3 618.3h1M356.0 612.6h1M352.4 618.9h1M357.4 614.2h1M355.0 613.2h1M363.7 629.8h1M362.4 630.4h1M362.3 627.8h1M350.2 615.8h1M349.5 610.1h1M362.5 628.5h1M347.1 617.4h1M345.0 616.3h1M352.4 616.0h1M353.0 613.5h1M357.5 609.9h1M357.9 618.9h1M351.1 622.3h1M360.8 625.0h1M357.6 618.1h1M354.2 625.1h1M346.0 620.7h1M355.5 623.9h1M358.1 627.0h1M354.3 623.7h1M350.4 608.7h1M362.6 630.4h1M350.6 620.8h1M350.4 618.1h1M355.5 621.1h1M346.2 616.5h1M349.0 620.7h1M356.4 623.8h1M346.1 619.8h1M356.5 618.7h1M355.4 608.3h1M351.0 617.5h1M350.9 619.9h1M352.8 613.3h1M356.1 620.7h1M353.9 619.2h1M353.8 608.7h1M354.5 609.9h1M349.9 615.9h1M349.7 617.1h1M350.6 616.4h1M358.0 614.0h1M356.4 626.2h1M350.9 624.6h1M361.7 629.7h1M352.7 609.7h1M349.0 618.6h1M349.8 614.5h1M358.7 627.4h1M348.8 619.8h1M352.4 611.7h1M351.5 621.9h1M356.0 612.2h1M356.0 618.4h1M356.9 617.7h1M350.2 622.8h1M353.1 608.3h1M352.8 621.0h1M352.4 609.7h1M352.9 617.4h1M355.7 617.6h1M354.1 619.1h1M362.1 626.2h1M355.5 620.7h1M352.1 617.3h1M356.4 625.6h1M356.8 622.2h1M351.6 619.7h1M364.3 629.5h1M349.4 620.2h1M363.0 628.1h1M347.8 619.2h1M346.4 614.2h1M354.3 616.6h1M351.9 618.7h1M356.0 610.4h1M349.8 614.9h1M354.7 626.1h1M354.5 619.0h1M354.5 614.1h1M355.8 620.4h1M365.5 630.4h1M395.8 622.9h1M396.2 610.3h1M392.3 619.3h1M385.7 624.7h1M386.8 629.5h1M389.0 612.3h1M381.0 624.5h1M392.1 623.3h1M384.7 629.9h1M390.5 614.3h1M389.0 617.9h1M392.4 612.3h1M382.9 621.7h1M390.6 619.3h1M390.9 623.8h1M387.9 622.9h1M386.8 629.0h1M389.8 614.6h1M387.8 628.4h1M395.2 620.6h1M384.7 614.8h1M386.1 625.7h1M392.5 620.5h1M386.9 618.7h1M381.6 617.7h1M393.9 609.5h1M388.4 615.8h1M390.4 615.1h1M391.9 610.1h1M381.5 623.3h1M391.3 627.3h1M388.7 627.0h1M385.7 612.2h1M396.5 619.0h1M387.9 617.3h1M378.8 624.2h1M398.0 613.3h1M385.7 618.9h1M392.7 612.5h1M386.3 627.7h1M386.0 615.2h1M397.7 615.1h1M392.2 621.7h1M396.2 615.9h1M397.9 615.5h1M396.3 612.4h1M388.7 629.9h1M388.3 613.9h1M388.9 612.1h1M380.1 622.5h1M385.5 627.3h1M386.5 619.1h1M392.7 612.9h1M389.1 613.5h1M387.4 627.5h1M396.3 610.0h1M387.9 617.4h1M386.8 619.7h1M393.6 609.2h1M391.6 610.4h1M393.4 626.8h1M384.9 623.0h1M389.2 620.9h1M379.7 623.7h1M393.1 620.1h1M387.1 616.7h1M383.1 618.9h1M386.8 616.1h1M387.1 627.8h1M391.0 616.9h1M396.2 616.7h1M385.8 620.8h1M392.4 612.0h1M379.8 626.5h1M384.0 630.4h1M396.6 621.2h1M378.8 622.4h1M391.0 625.7h1M386.5 629.7h1M389.7 630.2h1M398.3 611.1h1M386.6 617.5h1M388.1 614.3h1M384.9 630.6h1M395.7 613.2h1M386.3 614.1h1M392.5 624.9h1M391.9 618.2h1M391.7 622.5h1M383.0 616.2h1M385.5 618.4h1M387.7 626.9h1M390.1 629.6h1M391.0 616.5h1M388.5 624.7h1M381.8 625.3h1M387.0 613.2h1M393.9 611.3h1M386.8 611.2h1M384.9 618.5h1M392.9 609.9h1M388.4 611.9h1M387.9 626.7h1M383.0 628.0h1M389.3 623.3h1M400.3 613.1h1M389.6 614.4h1M395.8 619.5h1M381.6 626.1h1M382.3 619.4h1M390.1 615.3h1M385.5 623.0h1M399.5 612.5h1M392.5 610.1h1M384.4 614.3h1M389.9 613.8h1M380.2 627.8h1M387.9 620.9h1M388.5 617.3h1M389.7 622.5h1M385.5 614.3h1M386.7 613.4h1M392.5 621.7h1M394.9 623.7h1M392.4 614.3h1M387.8 611.5h1M393.3 620.6h1M385.5 621.5h1M395.7 620.5h1M391.6 610.9h1M383.3 621.7h1M398.0 615.5h1M389.7 616.6h1M380.9 615.7h1M393.7 617.6h1M388.5 621.1h1M391.8 623.2h1M392.8 622.0h1M390.3 611.0h1M392.6 622.4h1M399.2 610.7h1M383.8 626.4h1M383.7 630.1h1M390.8 628.3h1M389.8 624.1h1M381.2 626.2h1M392.9 626.1h1M393.3 612.3h1M383.7 621.7h1M386.7 620.3h1M395.4 616.3h1M390.7 617.8h1M391.0 618.7h1M393.2 626.4h1M387.8 620.4h1M393.5 613.6h1M392.5 611.6h1M385.2 619.2h1M389.5 618.0h1M397.9 615.3h1M383.1 615.5h1M394.5 622.1h1M392.0 628.7h1M392.1 615.5h1M381.2 627.7h1M395.3 615.8h1M380.5 626.6h1M384.6 626.5h1M381.5 616.7h1M383.4 623.3h1M396.0 612.0h1M387.2 625.6h1M394.4 615.8h1M388.8 613.8h1M381.0 628.7h1M391.2 620.9h1M387.7 623.3h1M400.3 612.1h1M386.4 627.1h1M398.0 611.1h1M384.4 631.5h1M399.9 611.0h1M387.6 628.5h1M381.7 622.5h1M397.0 610.6h1M387.8 631.1h1M382.0 615.2h1M399.3 611.8h1M384.2 616.3h1M388.4 627.0h1M390.0 627.2h1M389.1 627.9h1M386.3 622.9h1M386.8 618.5h1M382.4 628.7h1M386.2 630.5h1M393.0 611.5h1M391.8 615.2h1M397.4 615.6h1M380.1 616.9h1M383.6 618.7h1M381.8 625.3h1M387.1 623.8h1M387.7 620.5h1M393.2 625.9h1M381.0 622.4h1M380.3 621.1h1M384.3 629.7h1M387.4 630.1h1M380.3 621.1h1M391.8 618.5h1M384.9 627.9h1M380.5 628.2h1M392.8 618.4h1M388.9 614.7h1M384.3 621.0h1M394.2 611.0h1M391.7 626.2h1M388.7 610.2h1M382.3 628.7h1M386.2 613.7h1M384.0 626.0h1M387.7 627.9h1M384.8 619.2h1M387.2 624.9h1M389.0 614.7h1M384.6 621.8h1M379.3 621.1h1M392.5 615.8h1M389.5 623.8h1M386.7 621.5h1M391.7 621.3h1M388.4 614.0h1M383.2 617.2h1M381.1 623.4h1M383.9 631.1h1M385.8 626.4h1M384.3 614.3h1M388.2 621.3h1M400.1 613.0h1M397.6 610.7h1M399.4 613.3h1M387.3 619.5h1M397.4 619.3h1M392.4 622.9h1M381.2 622.5h1M394.4 618.6h1M387.8 630.9h1M388.8 614.6h1M389.3 626.1h1M397.5 611.9h1M388.8 610.3h1M385.3 619.6h1M396.2 614.0h1M395.4 612.3h1M396.6 611.1h1M383.2 623.0h1M388.3 629.2h1M394.2 618.4h1M390.2 613.4h1M383.9 617.4h1M381.4 618.3h1M383.1 620.1h1M392.0 614.9h1M391.4 624.4h1M387.0 622.0h1M382.2 617.9h1M386.7 611.7h1M390.2 628.1h1M391.0 619.9h1M394.6 621.1h1M385.8 626.5h1M380.4 622.3h1M382.0 620.7h1M382.4 621.1h1M386.2 624.7h1M391.9 618.4h1M394.7 623.6h1M378.8 622.5h1M391.2 622.3h1M366.4 609.8h1M365.0 615.5h1M361.5 631.4h1M363.7 620.5h1M363.2 628.3h1M359.7 631.4h1M361.3 614.6h1M359.2 627.1h1M358.4 615.3h1M357.3 609.8h1M366.8 621.7h1M357.1 619.0h1M366.1 631.4h1M382.3 622.5h1M375.5 609.5h1M371.1 629.6h1M379.6 625.3h1M376.9 630.6h1M372.4 612.7h1M380.1 613.5h1M379.4 623.9h1M382.7 624.9h1M376.4 631.8h1M368.2 623.3h1M365.3 616.8h1M359.2 630.7h1M363.5 628.4h1M358.1 620.2h1M362.5 617.3h1M377.0 630.6h1M358.6 625.3h1M380.2 628.5h1M378.2 626.8h1M369.9 609.7h1M362.2 627.3h1M363.9 615.3h1M381.0 619.3h1M376.4 624.6h1M368.5 626.0h1M364.2 618.7h1M377.0 623.9h1M372.1 610.9h1M374.6 626.0h1M360.0 612.8h1M380.3 619.4h1M377.8 610.1h1M380.3 622.5h1M362.9 624.8h1M382.8 609.3h1M365.5 628.4h1M379.9 612.8h1M381.9 610.9h1M366.2 627.2h1M360.7 616.7h1M373.8 611.3h1M358.0 626.7h1M373.4 625.2h1M373.7 610.0h1M360.6 630.1h1M382.2 624.9h1M363.1 626.3h1M360.6 612.4h1M380.8 616.5h1M372.0 628.6h1M377.0 623.9h1M379.9 623.8h1M378.6 624.4h1M362.4 622.8h1M376.3 624.7h1M368.1 609.2h1M372.2 627.6h1M380.0 622.7h1M362.0 627.7h1M357.7 618.8h1M364.5 618.0h1M382.9 610.2h1M376.1 625.6h1M358.5 613.3h1M364.4 612.7h1M367.1 627.5h1M382.5 621.8h1M365.0 621.6h1M364.9 620.2h1M358.3 623.6h1M380.4 624.2h1M378.9 618.6h1M381.8 614.6h1M364.9 619.8h1M381.7 609.0h1M376.2 612.2h1M371.0 625.0h1M370.4 628.0h1M377.8 609.2h1M363.2 625.8h1M358.2 612.8h1M365.3 620.7h1M373.8 623.6h1M366.7 628.6h1M362.9 626.7h1M363.1 626.4h1M358.7 615.7h1M362.8 611.7h1M357.4 622.3h1M370.0 624.7h1M366.4 609.3h1M379.3 626.1h1M378.8 618.7h1M363.7 630.4h1M359.1 621.4h1M360.1 615.7h1M375.0 610.3h1M372.2 611.0h1M370.1 610.9h1M373.0 610.8h1M372.6 611.9h1M373.8 611.3h1M371.8 610.7h1M372.9 609.0h1M372.6 612.0h1M372.5 610.5h1M371.2 610.9h1M373.5 610.1h1M374.1 610.1h1M374.0 612.0h1M371.2 611.0h1M382.4 620.3h1M383.2 621.1h1M385.9 619.0h1M383.7 621.4h1M385.9 620.0h1M379.1 621.3h1M383.6 619.4h1M386.6 620.4h1M386.6 619.5h1M386.5 617.7h1M388.6 622.5h1M384.5 620.2h1M387.1 618.2h1M386.7 621.1h1M383.7 620.6h1M382.2 617.3h1M384.3 618.9h1M387.7 619.6h1M387.1 623.2h1M388.5 618.6h1M387.5 619.7h1M389.1 621.6h1M382.1 614.2h1M388.0 619.8h1M388.4 622.6h1M386.8 621.1h1M383.9 620.5h1M383.6 622.9h1M386.8 622.4h1M385.3 621.1h1M386.4 619.3h1M387.8 620.1h1M382.4 619.7h1M386.6 619.6h1M381.6 618.6h1M385.7 622.7h1M383.3 624.6h1M386.3 620.4h1M384.9 619.1h1M384.0 618.5h1M390.4 655.4h1M366.1 638.7h1M373.1 638.5h1M368.6 647.9h1M378.6 652.2h1M404.8 645.0h1M389.2 644.1h1M376.1 663.9h1M366.3 638.3h1M377.5 646.0h1M367.6 646.1h1M368.7 646.9h1M393.3 643.6h1M386.7 661.3h1M383.2 639.9h1M370.0 640.7h1M371.9 657.8h1M392.7 650.1h1M385.3 652.8h1M380.8 664.2h1M361.0 649.2h1M380.2 663.3h1M369.1 638.8h1M374.8 652.6h1M375.1 655.7h1M380.0 646.0h1M378.5 655.3h1M386.2 638.4h1M399.9 650.0h1M361.3 639.3h1M395.9 651.9h1M390.2 648.1h1M371.5 643.3h1M382.9 650.4h1M385.1 650.6h1M394.9 639.5h1M402.8 642.7h1M378.3 644.7h1M364.3 655.5h1M386.3 662.2h1M369.6 645.3h1M382.9 656.2h1M372.3 639.3h1M367.6 640.1h1M380.5 641.1h1M399.9 641.3h1M388.4 645.7h1M372.4 642.5h1M379.0 659.5h1M384.6 651.0h1M368.6 646.2h1M390.3 659.8h1M384.7 646.7h1M369.2 656.8h1M390.4 641.8h1M374.2 660.4h1M388.5 642.9h1M404.6 646.8h1M389.9 650.5h1M364.4 647.0h1M365.0 657.5h1M367.7 649.7h1M386.4 649.1h1M363.9 641.7h1M381.9 655.5h1M395.8 651.4h1M402.7 647.8h1M392.8 647.6h1M385.6 647.6h1M372.4 648.9h1M377.8 660.3h1M379.6 641.2h1M379.1 662.4h1M368.3 637.8h1M386.1 661.1h1M403.4 642.2h1M367.5 648.1h1M373.1 651.2h1M376.2 641.0h1M374.7 650.0h1M382.1 637.9h1M388.7 659.5h1M394.8 648.8h1M367.0 654.2h1M391.4 642.9h1M393.4 640.5h1M395.6 648.2h1M358.2 646.3h1M396.5 648.2h1M383.4 650.2h1M360.6 650.7h1M380.1 658.2h1M369.7 637.8h1M358.5 642.5h1M398.3 646.3h1M373.0 654.2h1M358.9 648.6h1M387.6 656.4h1M401.0 642.4h1M380.7 643.9h1M358.7 641.7h1M381.7 657.7h1M377.6 649.2h1M391.1 654.3h1M372.7 643.1h1M395.4 651.4h1M368.8 648.1h1M375.3 649.5h1M367.5 657.0h1M382.5 644.1h1M396.4 643.7h1M385.9 649.2h1M360.6 652.7h1M397.4 644.9h1M375.9 659.9h1M378.7 643.3h1M388.3 660.2h1M372.8 646.8h1M375.6 648.0h1M381.6 639.5h1M385.8 654.0h1M375.0 644.5h1M361.3 645.5h1M366.2 654.2h1M369.4 649.4h1M380.6 648.3h1M382.2 639.4h1M376.2 662.6h1M401.1 642.3h1M367.5 646.5h1M385.7 645.0h1M376.6 661.4h1M391.8 640.3h1M376.2 658.5h1M390.6 648.5h1M386.3 643.2h1M391.6 649.3h1M394.9 640.7h1M369.0 656.3h1M379.5 645.5h1M358.0 642.8h1M388.8 648.3h1M377.6 647.3h1M381.9 660.2h1M383.5 660.7h1M406.2 646.4h1M387.2 645.4h1M394.0 644.2h1M365.5 656.2h1M361.9 650.9h1M403.1 649.6h1M367.9 655.9h1M398.0 650.4h1M380.7 661.5h1M403.6 648.0h1M368.9 652.4h1M386.9 645.2h1M386.1 662.8h1M369.3 649.8h1M373.0 660.7h1M370.9 647.4h1M369.9 658.5h1M361.7 639.7h1M370.1 644.5h1M398.6 642.4h1M368.5 660.3h1M400.7 644.0h1M369.2 656.2h1M365.9 653.0h1M382.7 663.5h1M392.8 644.8h1M369.4 652.2h1M380.5 663.9h1M370.8 646.0h1M374.0 658.7h1M392.8 654.0h1M366.7 655.0h1M385.7 660.1h1M375.2 646.0h1M396.9 649.8h1M371.7 646.0h1M388.0 641.3h1M376.3 660.3h1M366.9 655.0h1M387.3 643.9h1M391.3 641.6h1M378.4 646.7h1M371.1 645.0h1M385.9 652.5h1M367.4 637.8h1M383.8 643.4h1M375.7 663.5h1M398.2 647.5h1M384.4 645.2h1M400.1 648.8h1M377.3 656.4h1M401.9 641.9h1M387.8 648.5h1M380.9 643.9h1M369.6 660.2h1M393.8 653.1h1M370.6 637.3h1M406.6 647.4h1M391.3 649.5h1M399.5 649.3h1M397.2 648.1h1M364.1 654.3h1M381.7 642.3h1M365.2 648.5h1M391.8 642.5h1M373.2 648.1h1M381.3 655.6h1M384.1 664.2h1M366.6 658.7h1M366.5 657.4h1M373.2 650.0h1M392.4 648.5h1M376.3 641.2h1M389.9 650.7h1M373.8 637.4h1M378.1 647.7h1M379.7 656.0h1M369.5 643.0h1M370.2 642.3h1M377.3 652.5h1M403.4 642.5h1M371.8 662.9h1M367.2 652.6h1M397.0 651.5h1M370.4 655.1h1M366.9 639.1h1M373.2 657.4h1M371.3 660.8h1M360.0 643.5h1M405.6 647.2h1M372.1 640.3h1M368.7 647.0h1M364.4 653.7h1M378.3 639.1h1M393.3 649.3h1M377.5 662.0h1M373.0 660.2h1M407.6 647.0h1M386.4 655.5h1M400.2 645.2h1M392.9 649.3h1M378.0 652.7h1M368.3 653.4h1M406.8 648.8h1M394.4 647.3h1M378.1 638.8h1M407.1 646.9h1M395.7 652.2h1M380.4 647.2h1M385.4 645.9h1M374.8 656.5h1M366.7 646.0h1M380.7 640.1h1M375.5 644.3h1M369.3 651.0h1M361.0 654.4h1M386.8 652.2h1M406.9 648.3h1M390.8 658.4h1M381.6 657.4h1M388.3 654.6h1M376.1 638.9h1M373.0 663.7h1M376.5 653.2h1M395.6 647.5h1M365.7 641.4h1M385.2 645.2h1M377.3 662.3h1M385.9 651.6h1M370.1 643.0h1M403.7 649.3h1M401.1 646.4h1M377.4 647.3h1M378.0 665.1h1M366.1 639.8h1M384.8 659.6h1M366.4 646.5h1M397.2 648.7h1M384.0 644.6h1M394.9 645.0h1M386.7 651.1h1M370.8 642.0h1M390.6 656.7h1M406.3 648.0h1M374.4 654.3h1M383.9 664.9h1M374.7 646.5h1M369.3 641.9h1M382.5 656.6h1M380.7 651.2h1M374.7 647.3h1M404.0 647.9h1M386.1 639.1h1M383.7 659.9h1M370.9 646.8h1M390.4 654.4h1M403.0 644.8h1M379.1 642.1h1M369.2 637.8h1M405.0 644.9h1M360.1 640.8h1M391.5 657.3h1M381.4 650.4h1M361.9 639.7h1M403.5 646.8h1M364.4 654.3h1M360.2 650.2h1M381.9 639.3h1M370.0 639.5h1M379.1 641.4h1M382.5 659.7h1M373.2 658.1h1M402.0 647.9h1M387.4 657.2h1M374.9 650.3h1M389.1 640.9h1M369.3 657.9h1M360.3 643.8h1M361.8 648.9h1M405.1 647.5h1M368.2 641.1h1M365.0 646.5h1M381.1 639.6h1M388.8 640.9h1M392.8 643.6h1M387.6 657.0h1M390.0 646.3h1M377.4 649.6h1M384.7 660.4h1M365.2 646.3h1M388.5 651.6h1M370.1 647.7h1M383.2 649.7h1M382.4 656.5h1M398.2 640.9h1M384.9 647.5h1M363.8 645.4h1M379.9 639.6h1M385.1 641.5h1M379.2 640.2h1M387.7 645.4h1M372.7 643.2h1M370.2 658.8h1M401.0 643.3h1M363.3 653.2h1M372.9 640.7h1M376.5 663.3h1M383.8 654.6h1M384.9 659.7h1M384.5 656.9h1M360.0 641.3h1M398.5 646.0h1M384.3 647.1h1M359.3 649.2h1M389.2 642.3h1M370.2 653.2h1M387.1 654.8h1M379.8 665.2h1M365.3 638.5h1M370.5 649.4h1M389.3 654.6h1M362.1 652.3h1M374.7 642.1h1M384.3 647.3h1M403.9 648.4h1M397.5 642.5h1M390.4 659.2h1M369.1 647.4h1M366.6 651.3h1M374.2 661.3h1M400.4 644.9h1M384.1 648.2h1M375.1 659.5h1M363.1 643.4h1M393.3 651.5h1M380.5 643.8h1M375.0 651.6h1M395.3 652.6h1M391.4 654.1h1M386.0 649.5h1M380.2 663.2h1M400.8 641.9h1M378.2 638.5h1M358.7 650.0h1M399.0 643.0h1M399.4 644.7h1M369.7 645.9h1M398.1 646.4h1M395.2 647.7h1M390.7 653.6h1M376.6 654.9h1M402.6 642.9h1M384.5 647.9h1M377.1 645.4h1M364.7 656.7h1M373.1 662.4h1M381.7 650.6h1M384.5 656.7h1M380.2 638.5h1M392.1 655.0h1M362.9 638.2h1M382.0 663.5h1M386.3 660.8h1M374.3 653.0h1M397.9 645.5h1M377.4 663.5h1M369.3 641.5h1M379.2 646.2h1M392.5 648.6h1M390.5 642.9h1M371.8 651.5h1M364.1 645.6h1M379.3 649.1h1M358.1 645.6h1M358.8 648.1h1M373.5 648.9h1M360.8 651.1h1M403.3 642.5h1M396.8 650.4h1M360.9 645.6h1M399.7 646.2h1M381.1 664.3h1M394.4 646.1h1M365.5 648.0h1M383.7 642.7h1M359.7 649.9h1M398.9 648.8h1M368.9 645.9h1M365.1 654.4h1M398.1 649.8h1M392.1 643.2h1M366.6 648.6h1M374.1 640.6h1M362.6 647.3h1M367.4 651.9h1M367.7 638.9h1M381.1 640.2h1M387.7 650.5h1M383.5 657.7h1M375.4 647.3h1M374.6 640.0h1M367.0 644.0h1M378.8 637.8h1M388.0 646.9h1M378.5 656.0h1M388.2 657.3h1M360.9 647.0h1M378.6 651.5h1M367.1 657.1h1M396.7 644.4h1M373.1 648.9h1M377.4 661.3h1M389.6 644.3h1M369.5 639.5h1M385.6 638.3h1M375.3 642.0h1M374.5 644.9h1M395.9 651.1h1M374.1 640.4h1M386.1 647.1h1M395.3 641.2h1M379.6 652.3h1M387.8 646.0h1M373.1 659.9h1M392.1 652.9h1M384.5 644.2h1M382.8 638.4h1M386.0 647.6h1M377.0 639.7h1M370.5 637.8h1M386.9 650.1h1M375.2 656.9h1M376.9 660.4h1M376.2 641.9h1M406.2 645.5h1M362.2 647.2h1M366.6 640.6h1M402.6 647.8h1M376.9 660.8h1M367.0 646.7h1M369.6 640.1h1M360.0 642.5h1M370.6 661.6h1M373.1 651.1h1M393.2 644.9h1M381.2 646.6h1M368.9 658.8h1M386.2 647.1h1M389.9 640.6h1M387.6 660.4h1M369.9 658.5h1M407.7 646.6h1M373.9 642.1h1M374.5 659.0h1M385.9 642.6h1M368.3 642.0h1M389.6 640.5h1M369.1 648.2h1M378.4 660.2h1M367.6 644.1h1M376.5 654.3h1M369.1 640.1h1M367.0 641.3h1M385.5 644.4h1M366.5 642.4h1M401.7 641.5h1M380.2 649.9h1M376.4 650.2h1M370.1 651.7h1M363.3 647.8h1M379.2 660.7h1M382.7 657.3h1M368.4 658.6h1M386.0 662.2h1M402.7 648.2h1M387.1 657.2h1M383.7 660.7h1M387.9 655.7h1M359.1 650.0h1M382.8 643.4h1M377.3 660.6h1M404.0 645.1h1M359.0 645.8h1M370.1 649.1h1M378.2 639.1h1M375.3 661.0h1M385.7 661.9h1M372.0 655.8h1M364.0 651.7h1M381.9 653.3h1M390.0 651.8h1M361.8 649.5h1M387.3 662.7h1M390.2 644.3h1M368.9 644.0h1M372.2 659.0h1M394.3 642.7h1M381.2 655.2h1M371.3 654.6h1M362.6 640.3h1M393.4 650.7h1M376.6 664.8h1M373.2 661.1h1M403.0 649.2h1M364.7 652.8h1M363.1 655.0h1M388.3 644.8h1M383.9 654.1h1M365.0 645.6h1M374.0 642.7h1M393.8 648.5h1M375.2 655.7h1M370.5 644.8h1M391.0 640.3h1M389.2 659.2h1M401.9 648.5h1M390.0 649.5h1M388.7 648.3h1M378.4 659.9h1M383.2 643.7h1M374.0 642.2h1M394.4 647.1h1M361.1 648.6h1M398.5 648.3h1M384.2 657.3h1M368.9 644.4h1M382.2 656.6h1M364.4 650.1h1M360.7 652.0h1M392.0 642.3h1M373.8 654.2h1M361.9 647.1h1M378.4 659.6h1M378.0 653.2h1M380.9 646.1h1M379.3 664.9h1M383.4 662.0h1M374.0 649.9h1M395.5 649.3h1M405.2 647.7h1M361.4 646.3h1M369.2 651.8h1M384.2 644.3h1M392.7 639.8h1M384.6 660.8h1M385.8 663.3h1M374.0 651.4h1M370.4 643.1h1M370.0 655.5h1M368.4 657.3h1M406.5 645.5h1M382.9 646.2h1M384.7 655.4h1M390.5 655.3h1M380.3 648.2h1M360.9 639.9h1M368.9 653.5h1M389.0 648.2h1M389.6 648.4h1M359.1 642.2h1M380.3 654.7h1M360.2 643.6h1M365.2 650.1h1M384.4 639.3h1M378.0 656.2h1M365.8 649.8h1M378.7 645.1h1M378.9 652.3h1M382.8 663.3h1M388.6 656.6h1M384.2 648.0h1M396.9 651.2h1M375.2 661.3h1M391.7 638.8h1M384.4 653.8h1M360.3 649.9h1M399.5 650.1h1M379.9 662.3h1M391.6 656.7h1M396.8 642.4h1M366.3 658.7h1M367.2 651.5h1M363.0 639.4h1M373.4 649.9h1M375.0 645.0h1M383.2 663.6h1M375.0 646.9h1M372.9 638.1h1M368.6 644.0h1M366.8 646.3h1M394.0 647.1h1M398.0 649.6h1M376.2 649.6h1M368.8 644.3h1M382.7 638.4h1M373.9 643.3h1M370.2 639.7h1M391.8 656.9h1M370.2 646.5h1M381.9 639.8h1M382.7 656.3h1M386.6 653.0h1M387.7 649.6h1M399.2 647.3h1M369.7 644.2h1M373.1 646.8h1M373.6 649.4h1M387.7 647.2h1M375.3 656.4h1M392.3 657.2h1M395.4 648.3h1M369.3 653.7h1M375.3 639.6h1M405.7 648.8h1M361.5 649.4h1M364.4 640.8h1M367.9 655.5h1M382.1 648.0h1M381.1 663.1h1M368.0 644.0h1M364.1 654.5h1M392.3 650.0h1M360.2 647.7h1M395.2 648.1h1M387.0 646.1h1M362.8 651.8h1M389.7 642.6h1M370.8 646.8h1M389.0 659.4h1M359.1 644.5h1M379.5 662.6h1M385.3 649.2h1M385.2 648.2h1M369.7 642.8h1M368.9 652.8h1M388.1 641.6h1M367.3 639.6h1M384.4 641.4h1M394.6 641.6h1M387.2 647.5h1M372.0 647.0h1M405.9 648.4h1M380.2 641.0h1M402.0 646.2h1M371.1 644.6h1M400.5 641.1h1M376.9 654.8h1M372.0 655.9h1M402.4 642.0h1M400.4 642.2h1M397.8 643.4h1M387.2 650.8h1M367.0 646.6h1M405.7 648.9h1M373.9 656.0h1M390.7 648.9h1M373.1 656.3h1M364.8 644.9h1M404.7 646.2h1M384.4 664.4h1M369.1 638.7h1M389.5 655.9h1M386.5 656.8h1M368.9 641.3h1M386.0 639.1h1M361.7 641.1h1M369.7 642.7h1M375.1 639.4h1M359.9 647.3h1M389.2 659.3h1M381.2 647.1h1M367.1 658.6h1M363.1 648.2h1M377.8 646.4h1M388.4 648.2h1M362.8 647.3h1M361.6 652.8h1M362.6 644.6h1M380.5 638.9h1M366.7 648.4h1M374.2 653.0h1M381.0 655.4h1M366.6 653.2h1M366.3 641.0h1M361.4 641.9h1M365.2 653.1h1M370.0 653.1h1M372.8 654.2h1M379.3 661.0h1M399.5 647.9h1M386.8 647.4h1M363.7 656.8h1M371.5 643.3h1M398.7 642.9h1M370.9 647.2h1M386.0 639.3h1M365.1 657.9h1M382.2 655.5h1M375.3 660.8h1M371.6 656.2h1M394.1 646.2h1M375.9 653.3h1M372.8 662.9h1M395.6 643.4h1M359.5 642.6h1M383.0 655.2h1M381.9 646.2h1M378.8 644.4h1M368.2 656.7h1M366.7 650.4h1M396.7 645.6h1M366.0 657.8h1M393.6 644.6h1M399.5 645.8h1M365.7 652.2h1M390.7 658.0h1M362.4 644.9h1M390.5 657.6h1M375.7 647.3h1M389.3 648.7h1M392.0 641.1h1M382.7 645.3h1M380.6 657.0h1M371.0 641.1h1M398.0 643.4h1M382.2 645.5h1M367.5 655.0h1M384.9 662.0h1M388.1 655.1h1M375.0 658.5h1M360.0 640.0h1M365.0 643.3h1M361.0 639.6h1M384.5 662.4h1M394.6 651.3h1M388.1 654.3h1M378.7 639.7h1M370.5 650.9h1M360.4 649.1h1M378.5 642.6h1M394.1 639.7h1M384.5 656.6h1M373.6 658.1h1M390.9 657.7h1M401.9 643.3h1M398.1 648.7h1M373.7 656.1h1M370.1 659.8h1M388.8 660.5h1M380.1 647.3h1M368.1 641.4h1M380.8 658.5h1M370.0 642.9h1M378.6 638.6h1M372.3 659.1h1M377.9 651.8h1M378.2 646.0h1M389.4 653.5h1M379.1 648.6h1M379.0 650.4h1M379.8 657.8h1M372.9 640.7h1M392.9 656.0h1M366.8 652.2h1M400.4 643.5h1M386.4 643.0h1M398.9 641.7h1M368.5 652.0h1M380.9 650.5h1M377.9 655.6h1M377.4 660.1h1M363.2 653.2h1M365.5 657.6h1M388.5 651.9h1M385.7 647.2h1M404.6 647.5h1M365.7 655.3h1M361.6 647.9h1M384.4 643.0h1M383.2 657.9h1M382.0 649.9h1M397.9 643.8h1M383.5 641.2h1M402.4 642.1h1M366.3 658.2h1M366.4 656.2h1M379.2 641.0h1M381.9 638.5h1M365.2 649.9h1M391.6 658.0h1M364.4 650.4h1M375.6 640.5h1M370.1 658.7h1M362.6 643.0h1M369.3 637.7h1M384.2 644.1h1M384.7 647.7h1M381.7 662.7h1M378.2 646.7h1M393.9 649.7h1M370.6 653.6h1M403.3 648.1h1M377.9 662.5h1M369.9 641.9h1M379.4 663.2h1M383.5 645.5h1M372.5 650.3h1M361.3 646.7h1M375.1 663.5h1M368.7 640.4h1M374.5 650.2h1M404.0 645.2h1M373.9 644.2h1M367.8 637.7h1M390.6 645.4h1M375.0 656.7h1M365.6 641.4h1M389.4 649.5h1M407.0 648.0h1M374.9 641.9h1M379.8 640.5h1M381.2 640.3h1M366.5 639.1h1M383.9 657.2h1M369.2 639.4h1M362.9 644.2h1M393.8 644.6h1M375.4 643.2h1M362.8 640.2h1M383.0 641.1h1M382.9 664.7h1M378.7 653.7h1M369.2 640.9h1M389.9 654.4h1M363.3 642.4h1M388.1 645.0h1M393.1 654.6h1M372.4 662.0h1M396.2 640.8h1M379.5 654.4h1M404.6 645.8h1M362.2 647.0h1M370.7 648.3h1M376.0 644.6h1M377.7 640.5h1M405.7 643.7h1M375.4 652.5h1M371.2 655.1h1M401.3 646.2h1M363.2 647.9h1M387.1 658.4h1M389.3 656.3h1M360.1 651.1h1M362.8 646.0h1M359.9 648.0h1M371.4 643.0h1M358.5 646.2h1M369.9 650.6h1M397.6 647.2h1M387.4 641.3h1M400.7 641.5h1M376.8 644.7h1M382.7 648.0h1M404.1 648.7h1M382.2 639.0h1M359.4 644.6h1M387.0 645.6h1M407.2 647.4h1M374.1 662.0h1M375.2 643.5h1M376.4 660.3h1M383.1 650.4h1M371.7 658.1h1M388.1 642.0h1M385.2 663.4h1M366.7 656.9h1M373.4 658.6h1M383.4 644.5h1M388.0 639.5h1M364.3 647.5h1M367.3 655.4h1M382.5 654.8h1M399.4 642.6h1M387.1 660.8h1M375.1 647.7h1M369.5 646.7h1M404.4 643.5h1M373.8 654.8h1M370.3 661.4h1M386.7 653.9h1M369.6 643.1h1M382.5 642.6h1M393.7 654.8h1M374.8 657.6h1M368.2 659.5h1M362.1 640.4h1M383.6 641.9h1M405.0 647.6h1M389.0 656.5h1M381.1 652.2h1M376.7 637.5h1M372.3 641.2h1M371.3 660.1h1M389.4 653.4h1M361.2 644.2h1M397.5 645.8h1M368.7 651.9h1M392.4 651.1h1M364.7 650.6h1M373.2 647.0h1M394.4 641.6h1M383.2 648.8h1M366.6 658.6h1M360.4 651.3h1M374.1 658.9h1M359.4 647.4h1M394.4 642.2h1M378.2 653.8h1M362.7 648.0h1M388.3 648.6h1M406.5 647.3h1M377.0 664.1h1M369.4 650.5h1M390.3 655.9h1M383.8 654.4h1M365.8 653.7h1M393.8 652.3h1M376.1 644.4h1M385.6 642.0h1M362.4 639.1h1M387.4 658.8h1M387.0 662.5h1M392.6 651.0h1M361.5 650.1h1M387.0 656.3h1M399.0 644.8h1M391.7 646.1h1M388.5 655.0h1M392.4 648.6h1M358.1 646.3h1M391.3 648.5h1M374.4 660.3h1M371.3 662.0h1M380.7 649.3h1M370.0 658.4h1M375.3 647.0h1M375.0 652.9h1M383.6 644.5h1M380.0 659.2h1M397.7 646.2h1M380.8 653.6h1M391.6 645.0h1M372.7 640.5h1M379.1 643.4h1M359.5 641.5h1M403.1 589.1h1M403.2 590.7h1M403.8 589.6h1M406.7 589.7h1M405.0 589.2h1M405.5 589.9h1M404.3 589.1h1M404.3 590.8h1M404.4 590.8h1M404.1 590.1h1M404.0 589.4h1M404.0 588.0h1M404.9 590.0h1M405.9 589.7h1M404.1 588.0h1M383.3 637.3h1M380.6 636.7h1M378.5 632.7h1M379.1 631.5h1M381.6 636.8h1M380.1 633.9h1M382.6 638.9h1M381.4 635.6h1M381.3 633.0h1M381.5 635.0h1M378.5 632.4h1M379.9 631.9h1M378.3 635.9h1M380.6 632.9h1M379.0 632.7h1M380.0 635.6h1M380.2 633.4h1M378.3 633.7h1M383.6 636.7h1M381.5 634.7h1" stroke="#d8282c" stroke-width="0.9"/>
<path d="M446.4 622.5h1M447.4 624.0h1M448.5 626.4h1M447.7 624.6h1M446.4 620.7h1M449.6 630.7h1M447.5 623.9h1M447.7 626.3h1M448.9 628.5h1M450.1 632.0h1M446.6 622.2h1M447.6 624.2h1M448.7 627.4h1M447.3 622.7h1M447.4 621.9h1M448.8 629.9h1M447.5 625.0h1M449.8 630.7h1M447.7 623.4h1M448.2 627.0h1M447.8 626.6h1M448.5 624.9h1M457.0 636.3h1M453.8 634.2h1M454.9 636.0h1M452.5 634.7h1M451.5 633.0h1M454.1 634.9h1M456.9 635.5h1M456.8 636.4h1M454.5 634.8h1M452.6 633.3h1M452.2 634.2h1M452.3 633.5h1M452.1 634.4h1M456.0 636.1h1M456.2 636.3h1M456.4 635.9h1M454.9 634.8h1M453.1 634.3h1M456.9 635.1h1M456.1 636.6h1M456.1 636.7h1M454.4 636.4h1M455.1 635.7h1M454.2 635.4h1M455.8 635.8h1M455.3 636.8h1M456.6 635.7h1M456.5 635.1h1M455.3 636.4h1M456.1 635.2h1M453.9 635.8h1M456.2 636.3h1M454.2 635.7h1M455.2 635.4h1M454.4 635.9h1M456.9 636.4h1M456.7 635.6h1M454.7 636.1h1M454.6 636.0h1M455.2 637.2h1" stroke="#3a72b8" stroke-width="0.9"/>
<path d="M465.1 648.8h1M464.7 655.3h1M480.5 650.5h1M470.0 663.3h1M464.8 649.3h1M462.4 651.8h1M470.1 658.5h1M462.1 657.3h1M477.0 662.4h1M468.4 662.2h1M466.1 653.0h1M484.0 656.1h1M454.5 647.6h1M470.8 651.2h1M465.1 648.2h1M467.1 660.3h1M483.4 655.3h1M461.2 654.7h1M461.6 651.6h1M484.3 659.1h1M461.0 656.3h1M473.5 658.3h1M467.3 652.9h1M480.4 650.7h1M455.3 647.0h1M457.1 652.8h1M478.9 649.2h1M467.0 662.2h1M482.2 661.0h1M471.7 647.6h1M473.3 655.7h1M477.3 650.8h1M485.1 656.5h1M476.1 647.3h1M459.8 652.7h1M479.2 650.8h1M468.7 656.1h1M466.5 658.1h1M475.7 648.8h1M475.0 660.4h1M476.5 648.2h1M476.8 649.9h1M477.8 655.7h1M474.1 651.5h1M475.4 652.0h1M465.7 650.9h1M477.7 660.9h1M461.2 658.9h1M481.3 652.9h1M469.9 660.7h1M481.0 660.2h1M482.6 652.0h1M480.1 654.1h1M474.8 648.9h1M473.9 646.2h1M472.0 660.5h1M480.7 660.8h1M482.0 652.5h1M467.7 654.9h1M471.2 659.4h1M472.6 647.9h1M465.1 655.8h1M479.6 651.0h1M467.2 658.6h1M470.0 656.7h1M464.1 655.4h1M472.8 661.6h1M464.6 659.8h1M460.0 650.2h1M455.9 650.2h1M468.6 658.1h1M475.1 647.1h1M465.9 658.3h1M457.6 647.1h1M455.4 648.3h1M481.0 651.3h1M467.3 654.9h1M459.3 652.3h1M474.5 647.3h1M467.4 655.4h1M473.5 649.1h1M472.2 651.2h1M464.7 648.2h1M469.0 659.3h1M477.0 658.0h1M470.2 662.3h1M466.2 655.0h1M485.1 659.6h1M468.8 659.7h1M478.8 650.3h1M466.3 659.0h1M465.4 651.4h1M461.1 659.9h1M470.2 650.7h1M483.9 659.7h1M475.9 653.5h1M464.0 650.0h1M465.3 652.6h1M473.5 652.5h1M464.2 649.0h1M475.1 662.3h1M474.6 649.1h1M457.7 647.0h1M462.2 654.5h1M481.5 657.8h1M462.0 650.8h1M473.4 649.9h1M475.1 660.5h1M463.6 650.1h1M465.1 653.7h1M481.0 657.8h1M477.4 651.9h1M482.6 656.9h1M460.8 658.9h1M472.8 651.4h1M479.7 651.0h1M473.5 649.9h1M478.9 650.0h1M481.8 661.5h1M484.7 656.4h1M481.4 661.8h1M463.5 651.8h1M471.6 650.5h1M466.2 658.1h1M473.3 660.4h1M474.7 661.1h1M485.5 660.9h1M473.1 652.3h1M470.7 648.9h1M461.3 654.5h1M467.6 652.1h1M464.0 653.8h1M464.5 655.2h1M479.1 662.3h1M473.2 662.3h1M465.1 653.6h1M457.1 649.0h1M478.7 649.3h1M468.4 653.3h1M460.6 651.3h1M462.4 648.1h1M469.9 649.1h1M482.8 651.9h1M468.1 659.6h1M461.6 658.9h1M480.6 661.3h1M475.0 655.3h1M462.9 648.6h1M468.7 652.7h1M467.7 652.2h1M460.2 652.5h1M476.1 656.6h1M476.3 647.8h1M482.7 653.9h1M465.8 656.9h1M481.4 652.8h1M469.1 651.4h1M483.4 653.0h1M468.4 658.8h1M478.0 646.8h1M460.1 657.0h1M455.8 646.9h1M470.2 649.0h1M478.2 657.5h1M469.8 662.2h1M479.0 657.8h1M483.4 657.0h1M476.3 657.1h1M465.5 650.6h1M480.2 661.2h1M483.0 661.7h1M455.9 646.3h1M467.7 658.0h1M458.8 650.8h1M469.1 655.0h1M456.9 648.0h1M478.3 656.9h1M481.9 659.8h1M481.0 656.9h1M481.1 652.2h1M479.4 655.7h1M464.8 654.6h1M482.3 656.9h1M474.6 658.6h1M467.6 649.3h1M474.7 663.2h1M482.1 659.7h1M458.3 650.6h1M462.2 655.4h1M483.2 656.4h1M472.5 652.8h1M458.7 649.8h1M474.8 657.6h1M472.3 648.9h1M460.4 656.5h1M457.1 647.3h1M478.9 650.0h1M474.0 650.1h1M462.6 656.7h1M467.1 653.4h1M467.0 651.5h1M478.4 661.4h1M466.5 650.5h1M478.8 659.0h1M470.1 656.3h1M464.3 658.4h1M472.3 660.9h1M482.0 655.8h1M479.9 658.8h1M478.9 651.5h1M482.0 656.3h1M455.9 649.1h1M463.6 651.0h1M473.7 662.8h1M471.8 657.2h1M470.8 659.3h1M464.5 656.8h1M470.0 659.4h1M467.4 660.2h1M482.2 654.7h1M469.7 658.0h1M470.3 662.9h1M484.4 654.1h1M476.0 646.8h1M483.4 656.4h1M481.4 659.4h1M473.6 652.4h1M460.9 653.8h1M483.5 656.6h1M481.4 662.1h1M467.3 650.7h1M464.4 652.1h1M464.2 658.4h1M481.8 651.9h1M480.4 650.3h1M461.7 659.7h1M455.7 646.2h1M466.6 659.2h1M482.8 652.5h1M478.2 655.7h1M473.7 659.3h1M469.1 660.3h1M470.6 648.5h1M474.3 654.1h1M469.7 660.7h1M474.2 648.9h1M484.5 660.7h1M479.2 658.1h1M475.5 650.9h1M485.8 658.1h1M470.4 654.9h1M480.6 662.6h1M482.7 657.3h1M460.4 650.7h1M471.8 651.7h1M471.9 647.0h1M467.3 649.3h1M480.3 649.6h1M459.2 658.2h1M470.7 647.5h1M476.5 663.4h1M463.1 655.2h1M471.2 662.6h1M465.6 659.9h1M466.9 654.3h1M466.1 653.1h1M471.6 658.9h1M474.1 644.9h1M471.2 660.1h1M468.9 651.7h1M481.7 657.8h1M483.7 654.9h1M463.2 657.8h1M474.6 645.4h1M478.2 659.0h1M458.6 654.3h1M476.8 653.9h1M464.5 653.7h1M474.1 662.6h1M480.0 653.7h1M479.3 651.3h1M483.2 654.8h1M480.3 660.5h1M479.7 650.4h1M465.7 661.4h1M471.7 654.5h1M458.3 653.9h1M479.0 658.1h1M466.4 658.2h1M459.6 650.9h1M462.5 649.0h1M471.1 656.2h1M464.0 656.2h1M463.9 659.9h1M483.2 655.6h1M474.3 663.2h1M457.6 646.6h1M469.9 658.3h1M470.9 653.9h1M467.4 653.4h1M474.9 646.5h1M479.8 650.8h1M474.2 654.3h1M470.1 654.2h1M459.8 658.2h1M483.3 655.9h1M482.7 659.2h1M467.0 652.6h1M469.3 658.3h1M460.5 649.6h1M467.7 656.0h1M477.4 646.4h1M481.8 656.3h1M478.3 654.8h1M476.1 648.6h1M477.5 649.6h1M472.7 662.8h1M472.9 647.8h1M460.9 652.4h1M480.8 659.7h1M466.0 655.8h1M464.7 654.0h1M465.3 650.7h1M473.8 648.9h1M480.7 651.7h1M462.3 650.2h1M473.2 649.8h1M470.8 654.4h1M478.1 646.2h1M469.3 652.7h1M490.7 651.2h1M491.3 651.6h1M491.5 650.9h1M491.3 650.6h1M491.0 651.2h1M491.1 650.9h1M490.9 651.9h1M488.4 652.2h1M477.0 644.0h1M475.5 645.1h1M474.7 644.8h1M475.6 645.0h1M475.4 645.2h1M476.2 644.9h1M477.3 644.0h1M473.6 643.2h1M475.9 644.4h1M476.4 644.7h1M472.1 643.9h1M477.0 644.7h1" stroke="#52b04a" stroke-width="0.9"/>
<path d="M337.4 538.6 V671.8 H496" stroke="#777" stroke-width="0.8" fill="none"/>
<line x1="336.00" y1="548.70" x2="337.40" y2="548.70" stroke="#444" stroke-width="0.5" />
<text x="335.3" y="550.0" font-size="3.6" fill="#555" stroke="#555" stroke-width="0.08" text-anchor="end">10</text>
<line x1="336.00" y1="579.60" x2="337.40" y2="579.60" stroke="#444" stroke-width="0.5" />
<text x="335.3" y="580.9" font-size="3.6" fill="#555" stroke="#555" stroke-width="0.08" text-anchor="end">5</text>
<line x1="336.00" y1="610.60" x2="337.40" y2="610.60" stroke="#444" stroke-width="0.5" />
<text x="335.3" y="611.9" font-size="3.6" fill="#555" stroke="#555" stroke-width="0.08" text-anchor="end">0</text>
<line x1="336.00" y1="642.00" x2="337.40" y2="642.00" stroke="#444" stroke-width="0.5" />
<text x="335.3" y="643.3" font-size="3.6" fill="#555" stroke="#555" stroke-width="0.08" text-anchor="end">-5</text>
<line x1="367.90" y1="671.80" x2="367.90" y2="673.20" stroke="#444" stroke-width="0.5" />
<text x="367.9" y="677.0" font-size="3.6" fill="#555" stroke="#555" stroke-width="0.08" text-anchor="middle">-4</text>
<line x1="398.90" y1="671.80" x2="398.90" y2="673.20" stroke="#444" stroke-width="0.5" />
<text x="398.9" y="677.0" font-size="3.6" fill="#555" stroke="#555" stroke-width="0.08" text-anchor="middle">0</text>
<line x1="430.50" y1="671.80" x2="430.50" y2="673.20" stroke="#444" stroke-width="0.5" />
<text x="430.5" y="677.0" font-size="3.6" fill="#555" stroke="#555" stroke-width="0.08" text-anchor="middle">4</text>
<line x1="462.30" y1="671.80" x2="462.30" y2="673.20" stroke="#444" stroke-width="0.5" />
<text x="462.3" y="677.0" font-size="3.6" fill="#555" stroke="#555" stroke-width="0.08" text-anchor="middle">8</text>
<line x1="493.80" y1="671.80" x2="493.80" y2="673.20" stroke="#444" stroke-width="0.5" />
<text x="493.8" y="677.0" font-size="3.6" fill="#555" stroke="#555" stroke-width="0.08" text-anchor="middle">12</text>
<text x="418.2" y="681.5" font-size="3.6" fill="#555" stroke="#555" stroke-width="0.08" text-anchor="middle">umap_1</text>
<text transform="translate(329.3,606.5) rotate(-90)" font-size="3.6" text-anchor="middle" fill="#555" stroke="#555" stroke-width="0.08">umap_2</text>
<text x="488.9" y="537.8" font-size="7.7" fill="#111" stroke="#111" stroke-width="0.16" text-anchor="end">CM</text>
<circle cx="493.8" cy="535" r="2.7" fill="#e0262a"/>
<text x="488.9" y="548.3" font-size="7.7" fill="#111" stroke="#111" stroke-width="0.16" text-anchor="end">Early CM</text>
<circle cx="493.8" cy="545.5" r="2.7" fill="#f08888"/>
<text x="488.9" y="558.8" font-size="7.7" fill="#111" stroke="#111" stroke-width="0.16" text-anchor="end">Neural</text>
<circle cx="493.8" cy="556" r="2.7" fill="#3a78c0"/>
<text x="488.9" y="569.1" font-size="7.7" fill="#111" stroke="#111" stroke-width="0.16" text-anchor="end">Neural prog.</text>
<circle cx="493.8" cy="566.3" r="2.7" fill="#90cdf5"/>
<text x="488.9" y="579.4" font-size="7.7" fill="#111" stroke="#111" stroke-width="0.16" text-anchor="end">Endothelial</text>
<circle cx="493.8" cy="576.6" r="2.7" fill="#44aa44"/>
<text x="488.9" y="590.1" font-size="7.7" fill="#111" stroke="#111" stroke-width="0.16" text-anchor="end">Unknown</text>
<circle cx="493.8" cy="587.3" r="2.7" fill="#b0b0b0"/>
<path d="M564.2 566.9h0.9M572.2 545.6h0.9M560.7 552.3h0.9M578.8 561.9h0.9M572.6 549.0h0.9M572.5 577.4h0.9M569.0 572.4h0.9M573.6 545.5h0.9M576.3 566.4h0.9M575.1 577.8h0.9M575.0 579.5h0.9M565.0 574.7h0.9M556.9 551.6h0.9M572.2 554.9h0.9M563.6 566.2h0.9M570.9 578.8h0.9M573.9 579.8h0.9M573.6 549.5h0.9M574.9 551.4h0.9M578.6 565.7h0.9M565.4 549.0h0.9M561.8 573.4h0.9M575.1 556.1h0.9M562.3 546.0h0.9M571.4 544.2h0.9M558.8 559.2h0.9M571.7 549.2h0.9M567.0 563.6h0.9M572.8 566.6h0.9M570.1 567.6h0.9M566.1 571.5h0.9M560.0 554.9h0.9M569.8 543.5h0.9M565.6 566.0h0.9M553.2 567.4h0.9M572.4 545.4h0.9M572.2 561.5h0.9M573.9 557.0h0.9M574.7 572.2h0.9M573.8 581.1h0.9M560.5 561.1h0.9M571.2 555.7h0.9M564.0 555.4h0.9M564.2 566.6h0.9M562.0 557.9h0.9M570.4 572.1h0.9M562.3 551.8h0.9M558.5 560.2h0.9M574.4 547.0h0.9M562.7 556.2h0.9M578.7 560.4h0.9M579.4 549.7h0.9M563.1 568.7h0.9M569.2 550.6h0.9M577.9 576.2h0.9M558.3 554.0h0.9M577.9 568.4h0.9M577.8 556.7h0.9M556.7 554.6h0.9M563.4 559.5h0.9M565.7 559.2h0.9M581.6 551.8h0.9M575.9 576.1h0.9M573.4 563.6h0.9M561.6 556.5h0.9M571.0 554.4h0.9M558.0 554.9h0.9M573.3 563.8h0.9M571.8 556.5h0.9M560.5 577.1h0.9M567.5 574.0h0.9M563.6 550.8h0.9M558.0 574.4h0.9M572.3 577.2h0.9M561.0 563.9h0.9M565.8 561.7h0.9M555.3 562.9h0.9M562.5 555.5h0.9M563.6 568.6h0.9M571.0 557.3h0.9M558.6 556.0h0.9M556.5 565.0h0.9M575.0 558.1h0.9M577.1 558.1h0.9M577.7 567.7h0.9M566.1 557.7h0.9M568.1 570.8h0.9M565.8 570.5h0.9M567.0 552.7h0.9M569.4 570.5h0.9M565.9 577.8h0.9M560.8 561.4h0.9M573.3 578.1h0.9M577.4 569.4h0.9M575.6 565.3h0.9M555.8 566.3h0.9M580.2 550.1h0.9M573.7 576.1h0.9M576.6 563.2h0.9M575.0 547.2h0.9M554.5 555.8h0.9M570.3 575.8h0.9M560.2 550.1h0.9M560.4 567.4h0.9M576.2 558.6h0.9M564.1 558.7h0.9M563.6 559.6h0.9M555.2 562.8h0.9M576.0 549.4h0.9M574.2 572.9h0.9M573.7 563.5h0.9M567.7 568.5h0.9M580.7 548.9h0.9M555.6 572.6h0.9M566.5 571.5h0.9M558.4 553.6h0.9M558.8 566.2h0.9M562.5 552.2h0.9M574.2 580.8h0.9M565.5 576.8h0.9M570.9 553.6h0.9M567.6 558.2h0.9M558.0 557.3h0.9M562.7 573.7h0.9M567.6 566.7h0.9M567.3 576.1h0.9M578.3 565.1h0.9M567.7 571.5h0.9M579.4 558.9h0.9M575.6 581.0h0.9M567.2 552.1h0.9M559.9 571.4h0.9M573.7 581.0h0.9M579.3 552.6h0.9M558.5 553.2h0.9M558.5 570.9h0.9M579.5 578.6h0.9M560.6 577.3h0.9M562.4 559.8h0.9M561.7 557.1h0.9M570.8 569.8h0.9M566.3 562.2h0.9M569.6 547.7h0.9M561.2 569.4h0.9M576.8 573.0h0.9M561.9 569.8h0.9M573.1 574.9h0.9M560.9 572.9h0.9M569.4 547.5h0.9M568.1 556.9h0.9M575.1 569.9h0.9M570.3 550.2h0.9M572.8 568.0h0.9M573.1 547.9h0.9M563.0 571.5h0.9M571.3 565.0h0.9M572.9 561.1h0.9M562.4 550.0h0.9M576.2 564.5h0.9M575.8 557.2h0.9M560.9 558.2h0.9M576.7 557.0h0.9M563.0 559.0h0.9M569.5 573.6h0.9M563.6 576.5h0.9M577.0 571.8h0.9M558.4 550.5h0.9M565.6 572.4h0.9M571.1 548.8h0.9M565.1 550.7h0.9M569.1 565.5h0.9M558.9 552.9h0.9M577.7 578.3h0.9M569.9 566.1h0.9M572.4 581.7h0.9M574.1 554.9h0.9M579.5 562.2h0.9M571.4 571.8h0.9M573.3 562.5h0.9M569.0 561.2h0.9M558.7 564.0h0.9M553.8 562.8h0.9M572.8 560.6h0.9M570.3 581.0h0.9M577.4 567.7h0.9M554.2 557.3h0.9M569.5 579.8h0.9M562.7 577.5h0.9M574.3 548.3h0.9M575.8 556.6h0.9M577.8 579.9h0.9M579.6 560.3h0.9M576.3 562.2h0.9M574.5 564.3h0.9M562.1 561.4h0.9M576.3 558.9h0.9M575.1 557.5h0.9M571.3 551.9h0.9M577.1 548.7h0.9M567.0 550.7h0.9M559.2 549.8h0.9M557.9 562.4h0.9M566.6 559.1h0.9M574.6 545.0h0.9M565.2 558.7h0.9M567.5 549.5h0.9M572.1 556.7h0.9M575.4 553.9h0.9M577.3 561.4h0.9M581.8 554.9h0.9M560.4 553.5h0.9M578.1 567.9h0.9M563.4 546.7h0.9M574.0 581.4h0.9M571.1 543.1h0.9M554.3 568.9h0.9M580.8 550.9h0.9M577.8 579.3h0.9M562.1 567.0h0.9M561.8 576.7h0.9M556.2 558.4h0.9M563.1 569.9h0.9M581.7 549.9h0.9M575.8 572.1h0.9M578.8 564.9h0.9M565.6 552.1h0.9M577.0 562.0h0.9M561.0 549.7h0.9M575.2 567.0h0.9M574.8 558.3h0.9M567.8 549.1h0.9M567.2 573.0h0.9M560.0 576.4h0.9M572.7 577.8h0.9M563.0 557.7h0.9M554.9 558.8h0.9M570.4 547.4h0.9M555.1 568.7h0.9M557.4 568.5h0.9M559.5 565.3h0.9M565.7 573.9h0.9M571.5 574.2h0.9M569.4 550.5h0.9M578.4 547.5h0.9M555.3 561.4h0.9M559.6 575.8h0.9M571.9 568.4h0.9M576.4 577.5h0.9M563.4 566.9h0.9M578.1 551.2h0.9M569.5 561.4h0.9M575.4 546.1h0.9M563.4 562.2h0.9M554.8 564.9h0.9M575.6 559.7h0.9M559.3 556.9h0.9M566.1 546.3h0.9M559.4 549.5h0.9M571.8 579.9h0.9M576.8 559.1h0.9M575.2 554.7h0.9M568.9 568.3h0.9M561.2 560.1h0.9M576.0 554.4h0.9M565.5 546.1h0.9M557.4 573.2h0.9M574.5 581.7h0.9M564.3 549.4h0.9M562.4 561.3h0.9M569.1 564.5h0.9M563.9 576.8h0.9M561.5 561.3h0.9M580.4 575.0h0.9M561.9 552.6h0.9M556.7 564.0h0.9M569.4 549.6h0.9M576.7 561.4h0.9M566.1 556.4h0.9M554.2 564.6h0.9M555.5 555.3h0.9M565.7 553.3h0.9M554.0 560.0h0.9M572.2 569.7h0.9M560.3 548.4h0.9M576.3 574.3h0.9M568.5 575.9h0.9M569.9 554.1h0.9M572.7 578.5h0.9M573.4 579.8h0.9M578.1 566.9h0.9M565.6 563.5h0.9M557.9 550.2h0.9M574.0 582.3h0.9M569.7 559.2h0.9M563.6 561.0h0.9M577.7 560.9h0.9M562.5 563.7h0.9M565.5 576.7h0.9M578.5 579.9h0.9M571.8 544.2h0.9M570.6 564.8h0.9M567.9 554.1h0.9M574.8 579.1h0.9M555.8 569.5h0.9M564.2 563.4h0.9M581.4 550.2h0.9M564.6 575.8h0.9M562.5 558.5h0.9M561.4 548.2h0.9M569.1 572.4h0.9M578.8 568.0h0.9M567.7 553.6h0.9M569.7 544.9h0.9M573.7 568.6h0.9M576.4 550.0h0.9M558.5 575.6h0.9M564.6 547.2h0.9M561.4 548.2h0.9M567.8 570.9h0.9M577.1 565.5h0.9M567.1 564.3h0.9M566.4 564.2h0.9M571.2 579.9h0.9M579.2 550.1h0.9M557.9 553.5h0.9M577.5 582.3h0.9M574.1 563.8h0.9M576.6 546.7h0.9M569.5 560.5h0.9M557.2 566.8h0.9M562.7 563.1h0.9M564.3 555.6h0.9M563.8 566.8h0.9M579.6 576.1h0.9M561.0 547.9h0.9M568.3 572.0h0.9M563.3 568.6h0.9M566.8 561.9h0.9M569.2 577.6h0.9M566.4 567.5h0.9M554.8 559.8h0.9M579.1 573.8h0.9M564.1 551.5h0.9M569.8 578.0h0.9M566.1 577.4h0.9M574.9 557.3h0.9M562.0 563.0h0.9M565.1 557.8h0.9M573.0 577.7h0.9M570.9 548.8h0.9M559.5 557.7h0.9M571.8 548.5h0.9M555.2 555.7h0.9M569.5 579.5h0.9M569.3 572.2h0.9M578.5 576.2h0.9M574.0 547.8h0.9M580.1 558.0h0.9M567.5 578.3h0.9M561.6 550.5h0.9M578.4 566.7h0.9M578.7 550.3h0.9M561.2 558.4h0.9M568.6 560.1h0.9M572.3 569.1h0.9M566.3 546.8h0.9M555.2 560.5h0.9M576.2 582.3h0.9M567.6 559.7h0.9M563.0 559.6h0.9M570.8 578.0h0.9M558.9 558.5h0.9M555.4 568.4h0.9M569.0 565.7h0.9M567.3 577.0h0.9M569.5 554.3h0.9M569.1 551.0h0.9M556.8 564.1h0.9M572.0 557.1h0.9M576.7 579.0h0.9M579.4 572.2h0.9M566.1 555.4h0.9M559.4 575.6h0.9M559.2 550.4h0.9M553.8 562.8h0.9M564.6 576.7h0.9M565.6 552.5h0.9M558.8 549.1h0.9M561.4 559.9h0.9M563.8 545.7h0.9M560.1 553.8h0.9M570.6 549.0h0.9M574.7 548.3h0.9M573.9 557.9h0.9M558.8 561.3h0.9M565.4 556.2h0.9M571.6 558.3h0.9M566.9 544.4h0.9M577.4 564.0h0.9M568.3 557.1h0.9M574.3 548.4h0.9M568.1 547.4h0.9M575.3 551.3h0.9M556.7 555.9h0.9M579.4 554.7h0.9M569.8 564.1h0.9M567.0 555.0h0.9M571.2 563.1h0.9M576.6 556.5h0.9M562.6 564.8h0.9M576.2 550.1h0.9M553.7 559.6h0.9M575.8 551.6h0.9M568.0 556.8h0.9M561.0 560.0h0.9M570.6 552.4h0.9M556.7 556.5h0.9M563.2 560.7h0.9M558.7 552.6h0.9M559.4 553.0h0.9M571.0 545.6h0.9M555.1 554.8h0.9M559.5 555.3h0.9M569.8 565.5h0.9M579.9 555.6h0.9M565.5 544.6h0.9M561.8 550.7h0.9M582.3 554.6h0.9M566.6 549.4h0.9M570.8 555.5h0.9M559.5 548.4h0.9M556.4 560.2h0.9M576.3 548.5h0.9M567.3 566.8h0.9M563.4 561.6h0.9M558.4 559.3h0.9M561.6 555.4h0.9M564.8 564.2h0.9M574.4 553.4h0.9M577.9 549.3h0.9M570.0 557.3h0.9M558.6 558.6h0.9M559.8 561.5h0.9M568.8 566.3h0.9M579.3 560.7h0.9M570.4 561.2h0.9M576.0 554.8h0.9M575.9 546.6h0.9M570.0 559.3h0.9M571.8 546.9h0.9M557.6 558.2h0.9M577.3 552.5h0.9M572.0 549.4h0.9M562.0 560.0h0.9M569.2 551.0h0.9M577.9 552.5h0.9M573.8 551.0h0.9M560.2 554.0h0.9M577.8 551.4h0.9M560.4 553.1h0.9M556.3 550.7h0.9M570.9 556.3h0.9M571.6 550.1h0.9M563.7 547.8h0.9M570.8 549.5h0.9M576.6 557.7h0.9M573.6 560.9h0.9M569.3 553.4h0.9M577.6 555.2h0.9M556.4 565.6h0.9M571.2 558.2h0.9M557.1 555.2h0.9M568.0 549.0h0.9M554.9 559.5h0.9M562.7 554.5h0.9M562.6 550.4h0.9M557.4 558.3h0.9M576.9 555.4h0.9M572.6 545.0h0.9M574.0 555.5h0.9M581.6 553.3h0.9M565.3 554.4h0.9M571.7 543.7h0.9M561.3 554.5h0.9M561.2 551.7h0.9M573.2 561.1h0.9M582.6 554.6h0.9M571.2 557.9h0.9M560.8 547.4h0.9M568.7 549.2h0.9M580.4 556.8h0.9M563.8 553.5h0.9M576.3 551.9h0.9M575.5 549.6h0.9M560.1 548.6h0.9M559.4 557.8h0.9M573.0 560.8h0.9M556.6 561.7h0.9M568.0 552.2h0.9M568.7 553.6h0.9M559.5 552.6h0.9M573.1 560.5h0.9M557.6 561.9h0.9M571.5 566.1h0.9M562.3 563.9h0.9M581.0 553.6h0.9M578.7 553.3h0.9M563.0 553.8h0.9M556.0 564.7h0.9M560.8 548.4h0.9M580.9 551.1h0.9M562.6 548.3h0.9M569.9 556.7h0.9M565.5 555.4h0.9M562.5 563.4h0.9M561.0 548.0h0.9M570.4 545.8h0.9M566.4 544.4h0.9M581.0 549.5h0.9M562.2 566.1h0.9M559.5 565.5h0.9M562.9 559.2h0.9M556.7 564.9h0.9M565.6 551.4h0.9M573.4 557.5h0.9M571.0 543.6h0.9M580.0 551.4h0.9M558.6 551.0h0.9M556.9 550.7h0.9M563.6 550.1h0.9M568.2 562.0h0.9M566.8 561.7h0.9M568.1 545.9h0.9M558.6 563.7h0.9M568.0 552.3h0.9M564.8 551.8h0.9M570.0 554.7h0.9M568.5 554.0h0.9M567.8 560.5h0.9M569.9 563.5h0.9M565.0 545.6h0.9M576.4 554.0h0.9M576.1 562.4h0.9M580.1 556.4h0.9M555.9 564.7h0.9M578.7 549.8h0.9M559.8 560.5h0.9M554.5 555.5h0.9M572.3 561.7h0.9M559.3 556.1h0.9M579.2 553.9h0.9M569.3 559.3h0.9M557.6 560.8h0.9M577.8 564.0h0.9M562.0 548.7h0.9M558.4 564.9h0.9M566.8 552.5h0.9M563.1 551.2h0.9M576.8 562.0h0.9M571.5 552.9h0.9M582.6 553.5h0.9M564.1 557.7h0.9M564.5 566.1h0.9M573.2 554.2h0.9M573.5 557.7h0.9M572.2 555.1h0.9M569.4 555.0h0.9M578.8 547.7h0.9M577.4 550.3h0.9M568.2 553.8h0.9M575.1 547.9h0.9M561.4 546.2h0.9M570.5 557.1h0.9M567.3 556.8h0.9M562.2 559.1h0.9M578.2 559.4h0.9M568.3 544.1h0.9M577.5 550.8h0.9M571.2 555.1h0.9M579.6 555.7h0.9M570.3 551.9h0.9M569.8 551.5h0.9M579.4 557.2h0.9M560.7 560.3h0.9M572.8 544.5h0.9M576.3 548.6h0.9M562.1 549.1h0.9M571.1 546.6h0.9M566.5 560.1h0.9M555.2 565.5h0.9M574.7 558.1h0.9M562.7 546.0h0.9M556.3 561.2h0.9M565.5 564.4h0.9M576.6 559.8h0.9M561.5 552.0h0.9M564.3 555.4h0.9M576.2 562.9h0.9M564.7 551.7h0.9M572.1 548.6h0.9M573.2 554.8h0.9M559.3 556.9h0.9M567.9 566.5h0.9M580.4 557.3h0.9M558.4 563.2h0.9M576.6 552.6h0.9M559.7 558.9h0.9M559.8 561.5h0.9M570.9 563.1h0.9M564.3 550.4h0.9M564.9 556.7h0.9M566.7 558.7h0.9M576.5 549.8h0.9M559.3 560.8h0.9M578.5 558.9h0.9M559.9 560.6h0.9M569.4 552.1h0.9M571.4 554.0h0.9M573.2 561.3h0.9M570.8 566.1h0.9M573.4 557.1h0.9M577.6 558.2h0.9M572.3 546.1h0.9M569.4 549.3h0.9M567.8 561.4h0.9M565.1 555.8h0.9M576.7 561.5h0.9M555.9 563.0h0.9M568.3 544.4h0.9M566.3 564.6h0.9M572.4 550.7h0.9M578.2 551.7h0.9M580.8 552.8h0.9M576.9 545.8h0.9M570.0 564.0h0.9M571.4 551.5h0.9M576.5 563.1h0.9M563.2 552.9h0.9M576.8 547.1h0.9M583.2 554.1h0.9M559.7 562.2h0.9M566.1 548.4h0.9M554.8 560.2h0.9M570.5 550.4h0.9M578.8 547.8h0.9M567.0 545.1h0.9M564.1 564.6h0.9M568.7 546.7h0.9M560.6 558.7h0.9M561.9 564.6h0.9M555.2 564.2h0.9M572.4 563.1h0.9M564.2 544.7h0.9M558.7 558.3h0.9M577.3 564.4h0.9M570.3 564.4h0.9M574.7 556.6h0.9M567.5 546.0h0.9M576.0 564.8h0.9M560.3 564.6h0.9M557.2 562.5h0.9M565.9 557.7h0.9M566.2 561.2h0.9M556.1 565.7h0.9M560.6 563.0h0.9M567.7 560.1h0.9M562.3 563.3h0.9M556.7 564.6h0.9M571.5 544.5h0.9M582.1 550.7h0.9M572.7 563.8h0.9M578.5 560.4h0.9M565.1 549.1h0.9M558.2 556.3h0.9M559.6 561.1h0.9M563.2 557.1h0.9M570.1 558.3h0.9M558.1 549.3h0.9M574.4 548.2h0.9M565.3 566.5h0.9M572.1 566.0h0.9M569.5 561.4h0.9M574.2 547.8h0.9M569.2 557.2h0.9M567.5 559.1h0.9M578.2 546.5h0.9M574.8 558.3h0.9M564.8 560.2h0.9M571.4 552.7h0.9M577.5 550.4h0.9M575.1 557.8h0.9M576.1 564.5h0.9M567.6 545.4h0.9M560.4 563.4h0.9M575.1 564.1h0.9M565.0 555.1h0.9M575.1 550.3h0.9M575.9 557.3h0.9M562.2 562.2h0.9M555.6 557.4h0.9M568.0 555.7h0.9M572.1 552.2h0.9M582.7 553.0h0.9M574.8 547.3h0.9M564.8 559.5h0.9M564.1 558.9h0.9M572.6 558.3h0.9M562.8 558.6h0.9M573.2 557.3h0.9M568.4 561.3h0.9M559.6 560.4h0.9M555.9 563.0h0.9M571.1 544.7h0.9M579.3 550.4h0.9M557.6 552.8h0.9M558.1 561.5h0.9M556.9 564.0h0.9M560.9 550.9h0.9M567.0 556.5h0.9M566.0 566.1h0.9M563.8 554.6h0.9M579.7 548.9h0.9M558.7 563.4h0.9M563.0 564.8h0.9M578.5 552.1h0.9M563.6 545.5h0.9M580.0 553.8h0.9M563.8 547.3h0.9M560.3 564.3h0.9M557.4 556.5h0.9M572.5 555.7h0.9M559.2 563.0h0.9M580.8 556.8h0.9M586.4 576.8h0.9M583.4 574.9h0.9M582.8 578.6h0.9M593.5 582.7h0.9M594.2 583.9h0.9M593.7 582.9h0.9M589.4 578.9h0.9M586.8 576.7h0.9M597.6 583.8h0.9M592.8 583.6h0.9M589.2 580.9h0.9M587.3 579.8h0.9M589.6 580.1h0.9M589.1 579.2h0.9M583.5 577.7h0.9M586.9 577.0h0.9M595.4 585.2h0.9M584.8 576.8h0.9M586.8 578.3h0.9M581.7 576.3h0.9M590.2 584.1h0.9M583.9 575.7h0.9M589.0 578.6h0.9M587.3 560.6h0.9M594.5 554.2h0.9M591.9 554.7h0.9M593.3 561.1h0.9M590.5 555.9h0.9M593.7 559.7h0.9M589.1 558.0h0.9M587.1 559.3h0.9M586.8 561.5h0.9M588.6 555.4h0.9M586.0 561.3h0.9M589.8 557.4h0.9M596.4 555.6h0.9M588.1 557.9h0.9M586.8 556.5h0.9M596.1 558.8h0.9M590.4 557.6h0.9M593.6 559.6h0.9M590.7 556.5h0.9M588.6 553.6h0.9M590.2 557.4h0.9M589.0 554.3h0.9M592.9 555.7h0.9M596.4 558.2h0.9M587.5 560.8h0.9M590.4 554.2h0.9M587.2 553.9h0.9M590.1 561.6h0.9M584.8 555.6h0.9M585.8 556.8h0.9M594.0 553.6h0.9M591.2 557.2h0.9M594.5 560.8h0.9M589.4 558.8h0.9M587.1 557.5h0.9M594.0 553.9h0.9M591.7 557.9h0.9M585.4 555.6h0.9M597.6 556.5h0.9M585.6 556.0h0.9M588.6 556.3h0.9M586.0 557.9h0.9M593.3 554.2h0.9M593.1 556.2h0.9M588.5 554.4h0.9M596.8 559.1h0.9M600.5 558.4h0.9M594.7 559.3h0.9M587.7 555.3h0.9M592.3 558.7h0.9M588.6 561.1h0.9M598.0 559.6h0.9M592.1 559.7h0.9M585.6 560.7h0.9M593.8 555.9h0.9M585.5 558.8h0.9M590.7 559.7h0.9M590.1 557.4h0.9M595.9 558.9h0.9M590.4 556.0h0.9M590.8 553.7h0.9M586.8 560.8h0.9M598.0 556.8h0.9M592.0 558.7h0.9M595.5 556.3h0.9M598.0 556.2h0.9M593.8 556.1h0.9M596.1 556.8h0.9M593.3 556.3h0.9M585.7 560.2h0.9M586.9 560.4h0.9M587.5 560.5h0.9M591.6 557.7h0.9M584.3 559.3h0.9M595.2 556.0h0.9M596.0 561.5h0.9M596.1 554.6h0.9M589.2 561.9h0.9M597.5 559.8h0.9M596.4 561.6h0.9M590.1 553.7h0.9M587.1 558.7h0.9M587.1 555.6h0.9M583.7 556.6h0.9M591.7 558.7h0.9M586.7 554.1h0.9M599.6 559.1h0.9M594.4 560.7h0.9M588.2 559.1h0.9M589.6 560.1h0.9M587.6 555.9h0.9M586.6 559.9h0.9M590.6 554.8h0.9M588.7 558.5h0.9M589.0 558.7h0.9M597.9 559.2h0.9M583.5 560.2h0.9M598.4 559.9h0.9M591.5 558.3h0.9M584.1 558.8h0.9M593.5 561.1h0.9M594.3 556.6h0.9M586.4 560.0h0.9M589.5 560.1h0.9M597.3 556.8h0.9M596.3 556.9h0.9M595.7 560.2h0.9M588.0 555.3h0.9M595.8 555.1h0.9M593.0 558.4h0.9M590.2 558.0h0.9M594.6 557.0h0.9M596.2 558.3h0.9M591.3 559.0h0.9M587.5 554.1h0.9M596.5 555.8h0.9M585.9 561.4h0.9M593.0 558.3h0.9M596.8 560.8h0.9M597.8 556.0h0.9M592.8 553.5h0.9M585.5 559.3h0.9M594.1 559.7h0.9M584.8 558.1h0.9M595.4 561.7h0.9M599.0 555.8h0.9M591.4 562.2h0.9M585.4 560.0h0.9M588.1 559.8h0.9M597.6 560.7h0.9M582.7 559.6h0.9M597.1 559.7h0.9M598.3 560.8h0.9M593.6 561.2h0.9M592.2 554.4h0.9M587.3 561.8h0.9M588.3 557.6h0.9M598.5 559.6h0.9M591.5 554.1h0.9M583.2 554.6h0.9M582.5 555.2h0.9M582.1 549.6h0.9M582.0 552.4h0.9M583.0 551.4h0.9M584.4 554.5h0.9M585.1 553.9h0.9M582.9 553.7h0.9M582.4 554.4h0.9M583.3 554.6h0.9M608.3 591.3h0.9M612.1 592.6h0.9M605.4 591.2h0.9M610.0 592.6h0.9M607.5 590.6h0.9M599.4 588.5h0.9M618.6 595.5h0.9M614.8 593.8h0.9M605.6 590.5h0.9M604.0 590.4h0.9M614.2 594.3h0.9M608.9 592.6h0.9M600.3 589.1h0.9M607.1 590.8h0.9M612.2 592.7h0.9M604.3 591.0h0.9M602.6 589.8h0.9M606.1 590.8h0.9M601.1 589.0h0.9M616.1 594.4h0.9M608.8 592.3h0.9M599.6 588.5h0.9M600.3 588.6h0.9M610.9 592.2h0.9M603.3 590.9h0.9M612.3 593.7h0.9M609.5 592.4h0.9M612.2 593.7h0.9M610.9 593.0h0.9M603.6 590.0h0.9M610.2 592.5h0.9M597.8 588.3h0.9M603.0 590.3h0.9M603.7 590.3h0.9M610.5 592.2h0.9M618.6 595.9h0.9M600.5 588.1h0.9M607.2 591.5h0.9M614.7 593.8h0.9M612.3 593.3h0.9M614.7 593.7h0.9M615.9 595.2h0.9M600.6 588.4h0.9M606.8 591.4h0.9M616.3 595.1h0.9M602.8 590.9h0.9M607.9 591.1h0.9M615.0 594.7h0.9M608.7 591.5h0.9M609.7 592.5h0.9M616.8 621.9h0.9M617.8 623.4h0.9M618.9 625.8h0.9M618.1 624.0h0.9M616.8 620.1h0.9M620.0 630.1h0.9M617.9 623.3h0.9M618.1 625.7h0.9M619.3 627.9h0.9M620.5 631.4h0.9M617.0 621.6h0.9M618.0 623.6h0.9M619.1 626.8h0.9M617.7 622.1h0.9M617.8 621.3h0.9M619.2 629.3h0.9M617.9 624.4h0.9M620.2 630.1h0.9M618.1 622.8h0.9M618.6 626.4h0.9M618.2 626.0h0.9M618.9 624.3h0.9M627.4 635.7h0.9M624.2 633.6h0.9M625.3 635.4h0.9M622.9 634.1h0.9M624.5 634.3h0.9M627.3 634.9h0.9M627.2 635.8h0.9M624.9 634.2h0.9M623.0 632.7h0.9M622.6 633.6h0.9M622.7 632.9h0.9M622.5 633.8h0.9M626.4 635.5h0.9M626.6 635.7h0.9M626.8 635.3h0.9M625.3 634.2h0.9M627.3 634.5h0.9M626.5 636.0h0.9M626.5 636.1h0.9M624.8 635.8h0.9M625.5 635.1h0.9M624.6 634.8h0.9M626.2 635.2h0.9M625.7 636.2h0.9M627.0 635.1h0.9M626.9 634.5h0.9M625.7 635.8h0.9M626.5 634.6h0.9M624.3 635.2h0.9M626.6 635.7h0.9M624.6 635.1h0.9M625.6 634.8h0.9M624.8 635.3h0.9M627.3 635.8h0.9M627.1 635.0h0.9M625.1 635.5h0.9M625.0 635.4h0.9M625.6 636.6h0.9M635.1 654.7h0.9M650.9 649.9h0.9M640.4 662.7h0.9M635.2 648.7h0.9M632.8 651.2h0.9M640.5 657.9h0.9M632.5 656.7h0.9M647.4 661.8h0.9M638.8 661.6h0.9M636.5 652.4h0.9M654.4 655.5h0.9M624.9 647.0h0.9M641.2 650.6h0.9M635.5 647.6h0.9M637.5 659.7h0.9M653.8 654.7h0.9M631.6 654.1h0.9M632.0 651.0h0.9M654.7 658.5h0.9M631.4 655.7h0.9M637.7 652.3h0.9M650.8 650.1h0.9M625.7 646.4h0.9M627.5 652.2h0.9M649.3 648.6h0.9M637.4 661.6h0.9M652.6 660.4h0.9M642.1 647.0h0.9M647.7 650.2h0.9M655.5 655.9h0.9M630.2 652.1h0.9M649.6 650.2h0.9M639.1 655.5h0.9M646.1 648.2h0.9M645.4 659.8h0.9M646.9 647.6h0.9M647.2 649.3h0.9M648.2 655.1h0.9M644.5 650.9h0.9M645.8 651.4h0.9M636.1 650.3h0.9M648.1 660.3h0.9M631.6 658.3h0.9M651.7 652.3h0.9M640.3 660.1h0.9M651.4 659.6h0.9M653.0 651.4h0.9M650.5 653.5h0.9M645.2 648.3h0.9M644.3 645.6h0.9M642.4 659.9h0.9M651.1 660.2h0.9M652.4 651.9h0.9M638.1 654.3h0.9M641.6 658.8h0.9M635.5 655.2h0.9M650.0 650.4h0.9M637.6 658.0h0.9M640.4 656.1h0.9M634.5 654.8h0.9M643.2 661.0h0.9M635.0 659.2h0.9M630.4 649.6h0.9M639.0 657.5h0.9M645.5 646.5h0.9M636.3 657.7h0.9M628.0 646.5h0.9M625.8 647.7h0.9M651.4 650.7h0.9M637.7 654.3h0.9M644.9 646.7h0.9M637.8 654.8h0.9M643.9 648.5h0.9M642.6 650.6h0.9M635.1 647.6h0.9M639.4 658.7h0.9M647.4 657.4h0.9M636.6 654.4h0.9M655.5 659.0h0.9M639.2 659.1h0.9M649.2 649.7h0.9M636.7 658.4h0.9M635.8 650.8h0.9M631.5 659.3h0.9M640.6 650.1h0.9M654.3 659.1h0.9M646.3 652.9h0.9M634.4 649.4h0.9M635.7 652.0h0.9M643.9 651.9h0.9M634.6 648.4h0.9M645.5 661.7h0.9M628.1 646.4h0.9M632.6 653.9h0.9M651.9 657.2h0.9M643.8 649.3h0.9M634.0 649.5h0.9M635.5 653.1h0.9M653.0 656.3h0.9M631.2 658.3h0.9M643.2 650.8h0.9M650.1 650.4h0.9M643.9 649.3h0.9M649.3 649.4h0.9M652.2 660.9h0.9M655.1 655.8h0.9M651.8 661.2h0.9M633.9 651.2h0.9M642.0 649.9h0.9M636.6 657.5h0.9M643.7 659.8h0.9M645.1 660.5h0.9M655.9 660.3h0.9M643.5 651.7h0.9M641.1 648.3h0.9M631.7 653.9h0.9M638.0 651.5h0.9M634.4 653.2h0.9M634.9 654.6h0.9M649.5 661.7h0.9M643.6 661.7h0.9M635.5 653.0h0.9M627.5 648.4h0.9M638.8 652.7h0.9M631.0 650.7h0.9M632.8 647.5h0.9M640.3 648.5h0.9M653.2 651.3h0.9M638.5 659.0h0.9M632.0 658.3h0.9M651.0 660.7h0.9M645.4 654.7h0.9M633.3 648.0h0.9M639.1 652.1h0.9M638.1 651.6h0.9M630.6 651.9h0.9M646.5 656.0h0.9M646.7 647.2h0.9M653.1 653.3h0.9M636.2 656.3h0.9M651.8 652.2h0.9M639.5 650.8h0.9M653.8 652.4h0.9M638.8 658.2h0.9M648.4 646.2h0.9M630.5 656.4h0.9M626.2 646.3h0.9M640.6 648.4h0.9M648.6 656.9h0.9M640.2 661.6h0.9M649.4 657.2h0.9M653.8 656.4h0.9M646.7 656.5h0.9M635.9 650.0h0.9M650.6 660.6h0.9M653.4 661.1h0.9M626.3 645.7h0.9M629.2 650.2h0.9M639.5 654.4h0.9M627.3 647.4h0.9M651.4 656.3h0.9M651.5 651.6h0.9M649.8 655.1h0.9M635.2 654.0h0.9M652.7 656.3h0.9M645.0 658.0h0.9M638.0 648.7h0.9M645.1 662.6h0.9M652.5 659.1h0.9M628.7 650.0h0.9M632.6 654.8h0.9M653.6 655.8h0.9M642.9 652.2h0.9M629.1 649.2h0.9M645.2 657.0h0.9M642.7 648.3h0.9M630.8 655.9h0.9M627.5 646.7h0.9M649.3 649.4h0.9M644.4 649.5h0.9M633.0 656.1h0.9M637.5 652.8h0.9M637.4 650.9h0.9M648.8 660.8h0.9M636.9 649.9h0.9M649.2 658.4h0.9M640.5 655.7h0.9M634.7 657.8h0.9M642.7 660.3h0.9M650.3 658.2h0.9M649.3 650.9h0.9M652.4 655.7h0.9M626.3 648.5h0.9M634.0 650.4h0.9M644.1 662.2h0.9M642.2 656.6h0.9M641.2 658.7h0.9M634.9 656.2h0.9M640.4 658.8h0.9M637.8 659.6h0.9M652.6 654.1h0.9M640.1 657.4h0.9M640.7 662.3h0.9M654.8 653.5h0.9M653.8 655.8h0.9M651.8 658.8h0.9M631.3 653.2h0.9M653.9 656.0h0.9M651.8 661.5h0.9M637.7 650.1h0.9M634.8 651.5h0.9M634.6 657.8h0.9M652.2 651.3h0.9M650.8 649.7h0.9M632.1 659.1h0.9M626.1 645.6h0.9M637.0 658.6h0.9M653.2 651.9h0.9M648.6 655.1h0.9M644.1 658.7h0.9M639.5 659.7h0.9M641.0 647.9h0.9M644.7 653.5h0.9M640.1 660.1h0.9M644.6 648.3h0.9M654.9 660.1h0.9M649.6 657.5h0.9M645.9 650.3h0.9M656.2 657.5h0.9M640.8 654.3h0.9M651.0 662.0h0.9M653.1 656.7h0.9M630.8 650.1h0.9M642.2 651.1h0.9M642.3 646.4h0.9M637.7 648.7h0.9M650.7 649.0h0.9M629.6 657.6h0.9M641.1 646.9h0.9M646.9 662.8h0.9M633.5 654.6h0.9M641.6 662.0h0.9M636.0 659.3h0.9M637.3 653.7h0.9M636.5 652.5h0.9M642.0 658.3h0.9M644.5 644.3h0.9M639.3 651.1h0.9M652.1 657.2h0.9M654.1 654.3h0.9M633.6 657.2h0.9M645.0 644.8h0.9M648.6 658.4h0.9M629.0 653.7h0.9M647.2 653.3h0.9M634.9 653.1h0.9M644.5 662.0h0.9M650.4 653.1h0.9M649.7 650.7h0.9M653.6 654.2h0.9M650.7 659.9h0.9M650.1 649.8h0.9M636.1 660.8h0.9M642.1 653.9h0.9M628.7 653.3h0.9M649.4 657.5h0.9M636.8 657.6h0.9M630.0 650.3h0.9M641.5 655.6h0.9M634.4 655.6h0.9M634.3 659.3h0.9M653.6 655.0h0.9M644.7 662.6h0.9M628.0 646.0h0.9M640.3 657.7h0.9M641.3 653.3h0.9M637.8 652.8h0.9M645.3 645.9h0.9M644.6 653.7h0.9M640.5 653.6h0.9M630.2 657.6h0.9M653.7 655.3h0.9M653.1 658.6h0.9M637.4 652.0h0.9M639.7 657.7h0.9M630.9 649.0h0.9M638.1 655.4h0.9M652.2 655.7h0.9M648.7 654.2h0.9M646.5 648.0h0.9M647.9 649.0h0.9M643.1 662.2h0.9M643.3 647.2h0.9M631.3 651.8h0.9M651.2 659.1h0.9M636.4 655.2h0.9M635.1 653.4h0.9M635.7 650.1h0.9M644.2 648.3h0.9M651.1 651.1h0.9M632.7 649.6h0.9M643.6 649.2h0.9M641.2 653.8h0.9M648.5 645.6h0.9M661.1 650.6h0.9M661.7 651.0h0.9M661.9 650.3h0.9M661.7 650.0h0.9M661.4 650.6h0.9M661.5 650.3h0.9M661.3 651.3h0.9M658.8 651.6h0.9M647.4 643.4h0.9M645.9 644.5h0.9M645.1 644.2h0.9M646.0 644.4h0.9M645.8 644.6h0.9M646.6 644.3h0.9M647.7 643.4h0.9M644.0 642.6h0.9M646.3 643.8h0.9M646.8 644.1h0.9M642.5 643.3h0.9M647.4 644.1h0.9M524.7 614.7h0.9M524.7 611.3h0.9M526.2 615.0h0.9M530.3 626.5h0.9M534.0 628.8h0.9M525.7 624.1h0.9M526.8 609.6h0.9M523.5 617.6h0.9M519.8 617.4h0.9M525.4 607.2h0.9M527.7 611.0h0.9M529.6 623.9h0.9M519.5 620.6h0.9M525.7 623.2h0.9M522.1 613.7h0.9M518.5 615.9h0.9M524.7 610.8h0.9M521.8 622.7h0.9M521.3 610.1h0.9M531.3 629.2h0.9M524.9 622.6h0.9M523.6 624.7h0.9M519.8 619.5h0.9M521.8 611.2h0.9M530.8 624.5h0.9M522.1 617.8h0.9M533.2 627.6h0.9M525.0 608.5h0.9M527.1 625.5h0.9M525.5 610.1h0.9M523.1 611.3h0.9M527.1 626.2h0.9M515.6 615.7h0.9M526.2 614.7h0.9M516.3 616.2h0.9M527.9 614.7h0.9M525.2 620.5h0.9M525.7 616.5h0.9M532.1 627.6h0.9M527.3 612.4h0.9M528.2 623.2h0.9M525.3 616.3h0.9M523.9 624.4h0.9M522.3 607.1h0.9M528.6 617.7h0.9M521.7 623.9h0.9M519.7 622.9h0.9M523.9 617.4h0.9M521.8 617.1h0.9M527.5 627.5h0.9M522.4 619.9h0.9M524.1 610.9h0.9M533.6 626.0h0.9M521.6 613.0h0.9M530.2 628.8h0.9M528.2 614.4h0.9M528.0 612.7h0.9M522.6 618.5h0.9M528.0 622.2h0.9M532.0 627.2h0.9M516.7 617.5h0.9M531.9 626.9h0.9M518.1 614.0h0.9M523.9 609.1h0.9M519.5 621.6h0.9M525.1 608.2h0.9M534.6 629.6h0.9M519.0 621.8h0.9M528.0 624.8h0.9M522.3 619.4h0.9M524.6 615.5h0.9M524.5 611.6h0.9M524.4 623.6h0.9M533.0 627.7h0.9M523.5 614.8h0.9M522.6 610.8h0.9M525.3 607.5h0.9M528.6 625.6h0.9M527.0 619.5h0.9M527.3 615.7h0.9M525.6 615.9h0.9M529.1 623.6h0.9M525.5 607.1h0.9M526.1 614.6h0.9M527.1 616.4h0.9M517.7 617.4h0.9M518.9 614.9h0.9M521.2 617.8h0.9M518.3 609.9h0.9M518.2 618.2h0.9M525.5 621.4h0.9M520.2 610.9h0.9M523.5 613.1h0.9M523.2 607.1h0.9M518.2 621.3h0.9M515.7 616.4h0.9M517.3 616.5h0.9M530.6 628.3h0.9M520.1 609.0h0.9M527.6 611.5h0.9M523.4 609.4h0.9M523.4 614.3h0.9M527.3 619.4h0.9M518.3 617.3h0.9M522.2 623.3h0.9M522.4 607.0h0.9M522.6 609.1h0.9M527.6 610.7h0.9M532.8 629.8h0.9M519.9 609.5h0.9M517.5 616.8h0.9M527.9 609.3h0.9M528.3 618.3h0.9M521.5 621.7h0.9M528.0 617.5h0.9M516.4 620.1h0.9M524.7 623.1h0.9M520.8 608.1h0.9M533.0 629.8h0.9M521.0 620.2h0.9M520.8 617.5h0.9M516.5 619.2h0.9M521.4 616.9h0.9M521.3 619.3h0.9M526.5 620.1h0.9M524.3 618.6h0.9M520.3 615.3h0.9M520.1 616.5h0.9M521.0 615.8h0.9M528.4 613.4h0.9M532.1 629.1h0.9M522.8 611.1h0.9M520.6 622.2h0.9M523.2 620.4h0.9M526.1 617.0h0.9M525.9 620.1h0.9M522.5 616.7h0.9M522.0 619.1h0.9M534.7 628.9h0.9M518.2 618.6h0.9M516.8 613.6h0.9M524.7 616.0h0.9M522.3 618.1h0.9M566.6 609.7h0.9M557.2 628.9h0.9M551.4 623.9h0.9M555.1 629.3h0.9M559.4 617.3h0.9M561.0 618.7h0.9M561.3 623.2h0.9M560.2 614.0h0.9M558.2 627.8h0.9M556.5 625.1h0.9M562.9 619.9h0.9M558.8 615.2h0.9M560.8 614.5h0.9M562.3 609.5h0.9M551.9 622.7h0.9M561.7 626.7h0.9M556.1 618.3h0.9M563.1 611.9h0.9M556.4 614.6h0.9M568.1 614.5h0.9M562.6 621.1h0.9M566.7 611.8h0.9M558.7 613.3h0.9M550.5 621.9h0.9M555.9 626.7h0.9M559.5 612.9h0.9M558.3 616.8h0.9M562.0 609.8h0.9M563.8 626.2h0.9M559.6 620.3h0.9M550.1 623.1h0.9M563.5 619.5h0.9M557.5 616.1h0.9M557.2 615.5h0.9M561.4 616.3h0.9M566.6 616.1h0.9M556.2 620.2h0.9M550.2 625.9h0.9M567.0 620.6h0.9M561.4 625.1h0.9M560.1 629.6h0.9M568.7 610.5h0.9M556.7 613.5h0.9M562.9 624.3h0.9M562.3 617.6h0.9M562.1 621.9h0.9M558.1 626.3h0.9M560.5 629.0h0.9M552.2 624.7h0.9M564.3 610.7h0.9M555.3 617.9h0.9M563.3 609.3h0.9M553.4 627.4h0.9M560.0 613.8h0.9M552.0 625.5h0.9M555.9 622.4h0.9M569.9 611.9h0.9M554.8 613.7h0.9M558.3 620.3h0.9M555.9 613.7h0.9M562.9 621.1h0.9M558.2 610.9h0.9M563.7 620.0h0.9M555.9 620.9h0.9M562.0 610.3h0.9M553.7 621.1h0.9M560.1 616.0h0.9M551.3 615.1h0.9M564.1 617.0h0.9M560.7 610.4h0.9M563.0 621.8h0.9M554.1 629.5h0.9M560.2 623.5h0.9M551.6 625.6h0.9M563.7 611.7h0.9M557.1 619.7h0.9M565.8 615.7h0.9M561.1 617.2h0.9M558.2 619.8h0.9M563.9 613.0h0.9M562.9 611.0h0.9M555.6 618.6h0.9M559.9 617.4h0.9M568.3 614.7h0.9M564.9 621.5h0.9M551.6 627.1h0.9M565.7 615.2h0.9M555.0 625.9h0.9M566.4 611.4h0.9M564.8 615.2h0.9M559.2 613.2h0.9M551.4 628.1h0.9M561.6 620.3h0.9M558.1 622.7h0.9M570.7 611.5h0.9M567.4 610.0h0.9M558.2 630.5h0.9M552.4 614.6h0.9M569.7 611.2h0.9M556.7 622.3h0.9M552.8 628.1h0.9M563.4 610.9h0.9M567.8 615.0h0.9M550.5 616.3h0.9M554.0 618.1h0.9M557.5 623.2h0.9M563.6 625.3h0.9M550.7 620.5h0.9M554.7 629.1h0.9M557.8 629.5h0.9M562.2 617.9h0.9M550.9 627.6h0.9M559.3 614.1h0.9M554.7 620.4h0.9M559.1 609.6h0.9M558.1 627.3h0.9M557.6 624.3h0.9M555.0 621.2h0.9M549.7 620.5h0.9M562.9 615.2h0.9M559.9 623.2h0.9M557.1 620.9h0.9M558.8 613.4h0.9M551.5 622.8h0.9M554.3 630.5h0.9M568.0 610.1h0.9M569.8 612.7h0.9M557.7 618.9h0.9M562.8 622.3h0.9M551.6 621.9h0.9M564.8 618.0h0.9M558.2 630.3h0.9M555.7 619.0h0.9M566.6 613.4h0.9M565.8 611.7h0.9M558.7 628.6h0.9M554.3 616.8h0.9M550.8 621.7h0.9M552.4 620.1h0.9M565.1 623.0h0.9M536.8 609.2h0.9M535.4 614.9h0.9M531.9 630.8h0.9M533.6 627.7h0.9M529.6 626.5h0.9M527.7 609.2h0.9M552.7 621.9h0.9M545.9 608.9h0.9M547.3 630.0h0.9M542.8 612.1h0.9M549.8 623.3h0.9M533.9 627.8h0.9M529.0 624.7h0.9M550.6 627.9h0.9M548.6 626.2h0.9M532.6 626.7h0.9M551.4 618.7h0.9M546.8 624.0h0.9M542.5 610.3h0.9M545.0 625.4h0.9M530.4 612.2h0.9M553.2 608.7h0.9M550.3 612.2h0.9M552.3 610.3h0.9M536.6 626.6h0.9M531.1 616.1h0.9M531.0 629.5h0.9M552.6 624.3h0.9M533.5 625.7h0.9M531.0 611.8h0.9M551.2 615.9h0.9M542.4 628.0h0.9M532.8 622.2h0.9M528.1 618.2h0.9M546.5 625.0h0.9M528.9 612.7h0.9M528.7 623.0h0.9M550.8 623.6h0.9M549.3 618.0h0.9M535.3 619.2h0.9M552.1 608.4h0.9M540.8 627.4h0.9M548.2 608.6h0.9M533.6 625.2h0.9M544.2 623.0h0.9M537.1 628.0h0.9M533.3 626.1h0.9M529.1 615.1h0.9M540.4 624.1h0.9M549.7 625.5h0.9M549.2 618.1h0.9M534.1 629.8h0.9M530.5 615.1h0.9M540.5 610.3h0.9M543.0 611.3h0.9M542.2 610.1h0.9M543.0 611.4h0.9M542.9 609.9h0.9M544.4 611.4h0.9M552.8 619.7h0.9M556.3 618.4h0.9M549.5 620.7h0.9M554.0 618.8h0.9M559.0 621.9h0.9M554.9 619.6h0.9M554.1 620.0h0.9M554.7 618.3h0.9M558.1 619.0h0.9M554.3 619.9h0.9M554.0 622.3h0.9M556.8 618.7h0.9M558.2 619.5h0.9M552.0 618.0h0.9M556.1 622.1h0.9M556.7 619.8h0.9M554.4 617.9h0.9M536.5 638.1h0.9M539.0 647.3h0.9M549.0 651.6h0.9M546.5 663.3h0.9M536.7 637.7h0.9M547.9 645.4h0.9M538.0 645.5h0.9M557.1 660.7h0.9M540.4 640.1h0.9M563.1 649.5h0.9M555.7 652.2h0.9M551.2 663.6h0.9M531.4 648.6h0.9M550.6 662.7h0.9M539.5 638.2h0.9M556.6 637.8h0.9M560.6 647.5h0.9M553.3 649.8h0.9M555.5 650.0h0.9M565.3 638.9h0.9M534.7 654.9h0.9M556.7 661.6h0.9M538.0 639.5h0.9M558.8 645.1h0.9M542.8 641.9h0.9M560.7 659.2h0.9M555.1 646.1h0.9M539.6 656.2h0.9M544.6 659.8h0.9M534.8 646.4h0.9M556.8 648.5h0.9M534.3 641.1h0.9M566.2 650.8h0.9M573.1 647.2h0.9M573.8 641.6h0.9M537.9 647.5h0.9M552.5 637.3h0.9M561.8 642.3h0.9M528.6 645.7h0.9M566.9 647.6h0.9M531.0 650.1h0.9M568.7 645.7h0.9M558.0 655.8h0.9M571.4 641.8h0.9M551.1 643.3h0.9M548.0 648.6h0.9M543.1 642.5h0.9M565.8 650.8h0.9M539.2 647.5h0.9M545.7 648.9h0.9M552.9 643.5h0.9M556.3 648.6h0.9M531.0 652.1h0.9M558.7 659.6h0.9M543.2 646.2h0.9M546.0 647.4h0.9M552.0 638.9h0.9M545.4 643.9h0.9M551.0 647.7h0.9M552.6 638.8h0.9M546.6 662.0h0.9M537.9 645.9h0.9M547.0 660.8h0.9M546.6 657.9h0.9M556.7 642.6h0.9M539.4 655.7h0.9M559.2 647.7h0.9M576.6 645.8h0.9M557.6 644.8h0.9M564.4 643.6h0.9M535.9 655.6h0.9M532.3 650.3h0.9M573.5 649.0h0.9M568.4 649.8h0.9M557.3 644.6h0.9M556.5 662.2h0.9M539.7 649.2h0.9M541.3 646.8h0.9M540.3 657.9h0.9M540.5 643.9h0.9M569.0 641.8h0.9M538.9 659.7h0.9M571.1 643.4h0.9M539.6 655.6h0.9M536.3 652.4h0.9M541.2 645.4h0.9M544.4 658.1h0.9M537.1 654.4h0.9M545.6 645.4h0.9M542.1 645.4h0.9M558.4 640.7h0.9M546.7 659.7h0.9M561.7 641.0h0.9M546.1 662.9h0.9M554.8 644.6h0.9M570.5 648.2h0.9M547.7 655.8h0.9M551.3 643.3h0.9M540.0 659.6h0.9M564.2 652.5h0.9M552.1 641.7h0.9M535.6 647.9h0.9M554.5 663.6h0.9M537.0 658.1h0.9M562.8 647.9h0.9M539.9 642.4h0.9M573.8 641.9h0.9M542.2 662.3h0.9M543.6 656.8h0.9M530.4 642.9h0.9M534.8 653.1h0.9M548.7 638.5h0.9M547.9 661.4h0.9M578.0 646.4h0.9M570.6 644.6h0.9M548.5 638.2h0.9M577.5 646.3h0.9M551.1 639.5h0.9M545.9 643.7h0.9M531.4 653.8h0.9M557.2 651.6h0.9M577.3 647.7h0.9M543.4 663.1h0.9M546.9 652.6h0.9M536.1 640.8h0.9M547.7 661.7h0.9M556.3 651.0h0.9M571.5 645.8h0.9M555.2 659.0h0.9M536.8 645.9h0.9M567.6 648.1h0.9M565.3 644.4h0.9M557.1 650.5h0.9M541.2 641.4h0.9M561.0 656.1h0.9M576.7 647.4h0.9M554.3 664.3h0.9M539.7 641.3h0.9M574.4 647.3h0.9M556.5 638.5h0.9M554.1 659.3h0.9M541.3 646.2h0.9M549.5 641.5h0.9M575.4 644.3h0.9M530.5 640.2h0.9M561.9 656.7h0.9M551.8 649.8h0.9M532.3 639.1h0.9M573.9 646.2h0.9M530.6 649.6h0.9M552.3 638.7h0.9M540.4 638.9h0.9M549.5 640.8h0.9M545.3 649.7h0.9M559.5 640.3h0.9M539.7 657.3h0.9M530.7 643.2h0.9M532.2 648.3h0.9M575.5 646.9h0.9M538.6 640.5h0.9M559.2 640.3h0.9M558.0 656.4h0.9M560.4 645.7h0.9M547.8 649.0h0.9M555.1 659.8h0.9M540.5 647.1h0.9M553.6 649.1h0.9M568.6 640.3h0.9M534.2 644.8h0.9M550.3 639.0h0.9M549.6 639.6h0.9M540.6 658.2h0.9M571.4 642.7h0.9M546.9 662.7h0.9M554.2 654.0h0.9M555.3 659.1h0.9M554.9 656.3h0.9M568.9 645.4h0.9M554.7 646.5h0.9M529.7 648.6h0.9M557.5 654.2h0.9M550.2 664.6h0.9M535.7 637.9h0.9M540.9 648.8h0.9M554.7 646.7h0.9M574.3 647.8h0.9M567.9 641.9h0.9M539.5 646.8h0.9M537.0 650.7h0.9M544.6 660.7h0.9M554.5 647.6h0.9M533.5 642.8h0.9M563.7 650.9h0.9M550.9 643.2h0.9M545.4 651.0h0.9M561.8 653.5h0.9M571.2 641.3h0.9M569.4 642.4h0.9M540.1 645.3h0.9M568.5 645.8h0.9M573.0 642.3h0.9M554.9 647.3h0.9M547.5 644.8h0.9M552.1 650.0h0.9M550.6 637.9h0.9M539.7 640.9h0.9M562.9 648.0h0.9M560.9 642.3h0.9M534.5 645.0h0.9M528.5 645.0h0.9M551.5 663.7h0.9M564.8 645.5h0.9M535.9 647.4h0.9M530.1 649.3h0.9M569.3 648.2h0.9M539.3 645.3h0.9M535.5 653.8h0.9M568.5 649.2h0.9M537.0 648.0h0.9M544.5 640.0h0.9M533.0 646.7h0.9M538.1 638.3h0.9M551.5 639.6h0.9M558.4 646.3h0.9M548.9 655.4h0.9M558.6 656.7h0.9M549.0 650.9h0.9M537.5 656.5h0.9M567.1 643.8h0.9M543.5 648.3h0.9M547.8 660.7h0.9M560.0 643.7h0.9M566.3 650.5h0.9M544.5 639.8h0.9M556.5 646.5h0.9M565.7 640.6h0.9M550.0 651.7h0.9M558.2 645.4h0.9M562.5 652.3h0.9M554.9 643.6h0.9M556.4 647.0h0.9M540.9 637.2h0.9M557.3 649.5h0.9M547.3 659.8h0.9M546.6 641.3h0.9M532.6 646.6h0.9M537.0 640.0h0.9M547.3 660.2h0.9M537.4 646.1h0.9M540.0 639.5h0.9M530.4 641.9h0.9M543.5 650.5h0.9M563.6 644.3h0.9M551.6 646.0h0.9M539.3 658.2h0.9M556.6 646.5h0.9M540.3 657.9h0.9M578.1 646.0h0.9M544.9 658.4h0.9M556.3 642.0h0.9M548.8 659.6h0.9M546.9 653.7h0.9M537.4 640.7h0.9M550.6 649.3h0.9M553.1 656.7h0.9M556.4 661.6h0.9M553.2 642.8h0.9M540.5 648.5h0.9M545.7 660.4h0.9M542.4 655.2h0.9M532.2 648.9h0.9M557.7 662.1h0.9M560.6 643.7h0.9M542.6 658.4h0.9M551.6 654.6h0.9M533.0 639.7h0.9M563.8 650.1h0.9M543.6 660.5h0.9M535.1 652.2h0.9M558.7 644.2h0.9M559.6 658.6h0.9M559.1 647.7h0.9M548.8 659.3h0.9M553.6 643.1h0.9M564.8 646.5h0.9M531.5 648.0h0.9M554.6 656.7h0.9M539.3 643.8h0.9M552.6 656.0h0.9M531.1 651.4h0.9M562.4 641.7h0.9M544.2 653.6h0.9M548.8 659.0h0.9M551.3 645.5h0.9M553.8 661.4h0.9M544.4 649.3h0.9M531.8 645.7h0.9M555.0 660.2h0.9M540.8 642.5h0.9M540.4 654.9h0.9M538.8 656.7h0.9M576.9 644.9h0.9M560.9 654.7h0.9M559.4 647.6h0.9M560.0 647.8h0.9M529.5 641.6h0.9M550.7 654.1h0.9M535.6 649.5h0.9M549.1 644.5h0.9M559.0 656.0h0.9M569.9 649.5h0.9M550.3 661.7h0.9M567.2 641.8h0.9M543.8 649.3h0.9M545.4 644.4h0.9M553.6 663.0h0.9M545.4 646.3h0.9M539.0 643.4h0.9M568.4 649.0h0.9M557.0 652.4h0.9M540.1 643.6h0.9M544.0 648.8h0.9M558.1 646.6h0.9M545.7 655.8h0.9M565.8 647.7h0.9M576.1 648.2h0.9M534.8 640.2h0.9M538.3 654.9h0.9M530.6 647.1h0.9M559.4 658.8h0.9M549.9 662.0h0.9M555.6 647.6h0.9M558.5 641.0h0.9M565.0 641.0h0.9M557.6 646.9h0.9M576.3 647.8h0.9M572.4 645.6h0.9M572.8 641.4h0.9M543.5 655.7h0.9M554.8 663.8h0.9M539.5 638.1h0.9M556.9 656.2h0.9M539.3 640.7h0.9M532.1 640.5h0.9M540.1 642.1h0.9M545.5 638.8h0.9M551.6 646.5h0.9M537.5 658.0h0.9M533.5 647.6h0.9M548.2 645.8h0.9M558.8 647.6h0.9M533.2 646.7h0.9M532.0 652.2h0.9M533.0 644.0h0.9M550.9 638.3h0.9M537.1 647.8h0.9M537.0 652.6h0.9M536.7 640.4h0.9M535.6 652.5h0.9M543.2 653.6h0.9M569.9 647.3h0.9M534.1 656.2h0.9M541.9 642.7h0.9M556.4 638.7h0.9M535.5 657.3h0.9M552.6 654.9h0.9M542.0 655.6h0.9M546.3 652.7h0.9M553.4 654.6h0.9M549.2 643.8h0.9M538.6 656.1h0.9M536.4 657.2h0.9M569.9 645.2h0.9M559.7 648.1h0.9M562.4 640.5h0.9M568.4 642.8h0.9M537.9 654.4h0.9M555.3 661.4h0.9M531.4 639.0h0.9M548.9 642.0h0.9M572.3 642.7h0.9M568.5 648.1h0.9M544.1 655.5h0.9M550.5 646.7h0.9M538.5 640.8h0.9M551.2 657.9h0.9M549.0 638.0h0.9M542.7 658.5h0.9M550.2 657.2h0.9M537.2 651.6h0.9M570.8 642.9h0.9M538.9 651.4h0.9M551.3 649.9h0.9M535.9 657.0h0.9M575.0 646.9h0.9M532.0 647.3h0.9M554.8 642.4h0.9M553.9 640.6h0.9M549.6 640.4h0.9M546.0 639.9h0.9M533.0 642.4h0.9M539.7 637.1h0.9M554.6 643.5h0.9M555.1 647.1h0.9M541.0 653.0h0.9M573.7 647.5h0.9M540.3 641.3h0.9M549.8 662.6h0.9M542.9 649.7h0.9M539.1 639.8h0.9M544.9 649.6h0.9M574.4 644.6h0.9M561.0 644.8h0.9M559.8 648.9h0.9M554.3 656.6h0.9M539.6 638.8h0.9M553.3 664.1h0.9M549.1 653.1h0.9M539.6 640.3h0.9M533.7 641.8h0.9M558.5 644.4h0.9M566.6 640.2h0.9M575.0 645.2h0.9M532.6 646.4h0.9M546.4 644.0h0.9M576.1 643.1h0.9M545.8 651.9h0.9M530.5 650.5h0.9M530.3 647.4h0.9M528.9 645.6h0.9M540.3 650.0h0.9M552.6 638.4h0.9M557.4 645.0h0.9M544.5 661.4h0.9M546.8 659.7h0.9M553.5 649.8h0.9M543.8 658.0h0.9M553.8 643.9h0.9M558.4 638.9h0.9M534.7 646.9h0.9M552.9 654.2h0.9M545.5 647.1h0.9M574.8 642.9h0.9M557.1 653.3h0.9M540.0 642.5h0.9M564.1 654.2h0.9M538.6 658.9h0.9M532.5 639.8h0.9M559.4 655.9h0.9M542.7 640.6h0.9M567.9 645.2h0.9M539.1 651.3h0.9M562.8 650.5h0.9M543.6 646.4h0.9M564.8 641.0h0.9M537.0 658.0h0.9M530.8 650.7h0.9M558.7 648.0h0.9M547.4 663.5h0.9M560.7 655.3h0.9M536.2 653.1h0.9M564.2 651.7h0.9M546.5 643.8h0.9M532.8 638.5h0.9M557.8 658.2h0.9M569.4 644.2h0.9M528.5 645.7h0.9M541.7 661.4h0.9M551.1 648.7h0.9M540.4 657.8h0.9M545.4 652.3h0.9M551.2 653.0h0.9M549.5 642.8h0.9M577.1 589.1h0.9M575.9 589.3h0.9M574.7 588.5h0.9M574.8 590.2h0.9M574.5 589.5h0.9M574.4 588.8h0.9M574.4 587.4h0.9M553.7 636.7h0.9M549.5 630.9h0.9M551.7 632.4h0.9M551.9 634.4h0.9M548.9 631.8h0.9M550.3 631.3h0.9M548.7 635.3h0.9M550.6 632.8h0.9M554.0 636.1h0.9" stroke="#d2d2d6" stroke-width="0.8"/>
<path d="M560.0 564.6h0.9M568.5 558.3h0.9M571.8 544.8h0.9M577.8 552.5h0.9M559.6 547.8h0.9M569.3 575.3h0.9M564.3 566.9h0.9M554.8 559.8h0.9M576.0 580.0h0.9M575.4 546.4h0.9M554.7 571.3h0.9M578.1 572.6h0.9M557.6 562.7h0.9M565.8 568.7h0.9M573.8 546.8h0.9M570.9 543.5h0.9M566.5 547.4h0.9M578.7 566.5h0.9M572.9 567.0h0.9M563.4 572.4h0.9M555.8 554.9h0.9M560.3 574.8h0.9M563.4 572.6h0.9M578.7 550.9h0.9M580.4 556.2h0.9M578.0 553.9h0.9M566.8 546.1h0.9M581.6 553.1h0.9M576.1 556.0h0.9M555.5 559.5h0.9M559.6 551.2h0.9M563.1 552.4h0.9M570.0 552.9h0.9M556.9 564.1h0.9M574.9 561.1h0.9M571.3 546.1h0.9M569.3 560.0h0.9M558.9 562.5h0.9M566.5 559.4h0.9M571.2 550.6h0.9M558.3 563.9h0.9M560.3 562.3h0.9M566.8 556.7h0.9M572.0 549.3h0.9M568.7 552.7h0.9M592.5 582.5h0.9M585.7 579.7h0.9M585.9 555.6h0.9M599.8 559.3h0.9M591.8 557.0h0.9M597.7 560.4h0.9M597.1 556.1h0.9M592.0 553.6h0.9M592.3 561.5h0.9M590.0 561.7h0.9M584.6 555.6h0.9M607.3 590.8h0.9M613.1 593.2h0.9M604.8 591.3h0.9M604.2 591.1h0.9M613.9 594.4h0.9M603.6 589.8h0.9M613.2 593.4h0.9M606.9 591.0h0.9M605.4 591.7h0.9M615.6 594.4h0.9M621.9 632.4h0.9M623.5 633.7h0.9M635.5 648.2h0.9M643.9 657.7h0.9M646.5 646.7h0.9M643.0 647.3h0.9M629.7 651.7h0.9M640.6 661.7h0.9M645.0 648.5h0.9M632.4 650.2h0.9M645.5 659.9h0.9M651.4 657.2h0.9M647.8 651.3h0.9M649.1 648.7h0.9M638.1 657.4h0.9M648.7 656.3h0.9M652.3 659.2h0.9M652.4 655.2h0.9M646.4 646.2h0.9M644.0 651.8h0.9M641.6 659.5h0.9M632.9 648.4h0.9M650.2 650.2h0.9M647.8 645.8h0.9M639.7 652.1h0.9M532.3 627.7h0.9M525.6 625.3h0.9M535.2 630.7h0.9M533.2 629.1h0.9M525.9 606.9h0.9M522.1 621.9h0.9M527.8 625.2h0.9M517.4 617.5h0.9M535.1 630.8h0.9M534.6 627.1h0.9M519.6 621.1h0.9M523.3 615.4h0.9M525.7 612.2h0.9M533.0 626.2h0.9M521.4 608.0h0.9M524.9 623.0h0.9M518.3 613.7h0.9M521.5 611.7h0.9M521.8 612.0h0.9M526.1 609.1h0.9M522.3 612.0h0.9M524.5 617.2h0.9M535.9 629.7h0.9M527.8 624.5h0.9M520.5 610.5h0.9M519.5 610.2h0.9M522.1 610.2h0.9M516.1 617.1h0.9M520.9 622.1h0.9M518.8 619.2h0.9M525.6 610.9h0.9M520.5 615.9h0.9M522.2 622.9h0.9M524.5 616.7h0.9M516.9 618.3h0.9M531.3 628.3h0.9M525.5 612.8h0.9M530.3 628.9h0.9M523.8 607.9h0.9M524.1 622.7h0.9M516.4 614.8h0.9M517.5 618.5h0.9M521.7 607.6h0.9M523.9 621.9h0.9M530.8 629.2h0.9M535.2 627.6h0.9M529.4 626.7h0.9M526.4 610.3h0.9M519.9 617.8h0.9M522.8 615.9h0.9M520.8 613.1h0.9M522.4 615.4h0.9M520.6 612.5h0.9M520.2 612.4h0.9M534.0 629.8h0.9M521.6 616.4h0.9M521.2 617.1h0.9M528.9 620.8h0.9M526.4 623.5h0.9M521.0 611.8h0.9M516.9 619.9h0.9M518.6 621.3h0.9M518.4 611.0h0.9M525.1 616.4h0.9M531.5 628.5h0.9M522.8 623.0h0.9M536.1 628.6h0.9M521.1 608.9h0.9M520.1 618.3h0.9M523.0 622.5h0.9M519.7 610.3h0.9M516.6 614.2h0.9M522.7 607.4h0.9M521.3 617.8h0.9M525.5 622.2h0.9M517.4 614.3h0.9M528.0 609.9h0.9M521.1 621.6h0.9M522.7 622.8h0.9M525.6 620.5h0.9M524.2 613.1h0.9M519.1 610.9h0.9M525.3 607.3h0.9M518.2 613.8h0.9M517.0 615.2h0.9M526.3 623.5h0.9M528.3 607.9h0.9M527.5 616.7h0.9M524.8 617.4h0.9M528.3 610.4h0.9M528.8 620.3h0.9M525.8 626.2h0.9M527.4 611.1h0.9M529.7 627.6h0.9M522.1 617.6h0.9M531.7 626.8h0.9M523.9 624.3h0.9M517.4 612.7h0.9M517.7 617.7h0.9M526.4 612.0h0.9M522.8 618.3h0.9M527.8 613.6h0.9M525.4 612.6h0.9M534.1 629.2h0.9M532.7 627.2h0.9M520.6 615.2h0.9M532.9 627.9h0.9M515.4 615.7h0.9M522.8 615.4h0.9M523.4 612.9h0.9M531.2 624.4h0.9M524.6 624.5h0.9M525.9 623.3h0.9M528.5 626.4h0.9M525.9 620.5h0.9M516.6 615.9h0.9M519.4 620.1h0.9M526.8 623.2h0.9M526.9 618.1h0.9M525.8 607.7h0.9M523.2 612.7h0.9M524.2 608.1h0.9M524.9 609.3h0.9M526.8 625.6h0.9M521.3 624.0h0.9M523.1 609.1h0.9M519.4 618.0h0.9M520.2 613.9h0.9M529.1 626.8h0.9M519.2 619.2h0.9M521.9 621.3h0.9M526.4 611.6h0.9M526.4 617.8h0.9M527.3 617.1h0.9M523.5 607.7h0.9M522.8 609.1h0.9M523.3 616.8h0.9M524.5 618.5h0.9M532.5 625.6h0.9M526.8 625.0h0.9M527.2 621.6h0.9M519.8 619.6h0.9M533.4 627.5h0.9M520.2 614.3h0.9M524.9 618.4h0.9M524.9 613.5h0.9M526.2 619.8h0.9M535.9 629.8h0.9M566.2 622.3h0.9M562.7 618.7h0.9M556.1 624.1h0.9M559.4 611.7h0.9M562.5 622.7h0.9M560.9 613.7h0.9M562.8 611.7h0.9M553.3 621.1h0.9M558.3 622.3h0.9M557.2 628.4h0.9M565.6 620.0h0.9M555.1 614.2h0.9M557.3 618.1h0.9M552.0 617.1h0.9M564.3 608.9h0.9M559.1 626.4h0.9M556.1 611.6h0.9M566.9 618.4h0.9M558.3 616.7h0.9M549.2 623.6h0.9M568.4 612.7h0.9M556.7 627.1h0.9M566.6 615.3h0.9M568.3 614.9h0.9M559.1 629.3h0.9M559.3 611.5h0.9M556.9 618.5h0.9M563.1 612.3h0.9M557.8 626.9h0.9M566.7 609.4h0.9M557.2 619.1h0.9M564.0 608.6h0.9M555.3 622.4h0.9M553.5 618.3h0.9M557.5 627.2h0.9M562.8 611.4h0.9M554.4 629.8h0.9M549.2 621.8h0.9M556.9 629.1h0.9M557.0 616.9h0.9M558.5 613.7h0.9M555.3 630.0h0.9M566.1 612.6h0.9M553.4 615.6h0.9M555.9 617.8h0.9M561.4 615.9h0.9M558.9 624.1h0.9M557.4 612.6h0.9M557.2 610.6h0.9M558.8 611.3h0.9M558.3 626.1h0.9M559.7 622.7h0.9M570.7 612.5h0.9M566.2 618.9h0.9M552.7 618.8h0.9M560.5 614.7h0.9M562.9 609.5h0.9M550.6 627.2h0.9M558.9 616.7h0.9M560.1 621.9h0.9M557.1 612.8h0.9M565.3 623.1h0.9M562.8 613.7h0.9M566.1 619.9h0.9M568.4 614.9h0.9M562.2 622.6h0.9M563.2 621.4h0.9M569.6 610.1h0.9M554.2 625.8h0.9M561.2 627.7h0.9M563.3 625.5h0.9M554.1 621.1h0.9M561.4 618.1h0.9M563.6 625.8h0.9M553.5 614.9h0.9M562.4 628.1h0.9M562.5 614.9h0.9M550.9 626.0h0.9M551.9 616.1h0.9M553.8 622.7h0.9M557.6 625.0h0.9M556.8 626.5h0.9M568.4 610.5h0.9M554.8 630.9h0.9M570.3 610.4h0.9M558.0 627.9h0.9M552.1 621.9h0.9M554.6 615.7h0.9M558.8 626.4h0.9M560.4 626.6h0.9M559.5 627.3h0.9M557.2 617.9h0.9M556.6 629.9h0.9M562.2 614.6h0.9M552.2 624.7h0.9M558.1 619.9h0.9M551.4 621.8h0.9M550.7 620.5h0.9M555.3 627.3h0.9M564.6 610.4h0.9M562.1 625.6h0.9M556.6 613.1h0.9M554.4 625.4h0.9M555.2 618.6h0.9M559.4 614.1h0.9M562.1 620.7h0.9M553.6 616.6h0.9M556.2 625.8h0.9M554.7 613.7h0.9M558.6 620.7h0.9M570.5 612.4h0.9M567.8 618.7h0.9M559.2 614.0h0.9M559.7 625.5h0.9M567.9 611.3h0.9M559.2 609.7h0.9M567.0 610.5h0.9M553.6 622.4h0.9M564.6 617.8h0.9M560.6 612.8h0.9M551.8 617.7h0.9M553.5 619.5h0.9M562.4 614.3h0.9M561.8 623.8h0.9M557.4 621.4h0.9M552.6 617.3h0.9M557.1 611.1h0.9M560.6 627.5h0.9M561.4 619.3h0.9M565.0 620.5h0.9M552.8 620.5h0.9M556.6 624.1h0.9M562.3 617.8h0.9M549.2 621.9h0.9M561.6 621.7h0.9M534.1 619.9h0.9M530.1 630.8h0.9M531.7 614.0h0.9M537.2 621.1h0.9M527.5 618.4h0.9M536.5 630.8h0.9M541.5 629.0h0.9M550.0 624.7h0.9M550.5 612.9h0.9M546.8 631.2h0.9M538.6 622.7h0.9M535.7 616.2h0.9M528.5 619.6h0.9M532.9 616.7h0.9M547.4 630.0h0.9M534.3 614.7h0.9M538.9 625.4h0.9M547.4 623.3h0.9M550.7 618.8h0.9M548.2 609.5h0.9M550.7 621.9h0.9M533.3 624.2h0.9M535.9 627.8h0.9M544.2 610.7h0.9M528.4 626.1h0.9M543.8 624.6h0.9M544.1 609.4h0.9M547.4 623.3h0.9M550.3 623.2h0.9M549.0 623.8h0.9M546.7 624.1h0.9M538.5 608.6h0.9M532.4 627.1h0.9M534.9 617.4h0.9M553.3 609.6h0.9M534.8 612.1h0.9M537.5 626.9h0.9M552.9 621.2h0.9M535.4 621.0h0.9M535.3 619.6h0.9M552.2 614.0h0.9M546.6 611.6h0.9M541.4 624.4h0.9M528.6 612.2h0.9M535.7 620.1h0.9M533.5 625.8h0.9M533.2 611.1h0.9M527.8 621.7h0.9M536.8 608.7h0.9M529.5 620.8h0.9M545.4 609.7h0.9M544.2 610.7h0.9M543.3 608.4h0.9M541.6 610.3h0.9M543.9 609.5h0.9M544.5 609.5h0.9M541.6 610.4h0.9M553.6 620.5h0.9M554.1 620.8h0.9M556.3 619.4h0.9M557.0 619.8h0.9M557.0 618.9h0.9M556.9 617.1h0.9M557.5 617.6h0.9M557.1 620.5h0.9M552.6 616.7h0.9M557.5 622.6h0.9M558.9 618.0h0.9M559.5 621.0h0.9M558.4 619.2h0.9M558.8 622.0h0.9M557.2 620.5h0.9M557.2 621.8h0.9M555.7 620.5h0.9M552.8 619.1h0.9M557.0 619.0h0.9M553.7 624.0h0.9M555.3 618.5h0.9M560.8 654.8h0.9M575.2 644.4h0.9M559.6 643.5h0.9M539.1 646.3h0.9M563.7 643.0h0.9M553.6 639.3h0.9M542.3 657.2h0.9M545.2 652.0h0.9M545.5 655.1h0.9M550.4 645.4h0.9M548.9 654.7h0.9M570.3 649.4h0.9M531.7 638.7h0.9M566.3 651.3h0.9M541.9 642.7h0.9M573.2 642.1h0.9M548.7 644.1h0.9M540.0 644.7h0.9M553.3 655.6h0.9M542.7 638.7h0.9M550.9 640.5h0.9M549.4 658.9h0.9M555.0 650.4h0.9M539.0 645.6h0.9M560.8 641.2h0.9M558.9 642.3h0.9M575.0 646.2h0.9M560.3 649.9h0.9M535.4 656.9h0.9M538.1 649.1h0.9M552.3 654.9h0.9M563.2 647.0h0.9M556.0 647.0h0.9M542.8 648.3h0.9M548.2 659.7h0.9M550.0 640.6h0.9M549.5 661.8h0.9M538.7 637.2h0.9M556.5 660.5h0.9M543.5 650.6h0.9M546.6 640.4h0.9M545.1 649.4h0.9M565.2 648.2h0.9M537.4 653.6h0.9M563.8 639.9h0.9M566.0 647.6h0.9M553.8 649.6h0.9M550.5 657.6h0.9M540.1 637.2h0.9M528.9 641.9h0.9M543.4 653.6h0.9M529.3 648.0h0.9M552.1 657.1h0.9M561.5 653.7h0.9M537.9 656.4h0.9M566.8 643.1h0.9M567.8 644.3h0.9M546.3 659.3h0.9M549.1 642.7h0.9M556.2 653.4h0.9M531.7 644.9h0.9M539.8 648.8h0.9M571.5 641.7h0.9M556.1 644.4h0.9M562.2 639.7h0.9M561.0 647.9h0.9M562.0 648.7h0.9M565.3 640.1h0.9M549.9 644.9h0.9M528.4 642.2h0.9M548.0 646.7h0.9M552.3 659.6h0.9M553.9 660.1h0.9M538.3 655.3h0.9M551.1 660.9h0.9M574.0 647.4h0.9M539.3 651.8h0.9M543.4 660.1h0.9M532.1 639.1h0.9M553.1 662.9h0.9M563.2 644.2h0.9M539.8 651.6h0.9M563.2 653.4h0.9M556.1 659.5h0.9M567.3 649.2h0.9M537.3 654.4h0.9M557.7 643.3h0.9M548.8 646.1h0.9M541.5 644.4h0.9M556.3 651.9h0.9M537.8 637.2h0.9M554.2 642.8h0.9M568.6 646.9h0.9M572.3 641.3h0.9M558.2 647.9h0.9M541.0 636.7h0.9M577.0 646.8h0.9M561.7 648.9h0.9M569.9 648.7h0.9M567.6 647.5h0.9M534.5 653.7h0.9M562.2 641.9h0.9M543.6 647.5h0.9M551.7 655.0h0.9M536.9 656.8h0.9M543.6 649.4h0.9M546.7 640.6h0.9M560.3 650.1h0.9M544.2 636.8h0.9M548.5 647.1h0.9M540.6 641.7h0.9M547.7 651.9h0.9M537.6 652.0h0.9M567.4 650.9h0.9M540.8 654.5h0.9M537.3 638.5h0.9M576.0 646.6h0.9M542.5 639.7h0.9M539.1 646.4h0.9M563.7 648.7h0.9M543.4 659.6h0.9M556.8 654.9h0.9M563.3 648.7h0.9M548.4 652.1h0.9M538.7 652.8h0.9M577.2 648.2h0.9M564.8 646.7h0.9M566.1 651.6h0.9M550.8 646.6h0.9M555.8 645.3h0.9M545.2 655.9h0.9M537.1 645.4h0.9M539.7 650.4h0.9M561.2 657.8h0.9M552.0 656.8h0.9M558.7 654.0h0.9M546.5 638.3h0.9M566.0 646.9h0.9M555.6 644.6h0.9M540.5 642.4h0.9M574.1 648.7h0.9M547.8 646.7h0.9M548.4 664.5h0.9M536.5 639.2h0.9M554.4 644.0h0.9M544.8 653.7h0.9M545.1 645.9h0.9M552.9 656.0h0.9M551.1 650.6h0.9M545.1 646.7h0.9M560.8 653.8h0.9M573.4 644.2h0.9M539.6 637.2h0.9M552.9 659.1h0.9M543.6 657.5h0.9M572.4 647.3h0.9M557.8 656.6h0.9M535.4 645.9h0.9M551.5 639.0h0.9M563.2 643.0h0.9M535.6 645.7h0.9M558.9 651.0h0.9M552.8 655.9h0.9M555.3 646.9h0.9M555.5 640.9h0.9M558.1 644.8h0.9M543.1 642.6h0.9M533.7 652.6h0.9M543.3 640.1h0.9M530.4 640.7h0.9M559.6 641.7h0.9M540.6 652.6h0.9M559.7 654.0h0.9M532.5 651.7h0.9M545.1 641.5h0.9M560.8 658.6h0.9M570.8 644.3h0.9M545.5 658.9h0.9M565.7 652.0h0.9M556.4 648.9h0.9M550.6 662.6h0.9M548.6 637.9h0.9M529.1 649.4h0.9M569.8 644.1h0.9M565.6 647.1h0.9M561.1 653.0h0.9M547.0 654.3h0.9M535.1 656.1h0.9M543.5 661.8h0.9M554.9 656.1h0.9M562.5 654.4h0.9M533.3 637.6h0.9M552.4 662.9h0.9M556.7 660.2h0.9M544.7 652.4h0.9M568.3 644.9h0.9M549.6 645.6h0.9M542.2 650.9h0.9M529.2 647.5h0.9M543.9 648.3h0.9M531.2 650.5h0.9M573.7 641.9h0.9M567.2 649.8h0.9M531.3 645.0h0.9M570.1 645.6h0.9M554.1 642.1h0.9M562.5 642.6h0.9M537.8 651.3h0.9M558.1 649.9h0.9M553.9 657.1h0.9M545.8 646.7h0.9M545.0 639.4h0.9M537.4 643.4h0.9M549.2 637.2h0.9M531.3 646.4h0.9M539.9 638.9h0.9M556.0 637.7h0.9M545.7 641.4h0.9M544.9 644.3h0.9M543.5 659.3h0.9M553.2 637.8h0.9M547.4 639.1h0.9M545.6 656.3h0.9M573.0 647.2h0.9M541.0 661.0h0.9M560.3 640.0h0.9M558.0 659.8h0.9M544.3 641.5h0.9M538.7 641.4h0.9M560.0 639.9h0.9M539.5 647.6h0.9M538.0 643.5h0.9M539.5 639.5h0.9M555.9 643.8h0.9M536.9 641.8h0.9M572.1 640.9h0.9M546.8 649.6h0.9M540.5 651.1h0.9M533.7 647.2h0.9M549.6 660.1h0.9M538.8 658.0h0.9M573.1 647.6h0.9M557.5 656.6h0.9M554.1 660.1h0.9M558.3 655.1h0.9M529.5 649.4h0.9M547.7 660.0h0.9M574.4 644.5h0.9M529.4 645.2h0.9M548.6 638.5h0.9M556.1 661.3h0.9M534.4 651.1h0.9M560.4 651.2h0.9M539.3 643.4h0.9M564.7 642.1h0.9M541.7 654.0h0.9M547.0 664.2h0.9M573.4 648.6h0.9M533.5 654.4h0.9M554.3 653.5h0.9M535.4 645.0h0.9M544.4 642.1h0.9M564.2 647.9h0.9M545.6 655.1h0.9M540.9 644.2h0.9M561.4 639.7h0.9M572.3 647.9h0.9M560.4 648.9h0.9M544.4 641.6h0.9M568.9 647.7h0.9M534.8 649.5h0.9M548.4 652.6h0.9M549.7 664.3h0.9M565.9 648.7h0.9M575.6 647.1h0.9M539.6 651.2h0.9M554.6 643.7h0.9M563.1 639.2h0.9M556.2 662.7h0.9M544.4 650.8h0.9M553.3 645.6h0.9M555.1 654.8h0.9M550.7 647.6h0.9M539.3 652.9h0.9M530.6 643.0h0.9M554.8 638.7h0.9M548.4 655.6h0.9M549.3 651.7h0.9M553.2 662.7h0.9M554.6 647.4h0.9M567.3 650.6h0.9M562.1 638.2h0.9M554.8 653.2h0.9M530.7 649.3h0.9M562.0 656.1h0.9M536.7 658.1h0.9M537.6 650.9h0.9M533.4 638.8h0.9M543.3 637.5h0.9M537.2 645.7h0.9M546.6 649.0h0.9M539.2 643.7h0.9M553.1 637.8h0.9M544.3 642.7h0.9M562.2 656.3h0.9M540.6 645.9h0.9M552.3 639.2h0.9M553.1 655.7h0.9M558.1 649.0h0.9M569.6 646.7h0.9M543.5 646.2h0.9M562.7 656.6h0.9M539.7 653.1h0.9M545.7 639.0h0.9M531.9 648.8h0.9M552.5 647.4h0.9M551.5 662.5h0.9M538.4 643.4h0.9M534.5 653.9h0.9M562.7 649.4h0.9M565.6 647.5h0.9M557.4 645.5h0.9M560.1 642.0h0.9M541.2 646.2h0.9M529.5 643.9h0.9M555.7 648.6h0.9M540.1 642.2h0.9M539.3 652.2h0.9M537.7 639.0h0.9M554.8 640.8h0.9M542.4 646.4h0.9M550.6 640.4h0.9M570.9 640.5h0.9M547.3 654.2h0.9M542.4 655.3h0.9M570.8 641.6h0.9M568.2 642.8h0.9M557.6 650.2h0.9M537.4 646.0h0.9M576.1 648.3h0.9M544.3 655.4h0.9M561.1 648.3h0.9M535.2 644.3h0.9M575.1 645.6h0.9M559.9 655.3h0.9M556.4 638.5h0.9M530.3 646.7h0.9M559.6 658.7h0.9M544.6 652.4h0.9M551.4 654.8h0.9M531.8 641.3h0.9M540.4 652.5h0.9M549.7 660.4h0.9M557.2 646.8h0.9M569.1 642.3h0.9M541.3 646.6h0.9M545.7 660.2h0.9M564.5 645.6h0.9M543.2 662.3h0.9M566.0 642.8h0.9M529.9 642.0h0.9M552.3 645.6h0.9M537.1 649.8h0.9M567.1 645.0h0.9M564.0 644.0h0.9M536.1 651.6h0.9M561.1 657.4h0.9M532.8 644.3h0.9M560.9 657.0h0.9M546.1 646.7h0.9M553.1 644.7h0.9M541.4 640.5h0.9M552.6 644.9h0.9M558.5 654.5h0.9M545.4 657.9h0.9M530.4 639.4h0.9M535.4 642.7h0.9M554.9 661.8h0.9M565.0 650.7h0.9M558.5 653.7h0.9M549.1 639.1h0.9M540.9 650.3h0.9M564.5 639.1h0.9M554.9 656.0h0.9M544.0 657.5h0.9M561.3 657.1h0.9M540.5 659.2h0.9M559.2 659.9h0.9M540.4 642.3h0.9M548.3 651.2h0.9M548.6 645.4h0.9M559.8 652.9h0.9M549.5 648.0h0.9M549.4 649.8h0.9M543.3 640.1h0.9M563.3 655.4h0.9M556.8 642.4h0.9M569.3 641.1h0.9M548.3 655.0h0.9M547.8 659.5h0.9M533.6 652.6h0.9M558.9 651.3h0.9M556.1 646.6h0.9M536.1 654.7h0.9M553.6 657.3h0.9M552.4 649.3h0.9M568.3 643.2h0.9M572.8 641.5h0.9M536.8 655.6h0.9M552.3 637.9h0.9M535.6 649.3h0.9M562.0 657.4h0.9M534.8 649.8h0.9M540.5 658.1h0.9M552.1 662.1h0.9M548.6 646.1h0.9M564.3 649.1h0.9M531.7 646.1h0.9M545.5 662.9h0.9M544.3 643.6h0.9M538.2 637.1h0.9M545.4 656.1h0.9M536.0 640.8h0.9M577.4 647.4h0.9M545.3 641.3h0.9M550.2 639.9h0.9M551.6 639.7h0.9M536.9 638.5h0.9M533.3 643.6h0.9M564.2 644.0h0.9M545.8 642.6h0.9M533.2 639.6h0.9M553.4 640.5h0.9M560.3 653.8h0.9M563.5 654.0h0.9M542.8 661.4h0.9M549.9 653.8h0.9M541.1 647.7h0.9M541.6 654.5h0.9M571.7 645.6h0.9M533.6 647.3h0.9M557.5 657.8h0.9M559.7 655.7h0.9M533.2 645.4h0.9M541.8 642.4h0.9M568.0 646.6h0.9M557.8 640.7h0.9M571.1 640.9h0.9M547.2 644.1h0.9M553.1 647.4h0.9M574.5 648.1h0.9M529.8 644.0h0.9M577.6 646.8h0.9M545.6 642.9h0.9M542.1 657.5h0.9M558.5 641.4h0.9M555.6 662.8h0.9M537.1 656.3h0.9M537.7 654.8h0.9M569.8 642.0h0.9M557.5 660.2h0.9M539.9 646.1h0.9M544.2 654.2h0.9M540.7 660.8h0.9M552.9 642.0h0.9M545.2 657.0h0.9M554.0 641.3h0.9M575.4 647.0h0.9M551.5 651.6h0.9M547.1 636.9h0.9M541.7 659.5h0.9M559.8 652.8h0.9M531.6 643.6h0.9M535.1 650.0h0.9M553.6 648.2h0.9M544.5 658.3h0.9M529.8 646.8h0.9M564.8 641.6h0.9M548.6 653.2h0.9M533.1 647.4h0.9M576.9 646.7h0.9M539.8 649.9h0.9M554.2 653.8h0.9M557.4 661.9h0.9M563.0 650.4h0.9M557.4 655.7h0.9M562.1 645.5h0.9M558.9 654.4h0.9M562.8 648.0h0.9M561.7 647.9h0.9M544.8 659.7h0.9M545.7 646.4h0.9M554.0 643.9h0.9M550.4 658.6h0.9M568.1 645.6h0.9M562.0 644.4h0.9M543.1 639.9h0.9M529.9 640.9h0.9M573.5 588.5h0.9M574.2 589.0h0.9M575.4 588.6h0.9M574.7 590.2h0.9M575.3 589.4h0.9M576.3 589.1h0.9M574.5 587.4h0.9M551.0 636.1h0.9M548.9 632.1h0.9M552.0 636.2h0.9M553.0 638.3h0.9M551.8 635.0h0.9M551.0 632.3h0.9M549.4 632.1h0.9M550.4 635.0h0.9M551.9 634.1h0.9" stroke="#bcb2ee" stroke-width="0.8"/>
<path d="M577.4 553.7h0.9M561.9 570.9h0.9M559.2 566.2h0.9M568.4 552.8h0.9M556.1 553.7h0.9M564.2 564.0h0.9M565.2 549.7h0.9M569.4 559.6h0.9M572.7 550.7h0.9M562.5 553.7h0.9M561.6 564.9h0.9M575.7 557.2h0.9M575.8 565.0h0.9M576.1 555.3h0.9M575.1 556.7h0.9M562.7 561.0h0.9M554.6 560.9h0.9M569.1 563.6h0.9M558.7 562.4h0.9M562.3 558.3h0.9M569.2 550.0h0.9M571.1 558.3h0.9M584.4 559.7h0.9M588.5 561.1h0.9M596.9 557.6h0.9M585.5 556.3h0.9M643.7 655.1h0.9M636.9 657.5h0.9M626.3 649.6h0.9M525.3 624.2h0.9M528.6 615.7h0.9M524.7 620.3h0.9M527.3 620.6h0.9M522.9 615.1h0.9M525.2 623.7h0.9M520.7 618.5h0.9M526.4 609.8h0.9M525.1 625.5h0.9M560.3 613.2h0.9M558.9 620.5h0.9M563.2 617.8h0.9M552.7 628.1h0.9M556.2 625.9h0.9M528.8 614.7h0.9M553.1 624.3h0.9M529.6 630.1h0.9M540.3 609.1h0.9M534.6 618.1h0.9M542.6 627.0h0.9M550.4 622.1h0.9M542.6 610.4h0.9M543.4 610.2h0.9M557.9 619.1h0.9M552.5 613.6h0.9M543.5 637.9h0.9M570.3 640.7h0.9M559.1 658.9h0.9M529.1 641.1h0.9M536.6 653.6h0.9M550.9 663.3h0.9M550.1 655.4h0.9M541.7 660.2h0.9M534.8 653.7h0.9M547.8 662.9h0.9M549.7 648.5h0.9M576.6 644.9h0.9M552.3 652.7h0.9M532.3 646.5h0.9M531.3 639.3h0.9M536.2 649.2h0.9M545.6 660.7h0.9M564.4 646.5h0.9M540.6 639.1h0.9M533.2 651.2h0.9M541.5 644.0h0.9M551.0 656.4h0.9M530.8 648.5h0.9M536.7 657.6h0.9M548.3 661.9h0.9M553.9 644.9h0.9M548.1 639.9h0.9M556.0 641.4h0.9M531.9 649.5h0.9M573.6 590.1h0.9M550.5 633.3h0.9M548.7 633.1h0.9" stroke="#8a7cea" stroke-width="0.8"/>
<path d="M507.5 535 V672.6 H671.1" stroke="#777" stroke-width="0.8" fill="none"/>
<line x1="506.10" y1="547.50" x2="507.50" y2="547.50" stroke="#444" stroke-width="0.5" />
<text x="505.5" y="548.8" font-size="3.6" fill="#555" stroke="#555" stroke-width="0.08" text-anchor="end">10</text>
<line x1="506.10" y1="578.80" x2="507.50" y2="578.80" stroke="#444" stroke-width="0.5" />
<text x="505.5" y="580.1" font-size="3.6" fill="#555" stroke="#555" stroke-width="0.08" text-anchor="end">5</text>
<line x1="506.10" y1="610.00" x2="507.50" y2="610.00" stroke="#444" stroke-width="0.5" />
<text x="505.5" y="611.3" font-size="3.6" fill="#555" stroke="#555" stroke-width="0.08" text-anchor="end">0</text>
<line x1="506.10" y1="641.20" x2="507.50" y2="641.20" stroke="#444" stroke-width="0.5" />
<text x="505.5" y="642.5" font-size="3.6" fill="#555" stroke="#555" stroke-width="0.08" text-anchor="end">-5</text>
<line x1="506.10" y1="672.60" x2="507.50" y2="672.60" stroke="#444" stroke-width="0.5" />
<text x="505.5" y="673.9" font-size="3.6" fill="#555" stroke="#555" stroke-width="0.08" text-anchor="end">-10</text>
<line x1="530.20" y1="672.60" x2="530.20" y2="674.00" stroke="#444" stroke-width="0.5" />
<text x="530.2" y="677.8" font-size="3.6" fill="#555" stroke="#555" stroke-width="0.08" text-anchor="middle">-5</text>
<line x1="569.30" y1="672.60" x2="569.30" y2="674.00" stroke="#444" stroke-width="0.5" />
<text x="569.3" y="677.8" font-size="3.6" fill="#555" stroke="#555" stroke-width="0.08" text-anchor="middle">0</text>
<line x1="608.70" y1="672.60" x2="608.70" y2="674.00" stroke="#444" stroke-width="0.5" />
<text x="608.7" y="677.8" font-size="3.6" fill="#555" stroke="#555" stroke-width="0.08" text-anchor="middle">5</text>
<line x1="648.10" y1="672.60" x2="648.10" y2="674.00" stroke="#444" stroke-width="0.5" />
<text x="648.1" y="677.8" font-size="3.6" fill="#555" stroke="#555" stroke-width="0.08" text-anchor="middle">10</text>
<text x="589.3" y="682.2" font-size="3.6" fill="#555" stroke="#555" stroke-width="0.08" text-anchor="middle">umap_1</text>
<text x="558.8" y="533.0" font-size="10.3" fill="#000" stroke="#000" stroke-width="0.22" font-weight="bold" font-style="italic">HSCHARME</text>
<defs><linearGradient id="cb" x1="0" y1="0" x2="0" y2="1"><stop offset="0" stop-color="#1c0cf2"/><stop offset="0.5" stop-color="#8a78e4"/><stop offset="1" stop-color="#d6d2da"/></linearGradient></defs>
<rect x="659.10" y="532.90" width="6.10" height="38.90" fill="url(#cb)" />
<text x="668.3" y="540.5" font-size="4.8" fill="#333" stroke="#333" stroke-width="0.10">4</text>
<text x="668.3" y="548.7" font-size="4.8" fill="#333" stroke="#333" stroke-width="0.10">3</text>
<text x="668.3" y="557.3" font-size="4.8" fill="#333" stroke="#333" stroke-width="0.10">2</text>
<text x="668.3" y="565.5" font-size="4.8" fill="#333" stroke="#333" stroke-width="0.10">1</text>
<text x="668.3" y="573.7" font-size="4.8" fill="#333" stroke="#333" stroke-width="0.10">0</text>
<text x="2.6" y="707.7" font-size="18.3" fill="#000" stroke="#000" stroke-width="0.38" font-weight="bold">E</text>
<text x="183.5" y="718.0" font-size="11.6" fill="#000" stroke="#000" stroke-width="0.24" font-weight="bold">ChIP-seq from human CM</text>
<text x="183.5" y="733.9" font-size="9.0" fill="#111" stroke="#111" stroke-width="0.19" font-style="italic">Hg38 chr19:50,500,062-50,502,536</text>
<line x1="90.00" y1="746.40" x2="210.80" y2="746.40" stroke="#222" stroke-width="0.9" />
<line x1="284.00" y1="746.40" x2="405.00" y2="746.40" stroke="#222" stroke-width="0.9" />
<path d="M85.3 746.4 L92.8 742.6 L90.4 746.4 L92.8 750.2 Z M409.7 746.4 L402.2 742.6 L404.6 746.4 L402.2 750.2 Z" fill="#111"/>
<text x="227.9" y="749.6" font-size="11.6" fill="#111" stroke="#111" stroke-width="0.24">~2.5 kb</text>
<line x1="83.30" y1="741.40" x2="83.30" y2="869.70" stroke="#eeb4bd" stroke-width="1.2" />
<text x="80.6" y="767.6" font-size="11.4" fill="#c80d12" stroke="#c80d12" stroke-width="0.24" text-anchor="end" font-weight="bold">TBX5</text>
<text x="80.6" y="784.9" font-size="11.3" fill="#8a8a8a" stroke="#8a8a8a" stroke-width="0.24" text-anchor="end" font-weight="bold">MED1</text>
<text x="80.6" y="798.4" font-size="11.3" fill="#8a8a8a" stroke="#8a8a8a" stroke-width="0.24" text-anchor="end" font-weight="bold">ETS1</text>
<text x="80.6" y="812.4" font-size="11.3" fill="#8a8a8a" stroke="#8a8a8a" stroke-width="0.24" text-anchor="end" font-weight="bold">GATA4</text>
<text x="80.6" y="825.3" font-size="11.3" fill="#8a8a8a" stroke="#8a8a8a" stroke-width="0.24" text-anchor="end" font-weight="bold">ESRRG</text>
<rect x="85.60" y="756.80" width="96.50" height="3.80" fill="#c80d12" />
<rect x="85.60" y="762.00" width="96.50" height="3.80" fill="#c80d12" />
<rect x="95.60" y="766.70" width="151.70" height="3.90" fill="#c80d12" />
<rect x="262.90" y="756.80" width="42.80" height="3.60" fill="#c80d12" />
<rect x="329.50" y="757.10" width="53.30" height="3.70" fill="#c80d12" />
<rect x="85.60" y="776.20" width="96.50" height="3.60" fill="#8a8a8a" />
<rect x="193.60" y="776.20" width="96.80" height="3.60" fill="#8a8a8a" />
<rect x="85.60" y="782.10" width="96.50" height="3.60" fill="#8a8a8a" />
<rect x="193.60" y="782.10" width="96.80" height="3.60" fill="#8a8a8a" />
<rect x="97.20" y="790.00" width="168.10" height="4.00" fill="#8a8a8a" />
<rect x="102.60" y="799.10" width="60.50" height="4.00" fill="#8a8a8a" />
<rect x="110.10" y="803.90" width="45.60" height="4.00" fill="#8a8a8a" />
<rect x="112.40" y="808.50" width="35.10" height="3.60" fill="#8a8a8a" />
<rect x="112.40" y="813.10" width="35.10" height="3.60" fill="#8a8a8a" />
<rect x="105.00" y="819.00" width="187.90" height="3.90" fill="#8a8a8a" />
<rect x="301.70" y="819.20" width="67.80" height="3.80" fill="#8a8a8a" />
<rect x="113.10" y="828.00" width="5.10" height="3.50" fill="#000" />
<rect x="122.20" y="828.00" width="5.10" height="3.50" fill="#000" />
<rect x="137.70" y="828.00" width="5.10" height="3.50" fill="#000" />
<rect x="175.00" y="828.00" width="5.10" height="3.50" fill="#000" />
<rect x="184.40" y="828.00" width="5.10" height="3.50" fill="#000" />
<rect x="193.70" y="828.00" width="5.10" height="3.50" fill="#000" />
<rect x="240.20" y="828.00" width="5.10" height="3.50" fill="#000" />
<rect x="247.00" y="828.00" width="5.10" height="3.50" fill="#000" />
<rect x="269.00" y="828.00" width="5.10" height="3.50" fill="#000" />
<rect x="288.70" y="828.00" width="5.10" height="3.50" fill="#000" />
<rect x="302.70" y="828.00" width="5.10" height="3.50" fill="#000" />
<rect x="315.00" y="828.00" width="5.10" height="3.50" fill="#000" />
<rect x="331.40" y="828.00" width="5.10" height="3.50" fill="#000" />
<rect x="340.30" y="828.00" width="5.10" height="3.50" fill="#000" />
<rect x="380.00" y="828.00" width="5.10" height="3.50" fill="#000" />
<rect x="396.80" y="828.00" width="5.10" height="3.50" fill="#000" />
<path d="M138 866.2H406" stroke="#d8c8d0" stroke-width="0.9"/>
<path d="M262.1 866.2h1.1M175.1 866.2h1.8M139.7 866.2h1.3M378.7 866.2h0.7M286.5 866.2h1.5M149.0 866.2h1.1M326.5 866.2h1.2M332.3 866.2h0.8M201.8 866.2h0.8M273.7 866.2h1.9M296.2 866.2h1.7M240.8 866.2h1.6M165.2 866.2h1.0M318.7 866.2h1.6M251.0 866.2h0.7M209.5 866.2h0.9M213.4 866.2h1.7M191.5 866.2h1.8M373.7 866.2h0.7M239.5 866.2h1.3M144.3 866.2h1.2M380.9 866.2h0.8M298.0 866.2h0.8M293.1 866.2h1.9M192.4 866.2h0.6M160.4 866.2h1.4M142.7 866.2h0.7M271.1 866.2h1.9M250.6 866.2h1.2M309.2 866.2h0.7M293.4 866.2h0.8M301.2 866.2h1.9M152.5 866.2h1.4M300.5 866.2h0.8M209.9 866.2h2.0M405.5 866.2h0.8M327.1 866.2h1.9M201.5 866.2h1.5M149.5 866.2h1.1M318.7 866.2h1.4M345.6 866.2h0.7M231.0 866.2h1.8M294.5 866.2h1.2M245.8 866.2h2.0M291.9 866.2h0.6M352.2 866.2h1.1M254.2 866.2h0.9M257.0 866.2h1.1M161.8 866.2h1.5M165.6 866.2h1.7M144.8 866.2h1.7M354.4 866.2h1.3M328.1 866.2h0.9M335.7 866.2h1.2M199.9 866.2h1.9M245.4 866.2h1.1M368.5 866.2h1.1M316.9 866.2h0.8M364.0 866.2h1.0M151.5 866.2h2.0" stroke="#d88898" stroke-width="0.9"/>
<path d="M184.3 866.2h1.9M402.3 866.2h1.4M141.2 866.2h0.7M193.9 866.2h1.1M301.9 866.2h2.0M233.0 866.2h0.8M288.6 866.2h0.8M161.2 866.2h1.4M324.5 866.2h0.7M259.0 866.2h1.6M342.8 866.2h1.1M375.8 866.2h0.8M329.7 866.2h1.7M373.9 866.2h1.3M164.6 866.2h0.7M279.7 866.2h0.8M306.8 866.2h0.7M347.1 866.2h0.9M141.5 866.2h0.8M260.4 866.2h1.4M242.1 866.2h0.8M267.2 866.2h1.9M281.5 866.2h1.9M145.7 866.2h2.0M376.3 866.2h1.4M278.3 866.2h1.4M381.8 866.2h0.7M310.3 866.2h1.4M218.5 866.2h1.6M331.1 866.2h0.7M325.5 866.2h1.2M269.4 866.2h1.5M152.2 866.2h1.4M238.0 866.2h1.8M199.9 866.2h1.8M333.5 866.2h1.5M372.7 866.2h0.7M298.0 866.2h1.5M319.7 866.2h1.2M156.5 866.2h0.9M301.0 866.2h0.9M155.4 866.2h1.1M264.0 866.2h1.3M145.0 866.2h1.7M227.5 866.2h1.7M140.3 866.2h1.9M296.2 866.2h2.0M402.3 866.2h1.8M166.5 866.2h1.1M200.0 866.2h1.7M189.5 866.2h0.9M167.6 866.2h0.8M389.4 866.2h2.0M237.8 866.2h1.6M263.3 866.2h1.3M237.0 866.2h1.5M201.3 866.2h1.0M276.8 866.2h0.9M255.7 866.2h1.9M144.0 866.2h0.7" stroke="#9090d8" stroke-width="0.9"/>
<line x1="84.00" y1="866.20" x2="138.00" y2="866.20" stroke="#4848d0" stroke-width="0.9" />
<path d="M108 866.2V865.2M111.5 866.2V864.2M113 866.2V860.2M114.2 866.2V863.2M116.8 866.2V838.0M118 866.2V863.2M119.5 866.2V857.2M120.5 866.2V864.2M122.6 866.2V861.7M125 866.2V865.2M130.2 866.2V864.7" stroke="#a8a8f0" stroke-width="0.9"/>
<path d="M116.8 866.2V852.2M113 866.2V863.2M119.5 866.2V861.2" stroke="#3838e0" stroke-width="0.9"/>
<path d="M117.9 866.2 V882.6 H93.5" stroke="#111" stroke-width="1.2" fill="none"/>
<path d="M86.4 882.7 L93.8 879 L93.8 886.5 Z" fill="#111"/>
<text x="102.0" y="893.1" font-size="9.0" fill="#111" stroke="#111" stroke-width="0.19">+1</text>
<rect x="160.00" y="888.40" width="8.10" height="5.20" fill="#000" />
<text x="172.8" y="894.3" font-size="8.87" fill="#111" stroke="#111" stroke-width="0.19">TBX5 JASPAR predicted binding sites</text>
<text x="445.6" y="706.9" font-size="18.3" fill="#000" stroke="#000" stroke-width="0.38" font-weight="bold">F</text>
<text x="515.2" y="727.9" font-size="11.5" fill="#000" stroke="#000" stroke-width="0.24" font-weight="bold" font-style="italic">HSCHARME</text>
<path d="M510.8 740.7 H514.3 V866.8 H593.6 M510.8 804 H514.3" stroke="#666" stroke-width="0.9" fill="none"/>
<text x="508.4" y="743.7" font-size="8.6" fill="#111" stroke="#111" stroke-width="0.18" text-anchor="end">5</text>
<text x="508.4" y="806.6" font-size="8.6" fill="#111" stroke="#111" stroke-width="0.18" text-anchor="end">2.5</text>
<text x="508.4" y="869.4" font-size="8.6" fill="#111" stroke="#111" stroke-width="0.18" text-anchor="end">0</text>
<text transform="translate(490.2,830.3) rotate(-90)" font-size="10.3" fill="#111" stroke="#111" stroke-width="0.22">Log(TPM+1)</text>
<rect x="519.90" y="762.00" width="19.00" height="104.80" fill="#000" />
<rect x="545.3" y="786.4" width="18.0" height="80.4" fill="#fff" stroke="#555" stroke-width="0.9"/>
<rect x="569.70" y="767.20" width="18.70" height="99.60" fill="#808080" />
<path d="M554.1 782.1 V790.3 M549.1 782.1 H558.8 M549.1 790.3 H558.8" stroke="#555" stroke-width="0.8" fill="none"/>
<circle cx="529.2" cy="759.6" r="2.1" fill="#fff" stroke="#555" stroke-width="0.9"/>
<circle cx="529.2" cy="764.6" r="2.1" fill="#fff" stroke="#555" stroke-width="0.9"/>
<circle cx="554.1" cy="780.4" r="2.1" fill="#fff" stroke="#555" stroke-width="0.9"/>
<circle cx="554.1" cy="785" r="2.1" fill="#fff" stroke="#555" stroke-width="0.9"/>
<circle cx="554.1" cy="793.2" r="2.1" fill="#fff" stroke="#555" stroke-width="0.9"/>
<circle cx="578.9" cy="762" r="2.1" fill="#fff" stroke="#555" stroke-width="0.9"/>
<circle cx="578.9" cy="771.8" r="2.1" fill="#fff" stroke="#555" stroke-width="0.9"/>
<rect x="605.50" y="777.10" width="8.30" height="8.00" fill="#000" />
<rect x="605.9" y="792.3" width="7.6" height="7.3" fill="#fff" stroke="#222" stroke-width="0.8"/>
<rect x="605.9" y="807.7" width="7.6" height="7.0" fill="#c0c0c0" stroke="#222" stroke-width="0.8"/>
<text x="618.7" y="786.0" font-size="10.3" fill="#111" stroke="#111" stroke-width="0.22">TBX5_WT</text>
<text x="618.7" y="799.2" font-size="10.3" fill="#111" stroke="#111" stroke-width="0.22">TBX5_KO</text>
<text x="618.7" y="814.7" font-size="10.3" fill="#111" stroke="#111" stroke-width="0.22">TBX5_OE</text>
</svg>
</body></html>
